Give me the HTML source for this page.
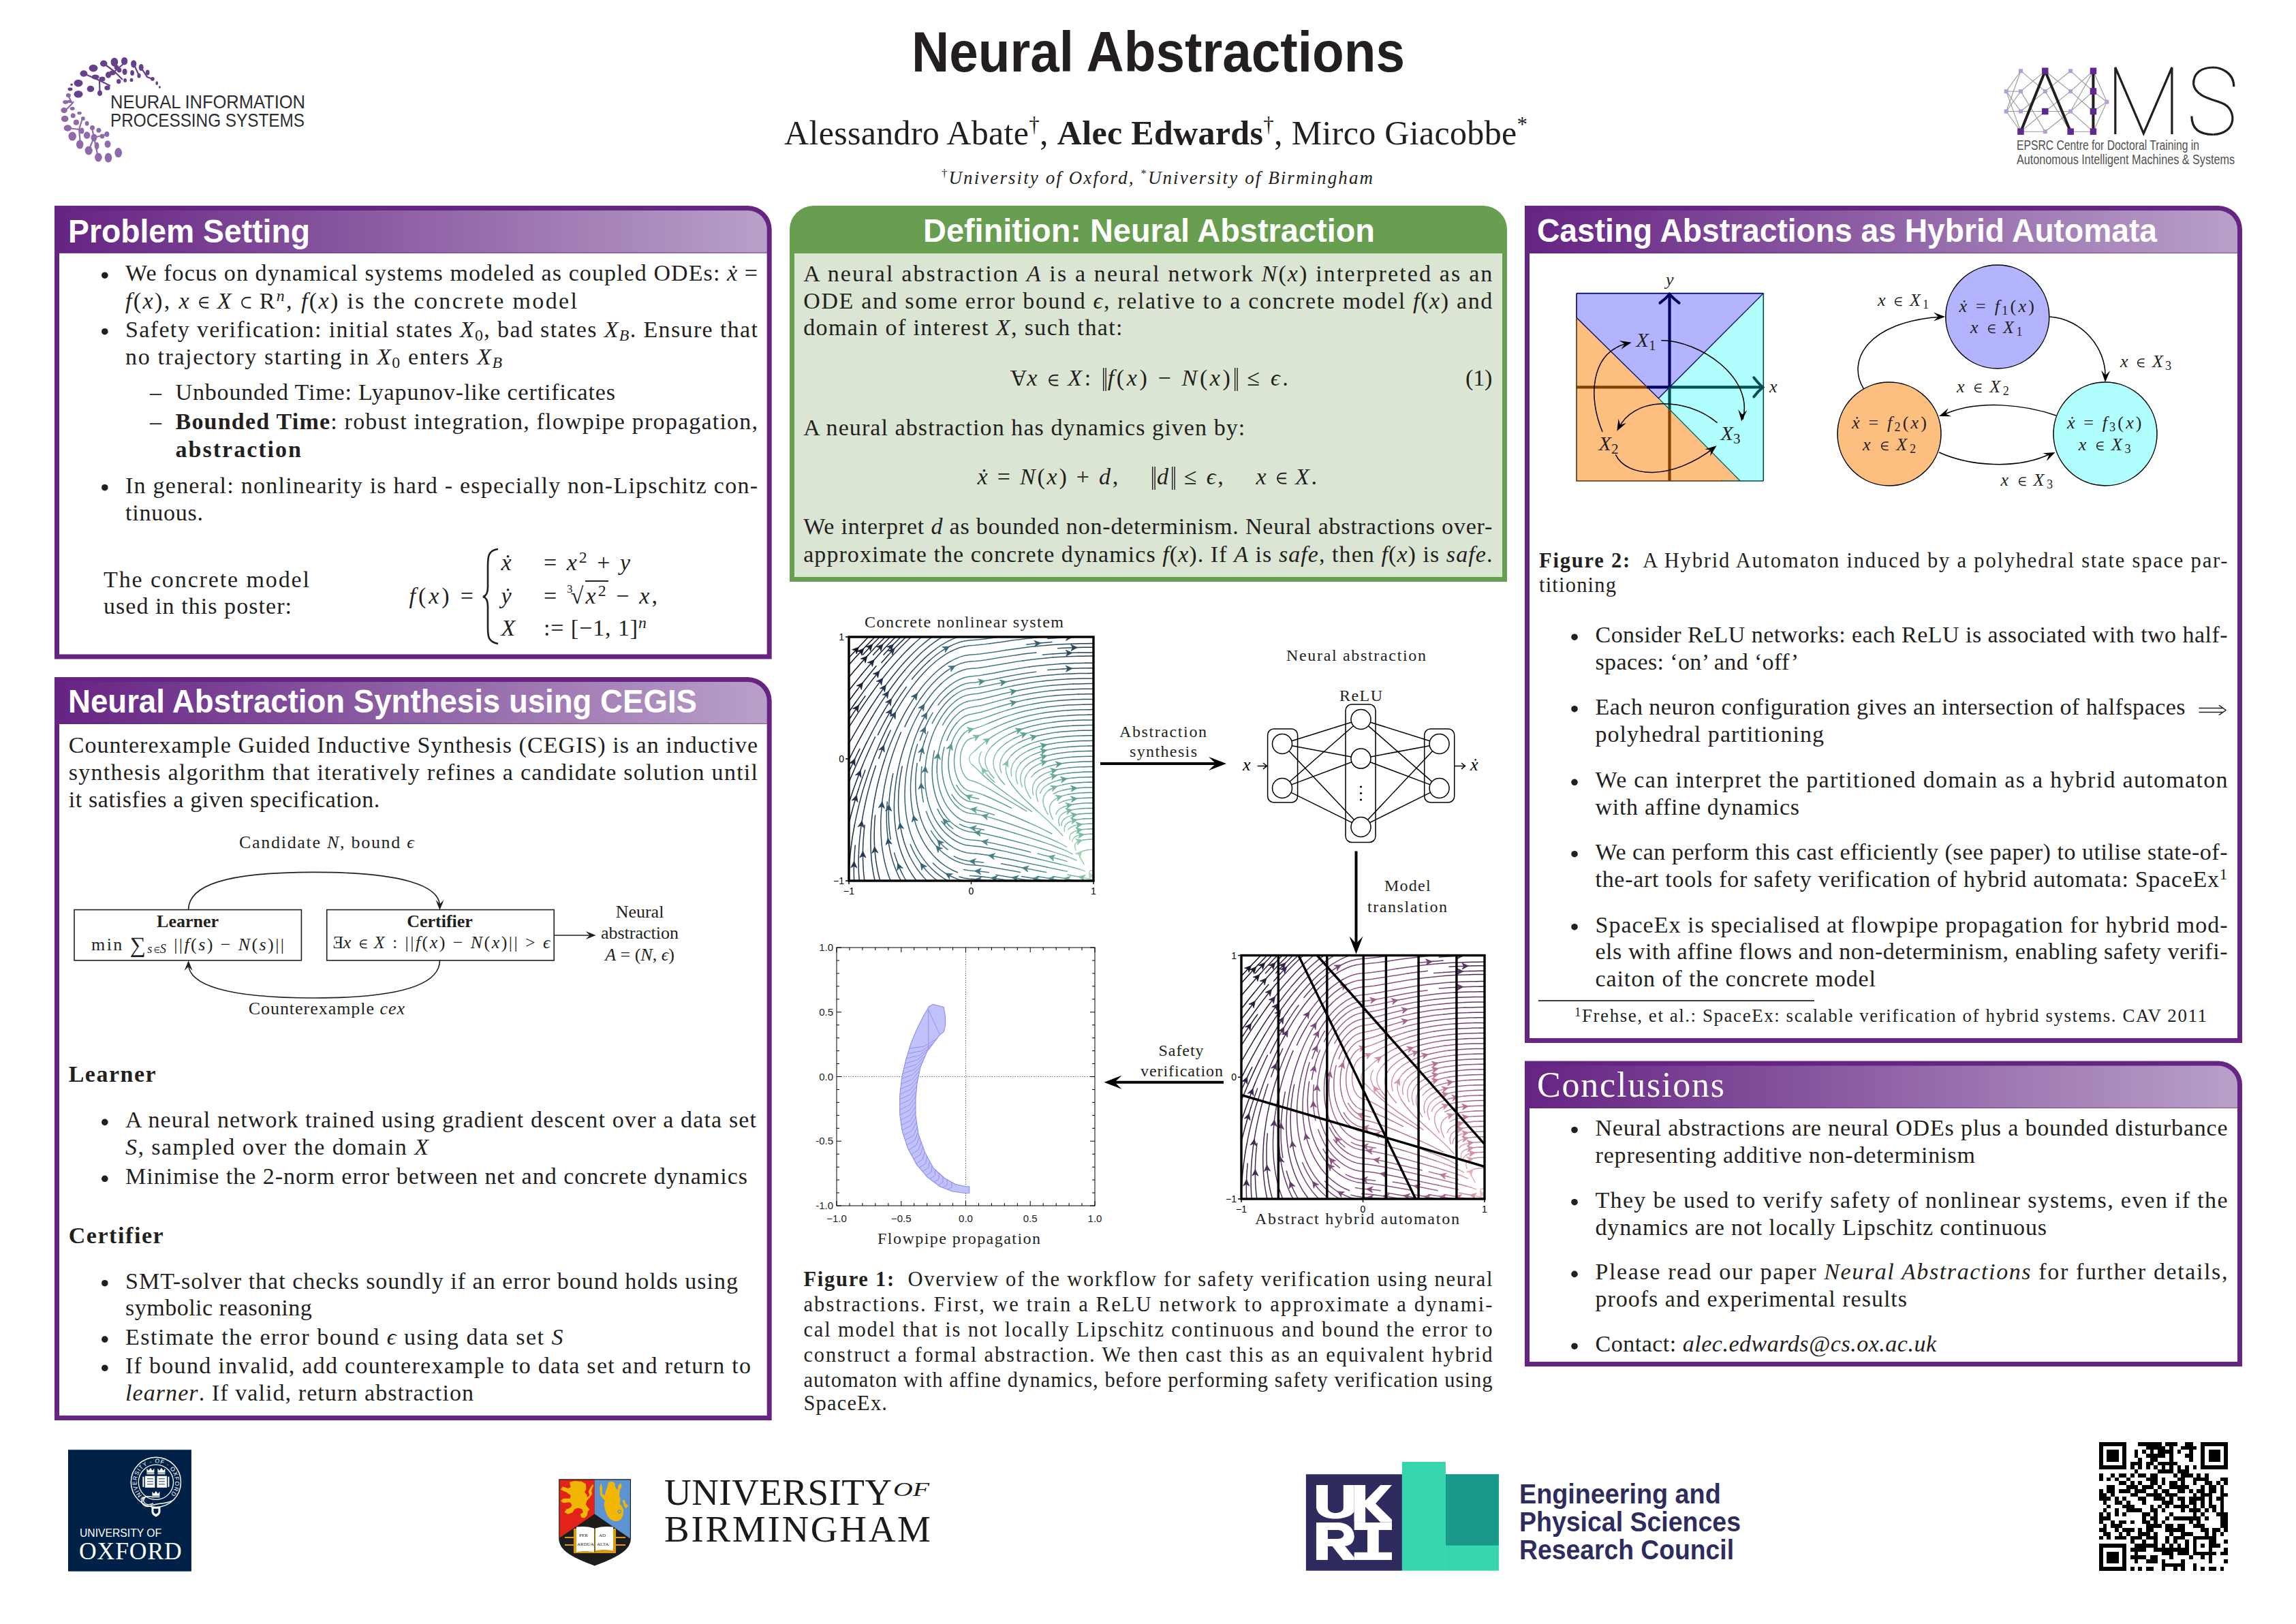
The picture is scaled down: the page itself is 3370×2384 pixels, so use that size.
<!DOCTYPE html><html><head><meta charset="utf-8"><title>Neural Abstractions</title><style>
*{margin:0;padding:0;box-sizing:border-box}
html,body{width:3370px;height:2384px;overflow:hidden;background:#fff}
body{position:relative;font-family:"Liberation Serif",serif;color:#231f20}
.a{position:absolute;white-space:nowrap;line-height:1}
#g{position:absolute;left:0;top:0}
.sb{font-size:0.7em;vertical-align:-0.22em;line-height:0}
.sp{font-size:0.7em;vertical-align:0.45em;line-height:0}
.sp2{font-size:0.62em;vertical-align:0.62em;line-height:0}
.rot{display:inline-block;transform:rotate(180deg)}
.mir{display:inline-block;transform:scaleX(-1)}
.subset{display:inline-block;width:0.5em;height:0.5em;border:0.065em solid currentColor;border-right:none;border-radius:0.25em 0 0 0.25em;vertical-align:0.02em}
.ovl{border-top:0.06em solid currentColor;padding-top:0.05em}
.idx{font-size:0.5em;vertical-align:0.9em;margin-right:-0.35em;line-height:0}
.impl{vertical-align:-0.05em}
.nrm{width:0.2em;height:1em;vertical-align:-0.24em;margin:0 0.03em}
.elm{width:0.5em;height:0.6em;vertical-align:-0.07em;overflow:visible}
</style></head><body><svg id="g" width="3370" height="2384" viewBox="0 0 3370 2384"><defs><linearGradient id="pg" x1="0" x2="1" y1="0" y2="0"><stop offset="0" stop-color="#662483"/><stop offset="1" stop-color="#b9a0c9"/></linearGradient></defs><path fill="#662483" d="M80.0 302.0H1097.7A35 35 0 0 1 1132.7 337.0V967.5H80.0Z"/><rect fill="#fff" x="87.0" y="371.5" width="1038.7" height="589.0"/><path fill="url(#pg)" d="M87.0 309.0H1097.7A28 28 0 0 1 1125.7 337.0V371.5H87.0Z"/><rect fill="#5c1f78" opacity="0.5" x="87.0" y="370.3" width="1038.7" height="1.2"/><path fill="#662483" d="M80.0 994.0H1097.7A35 35 0 0 1 1132.7 1029.0V2085.0H80.0Z"/><rect fill="#fff" x="87.0" y="1063.0" width="1038.7" height="1015.0"/><path fill="url(#pg)" d="M87.0 1001.0H1097.7A28 28 0 0 1 1125.7 1029.0V1063.0H87.0Z"/><rect fill="#5c1f78" opacity="0.5" x="87.0" y="1061.8" width="1038.7" height="1.2"/><path fill="#689e50" d="M1159.0 337.0A35 35 0 0 1 1194.0 302.0H2177.0A35 35 0 0 1 2212.0 337.0V854.0H1159.0Z"/><rect fill="#dbe5d4" x="1166.0" y="372.0" width="1039.0" height="475.0"/><path fill="#662483" d="M2238.0 302.0H3256.0A35 35 0 0 1 3291.0 337.0V1531.0H2238.0Z"/><rect fill="#fff" x="2245.0" y="372.0" width="1039.0" height="1152.0"/><path fill="url(#pg)" d="M2245.0 309.0H3256.0A28 28 0 0 1 3284.0 337.0V372.0H2245.0Z"/><rect fill="#5c1f78" opacity="0.5" x="2245.0" y="370.8" width="1039.0" height="1.2"/><path fill="#662483" d="M2238.0 1557.5H3256.0A35 35 0 0 1 3291.0 1592.5V2006.0H2238.0Z"/><rect fill="#fff" x="2245.0" y="1627.0" width="1039.0" height="372.0"/><path fill="url(#pg)" d="M2245.0 1564.5H3256.0A28 28 0 0 1 3284.0 1592.5V1627.0H2245.0Z"/><rect fill="#5c1f78" opacity="0.5" x="2245.0" y="1625.8" width="1039.0" height="1.2"/><path fill="none" stroke="#231f20" stroke-width="2.6" d="M731 806 C716 808 716 818 716 832 L716 862 C716 872 713 875 709 876 C713 877 716 880 716 890 L716 920 C716 934 716 942 731 945"/><g fill="none" stroke="#231f20" stroke-width="1.6"><rect x="109" y="1335.5" width="333.4" height="74.3"/><rect x="479.7" y="1335.5" width="333.5" height="74.3"/><path d="M276.6 1335.5 C276.6 1300 330 1280.4 461 1280.4 C590 1280.4 645.5 1300 645.5 1330"/><path d="M645.5 1409.8 C645.5 1445 590 1465 461 1465 C330 1465 276.6 1445 276.6 1415"/><path d="M813.2 1373H868"/></g><path fill="#231f20" stroke="none" d="M645.5 1336.0L639.5 1321.0L645.5 1327.0L651.5 1321.0Z"/><path fill="#231f20" stroke="none" d="M276.6 1410.0L282.6 1425.0L276.6 1419.0L270.6 1425.0Z"/><path fill="#231f20" stroke="none" d="M874.6 1373.0L859.6 1379.0L865.6 1373.0L859.6 1367.0Z"/><path stroke="#000" stroke-width="4" d="M1615 1121H1785"/><path fill="#000" stroke="none" d="M1800.0 1121.0L1774.0 1131.0L1784.4 1121.0L1774.0 1111.0Z"/><path stroke="#000" stroke-width="4" d="M1990.5 1249.5V1385"/><path fill="#000" stroke="none" d="M1990.5 1400.5L1980.5 1374.5L1990.5 1384.9L2000.5 1374.5Z"/><path stroke="#000" stroke-width="4" d="M1796 1588.7H1635"/><path fill="#000" stroke="none" d="M1620.5 1588.7L1646.5 1578.7L1636.1 1588.7L1646.5 1598.7Z"/><g fill="none" stroke="#000" stroke-width="1.5"><rect x="1860.6" y="1070" width="44" height="108" rx="9"/><rect x="1975" y="1034" width="44" height="202.5" rx="9"/><rect x="2090.7" y="1070" width="44" height="108" rx="9"/><path d="M1895.8 1087.7L1983.7 1060.3"/><path d="M1896.3 1094.7L1983.2 1110.9"/><path d="M1892.0 1102.5L1987.5 1203.5"/><path d="M1892.9 1147.5L1986.6 1065.5"/><path d="M1895.6 1151.9L1983.9 1118.7"/><path d="M1895.0 1163.4L1984.5 1207.6"/><path d="M2011.3 1060.3L2098.8 1087.7"/><path d="M2008.4 1065.6L2101.7 1147.4"/><path d="M2011.8 1110.9L2098.3 1094.7"/><path d="M2011.1 1118.7L2099.0 1151.9"/><path d="M2007.5 1203.5L2102.6 1102.5"/><path d="M2010.5 1207.6L2099.6 1163.4"/><circle cx="1882.0" cy="1092.0" r="14.5" fill="#fff"/><circle cx="1882.0" cy="1157.0" r="14.5" fill="#fff"/><circle cx="1997.5" cy="1056.0" r="14.5" fill="#fff"/><circle cx="1997.5" cy="1113.6" r="14.5" fill="#fff"/><circle cx="1997.5" cy="1214.0" r="14.5" fill="#fff"/><circle cx="2112.6" cy="1092.0" r="14.5" fill="#fff"/><circle cx="2112.6" cy="1157.0" r="14.5" fill="#fff"/><path d="M1845.7 1124.4H1859M2135 1124.4H2150"/><path d="M1854 1120L1859.5 1124.4L1854 1128.8M2145 1120L2150.5 1124.4L2145 1128.8"/></g><circle cx="1997.5" cy="1155.0" r="1.6" fill="#000"/><circle cx="1997.5" cy="1164.5" r="1.6" fill="#000"/><circle cx="1997.5" cy="1174.0" r="1.6" fill="#000"/><text x="1824" y="1131" font-family="Liberation Serif" font-style="italic" font-size="26" fill="#000">x</text><text x="2158" y="1131" font-family="Liberation Serif" font-style="italic" font-size="26" fill="#000">ẋ</text><clipPath id="c1"><rect x="1246" y="935" width="359" height="358"/></clipPath><clipPath id="c2"><rect x="1822" y="1402.5" width="357" height="357.5"/></clipPath><g clip-path="url(#c1)"><g fill="none" stroke-width="1.5" stroke-linecap="round" stroke-linejoin="round"><path stroke="#badfc3" d="M1604.9 1292.6 1604.0 1290.9 1603.4 1289.4 1602.4 1287.5 1601.4 1286.0 1600.2 1284.0 1599.3 1282.2 1598.8 1279.7 1599.6 1278.6M1605.0 1291.7 1600.8 1290.7"/><path stroke="#9fd1b3" d="M1599.6 1278.6 1601.8 1278.0 1605.0 1277.8M1591.2 1268.8 1588.2 1263.7 1586.3 1260.0 1585.3 1257.2 1584.9 1254.8 1585.5 1252.2 1587.3 1250.3 1590.2 1248.9M1579.2 1248.4 1578.0 1245.0 1577.6 1242.2 1578.1 1239.2 1579.9 1236.9 1582.9 1235.0M1570.4 1232.8 1570.0 1229.5 1570.6 1226.2 1572.4 1223.4M1562.4 1220.4 1562.1 1216.7 1562.9 1213.0M1427.7 1123.1 1424.5 1120.5 1422.8 1116.1 1422.8 1112.2 1423.7 1109.4 1425.5 1107.0 1431.1 1102.1M1592.3 1278.8 1585.3 1276.3M1600.8 1290.7 1596.4 1289.8 1589.1 1288.3M1573.7 1235.2 1574.4 1232.1 1577.3 1228.9"/><path stroke="#89c4a8" d="M1605.0 1277.8 1605.0 1277.8M1590.2 1248.9 1597.5 1247.6 1605.0 1247.3M1582.9 1235.0 1590.1 1233.0M1572.4 1223.4 1575.7 1221.1 1582.7 1218.7M1567.8 1217.7 1570.6 1215.0 1575.4 1212.6 1582.7 1210.8M1562.9 1213.0 1564.9 1209.9 1568.4 1207.2 1575.3 1204.5M1558.0 1211.7 1558.4 1207.9 1560.0 1204.4 1563.1 1201.4 1568.1 1198.6 1575.3 1196.4M1555.1 1212.2 1554.0 1207.8 1553.8 1203.8 1554.9 1199.8 1557.2 1196.3 1561.2 1193.3 1568.0 1190.3M1549.9 1195.5 1552.0 1191.1 1555.3 1187.7 1560.8 1184.6M1553.8 1179.3 1560.6 1176.2M1545.4 1202.8 1542.6 1197.0 1541.1 1191.9 1540.5 1187.3 1541.1 1182.7 1543.5 1178.0 1547.1 1174.3 1553.5 1170.5M1538.0 1195.4 1534.5 1188.9 1532.2 1183.2 1531.2 1178.1 1531.1 1173.2 1532.5 1168.3 1535.2 1164.0 1539.6 1160.0M1526.7 1164.6 1529.2 1159.3 1533.0 1155.1 1539.1 1150.9M1523.6 1176.5 1521.7 1170.7 1520.9 1165.4 1521.2 1160.2 1523.1 1154.9 1526.4 1150.3 1532.2 1145.6M1516.7 1166.8 1515.6 1161.2 1515.6 1155.9 1517.1 1150.4 1520.0 1145.6 1525.3 1140.5M1513.6 1140.9 1518.6 1135.4M1513.1 1172.3 1509.3 1165.9 1506.2 1159.4 1504.5 1153.5 1503.9 1147.8 1504.6 1142.1 1507.2 1136.1 1511.8 1130.3M1500.3 1155.0 1498.4 1149.0 1497.7 1143.2 1498.3 1137.3 1500.6 1131.1 1505.1 1125.2M1493.8 1150.4 1491.8 1144.3 1491.0 1138.3 1491.6 1132.3 1494.0 1126.0 1498.3 1120.0M1484.7 1139.3 1483.9 1133.3 1484.6 1127.1 1487.0 1120.6 1491.4 1114.6M1559.9 1226.7 1554.9 1221.2 1549.7 1215.9 1544.3 1210.7 1538.9 1205.5 1533.4 1200.5 1527.9 1195.5 1522.3 1190.5M1482.0 1146.8 1478.8 1140.3 1476.9 1134.1 1476.2 1128.1 1477.0 1121.7 1479.9 1114.9 1484.3 1108.9M1469.7 1134.3 1468.0 1128.3 1467.7 1122.1 1469.1 1115.4 1472.3 1108.8 1477.0 1103.0M1465.4 1140.2 1461.6 1133.9 1459.2 1127.9 1458.0 1121.9 1458.2 1115.5 1460.5 1108.5 1464.5 1102.2M1454.1 1136.4 1450.0 1130.3 1447.4 1124.7 1446.0 1119.1 1446.1 1113.0 1447.8 1107.2 1451.5 1100.8 1456.3 1095.1M1442.8 1137.6 1437.4 1132.4 1432.1 1127.2 1427.7 1123.1M1431.1 1102.1 1436.5 1096.9 1442.1 1092.0 1447.9 1087.3M1425.4 1084.0 1432.5 1082.0M1574.2 1253.8 1567.6 1250.3 1560.8 1247.3M1585.3 1276.3 1578.1 1274.2M1589.1 1288.3 1581.8 1286.8M1577.3 1228.9 1580.7 1227.1 1585.6 1225.7 1592.7 1224.7M1580.1 1263.0 1573.2 1260.0 1566.2 1257.3M1565.7 1243.3 1559.2 1239.7 1552.5 1236.4M1449.2 1137.8 1444.4 1132.1 1440.3 1125.9 1437.5 1119.1 1437.0 1113.8 1438.1 1108.5 1440.3 1103.8"/><path stroke="#73b49f" d="M1582.1 1293.0 1574.7 1291.7 1567.3 1290.4M1605.0 1247.3 1605.0 1247.3M1590.1 1233.0 1597.5 1232.3 1605.0 1232.1M1582.7 1218.7 1590.1 1217.5 1597.5 1217.0M1582.7 1210.8 1590.1 1209.8 1597.5 1209.3M1575.3 1204.5 1582.6 1203.0 1590.1 1202.1M1575.3 1196.4 1582.6 1195.2M1568.0 1190.3 1575.2 1188.5 1582.6 1187.4M1560.8 1184.6 1567.9 1182.2 1575.2 1180.7M1560.6 1176.2 1567.8 1174.2 1575.2 1172.9M1553.5 1170.5 1560.5 1168.0 1567.8 1166.3M1546.5 1165.1 1553.3 1162.0 1560.4 1159.9M1539.6 1160.0 1546.1 1156.4 1553.1 1153.8 1560.4 1151.9M1539.1 1150.9 1545.9 1147.8 1553.0 1145.6M1532.2 1145.6 1538.7 1142.1 1545.7 1139.5M1525.3 1140.5 1531.7 1136.6 1538.5 1133.6 1545.6 1131.3M1518.6 1135.4 1524.7 1131.1 1531.3 1127.8 1538.4 1125.2M1511.8 1130.3 1517.7 1125.7 1524.2 1122.1 1531.1 1119.3M1505.1 1125.2 1510.7 1120.4 1517.1 1116.5 1523.9 1113.4M1498.3 1120.0 1503.8 1115.0 1510.1 1110.9 1516.7 1107.6M1491.4 1114.6 1496.8 1109.5 1503.0 1105.3 1509.6 1101.8M1522.3 1190.5 1516.8 1185.4 1511.3 1180.4 1505.9 1175.2 1500.6 1170.0 1495.5 1164.6 1490.6 1158.9 1486.0 1153.0 1482.0 1146.8M1484.3 1108.9 1489.8 1103.9 1495.9 1099.6 1502.4 1096.0M1477.0 1103.0 1482.6 1098.1 1488.7 1093.8 1495.2 1090.2M1474.7 1151.8 1469.8 1146.2 1465.4 1140.2M1464.5 1102.2 1469.6 1096.8 1475.3 1092.0 1481.5 1087.9 1488.0 1084.2M1458.8 1142.1 1454.1 1136.4M1456.3 1095.1 1461.9 1090.1 1467.9 1085.7 1474.2 1081.7 1480.8 1078.1M1514.4 1191.3 1508.3 1187.1 1502.2 1182.8 1496.0 1178.6 1489.9 1174.3 1483.8 1170.0 1477.7 1165.6 1471.7 1161.2 1465.7 1156.7 1459.8 1152.1 1454.0 1147.4 1448.3 1142.6 1442.8 1137.6M1447.9 1087.3 1454.0 1083.0 1460.3 1079.0 1466.8 1075.3 1473.4 1071.9M1506.8 1190.9 1500.4 1187.0 1494.0 1183.2 1487.6 1179.3 1481.1 1175.5 1474.7 1171.7 1468.3 1167.8 1461.9 1164.0 1455.5 1160.2 1449.0 1156.4 1442.5 1152.8 1435.8 1149.4 1428.8 1146.8 1424.7 1145.8 1420.7 1144.1 1416.7 1140.2 1413.0 1133.9 1410.6 1126.8 1409.5 1119.4 1409.5 1112.0 1410.5 1104.6 1412.6 1097.7 1415.4 1092.2 1418.3 1088.2 1421.4 1085.6 1425.4 1084.0M1432.5 1082.0 1439.3 1078.8 1445.9 1075.3 1452.6 1071.9 1459.3 1068.6M1444.1 1167.3 1437.1 1164.7 1430.0 1162.6 1425.1 1161.8 1420.1 1160.3 1415.1 1156.9M1414.9 1076.4 1418.7 1073.3 1423.4 1071.2 1430.6 1069.4 1437.8 1067.1 1444.7 1064.4 1451.6 1061.5M1543.8 1224.0 1537.2 1220.5 1530.5 1217.2 1523.7 1213.9 1517.0 1210.8 1510.1 1207.7M1560.8 1247.3 1553.8 1244.5 1546.9 1241.8 1539.8 1239.3 1532.7 1236.9M1578.1 1274.2 1570.9 1272.3 1563.6 1270.4 1556.4 1268.7M1581.8 1286.8 1574.4 1285.4 1567.1 1283.9M1566.5 1279.3 1559.2 1277.8M1566.4 1264.6 1559.2 1262.5 1552.0 1260.6M1592.7 1224.7 1600.1 1224.3M1566.2 1257.3 1559.2 1254.9 1552.1 1252.6 1544.9 1250.4M1552.5 1236.4 1545.7 1233.3 1538.8 1230.3 1531.9 1227.5 1524.9 1224.8M1459.9 1148.3 1454.4 1143.2 1449.2 1137.8"/><path stroke="#5fa195" d="M1559.2 1293.0 1551.8 1291.7M1567.3 1290.4 1560.0 1289.1 1552.6 1287.8 1545.3 1286.4M1605.0 1232.1 1605.0 1232.1M1597.5 1217.0 1605.0 1216.8 1605.0 1216.8M1597.5 1209.3 1605.0 1209.2 1605.0 1209.2M1590.1 1202.1 1597.5 1201.7 1605.0 1201.6M1582.6 1195.2 1590.1 1194.5 1597.5 1194.1 1605.0 1194.0M1582.6 1187.4 1590.1 1186.8 1597.5 1186.5M1575.2 1180.7 1582.6 1179.7 1590.0 1179.1 1597.5 1178.8M1575.2 1172.9 1582.6 1172.0 1590.0 1171.5M1567.8 1166.3 1575.1 1165.1 1582.6 1164.3 1590.0 1163.8M1560.4 1159.9 1567.7 1158.4 1575.1 1157.4 1582.6 1156.7M1560.4 1151.9 1567.7 1150.6 1575.1 1149.6M1553.0 1145.6 1560.3 1144.0 1567.7 1142.8 1575.1 1141.9M1545.7 1139.5 1553.0 1137.6 1560.3 1136.1 1567.7 1135.0M1545.6 1131.3 1552.9 1129.6 1560.3 1128.3 1567.7 1127.3M1538.4 1125.2 1545.6 1123.2 1552.9 1121.7 1560.2 1120.5M1531.1 1119.3 1538.2 1117.0 1545.5 1115.2 1552.8 1113.8M1523.9 1113.4 1531.0 1110.9 1538.2 1108.9 1545.4 1107.3M1516.7 1107.6 1523.7 1104.9 1530.8 1102.7 1538.1 1100.8 1545.4 1099.3M1509.6 1101.8 1516.5 1098.9 1523.5 1096.5 1530.7 1094.5 1538.0 1092.8M1502.4 1096.0 1509.2 1093.0 1516.3 1090.4 1523.4 1088.2 1530.7 1086.4M1495.2 1090.2 1502.0 1087.0 1509.0 1084.4 1516.1 1082.0 1523.3 1080.1M1488.0 1084.2 1494.8 1081.1 1501.7 1078.3 1508.8 1075.9 1516.0 1073.8M1480.8 1078.1 1487.5 1075.0 1494.5 1072.2 1501.5 1069.7 1508.7 1067.5M1473.4 1071.9 1480.2 1068.8 1487.2 1066.0 1494.2 1063.5 1501.3 1061.2M1459.3 1068.6 1466.0 1065.4 1472.9 1062.5 1479.9 1059.7 1486.9 1057.2 1494.0 1055.0M1484.7 1186.3 1478.0 1183.0 1471.3 1179.7 1464.6 1176.5 1457.8 1173.3 1451.0 1170.2 1444.1 1167.3M1415.1 1156.9 1410.1 1151.4 1406.3 1145.0 1403.6 1138.1 1401.7 1130.9 1400.7 1123.5 1400.5 1116.1 1401.0 1108.6 1402.3 1101.3 1404.3 1094.1 1407.2 1087.3 1411.0 1081.0 1414.9 1076.4M1451.6 1061.5 1458.5 1058.7 1465.5 1056.0 1472.5 1053.3 1479.6 1050.9 1486.7 1048.6M1510.1 1207.7 1503.3 1204.7 1496.4 1201.8 1489.6 1198.8 1482.7 1196.0 1475.7 1193.1 1468.8 1190.3 1461.8 1187.6 1454.8 1185.0 1447.8 1182.5 1440.7 1180.3 1433.4 1178.4 1427.0 1177.3 1420.5 1176.0 1414.0 1172.6 1408.3 1167.7 1403.6 1162.0 1399.8 1155.5 1396.9 1148.7 1394.6 1141.6M1397.0 1090.2 1399.8 1083.3 1403.3 1076.7 1407.6 1070.6 1412.3 1065.6 1416.9 1062.2 1422.2 1059.8 1429.5 1058.1 1436.8 1056.4 1443.9 1054.1 1451.0 1051.7 1458.0 1049.2 1465.1 1046.8 1472.2 1044.4 1479.3 1042.2M1404.3 1061.2 1409.5 1056.0 1414.7 1052.2 1421.5 1049.2 1428.8 1047.7 1436.1 1046.3 1443.3 1044.4 1450.5 1042.2 1457.6 1040.0 1464.8 1037.8M1532.7 1236.9 1525.7 1234.5 1518.5 1232.2 1511.4 1229.9 1504.3 1227.7 1497.2 1225.5 1490.0 1223.3M1414.0 1041.9 1420.9 1039.2 1428.2 1037.8 1435.6 1036.6 1442.9 1034.9 1450.1 1033.0 1457.3 1031.1M1420.5 1029.5 1427.8 1028.3 1435.2 1027.3M1556.4 1268.7 1549.1 1266.9 1541.8 1265.2 1534.5 1263.5 1527.2 1261.7M1559.2 1277.8 1551.9 1276.2 1544.5 1274.7 1537.2 1273.1M1552.0 1260.6 1544.7 1258.6 1537.5 1256.7 1530.3 1254.9 1523.0 1253.0M1600.1 1224.3 1605.0 1224.2M1544.9 1250.4 1537.7 1248.3 1530.6 1246.2 1523.4 1244.1 1516.2 1242.1 1509.0 1240.1M1524.9 1224.8 1517.9 1222.1 1510.9 1219.5 1503.9 1217.0 1496.8 1214.5 1489.8 1212.0 1482.7 1209.5 1475.6 1207.2 1468.5 1204.8 1461.4 1202.6 1454.3 1200.4 1447.1 1198.4 1439.8 1196.5 1432.5 1195.1 1425.1 1194.2 1418.9 1193.0 1413.2 1190.5 1407.3 1186.5M1459.4 1196.3 1452.2 1194.0 1445.1 1191.9 1437.8 1190.0 1430.5 1188.6 1423.1 1187.4 1417.1 1185.6 1411.7 1182.6 1406.1 1178.0 1401.2 1172.5M1436.6 1172.8 1429.3 1171.1 1422.1 1169.4 1416.7 1167.0 1412.2 1163.6 1407.7 1158.6 1403.6 1152.3"/><path stroke="#4f8e8d" d="M1414.8 994.9 1422.1 993.3 1429.5 992.5 1436.9 991.7 1444.3 990.5M1536.3 1293.0 1528.9 1291.7 1521.5 1290.4M1551.8 1291.7 1544.4 1290.4 1537.1 1289.1 1529.7 1287.8 1522.4 1286.4M1605.0 1201.6 1605.0 1201.6M1605.0 1194.0 1605.0 1194.0M1597.5 1186.5 1605.0 1186.4 1605.0 1186.4M1597.5 1178.8 1605.0 1178.7 1605.0 1178.7M1590.0 1171.5 1597.5 1171.2 1605.0 1171.1 1605.0 1171.1M1590.0 1163.8 1597.5 1163.6 1605.0 1163.5M1582.6 1156.7 1590.0 1156.2 1597.5 1156.0 1605.0 1155.9M1575.1 1149.6 1582.6 1149.0 1590.0 1148.6 1597.5 1148.3M1575.1 1141.9 1582.6 1141.3 1590.0 1140.9 1597.5 1140.7M1567.7 1135.0 1575.1 1134.2 1582.6 1133.7 1590.0 1133.3M1567.7 1127.3 1575.1 1126.5 1582.6 1126.0 1590.0 1125.7M1560.2 1120.5 1567.7 1119.5 1575.1 1118.9 1582.6 1118.4M1552.8 1113.8 1560.2 1112.7 1567.7 1111.8 1575.1 1111.2M1545.4 1107.3 1552.8 1106.0 1560.2 1104.9 1567.7 1104.1 1575.1 1103.5M1545.4 1099.3 1552.8 1098.1 1560.2 1097.2 1567.6 1096.4M1538.0 1092.8 1545.4 1091.5 1552.8 1090.3 1560.2 1089.4 1567.6 1088.7M1530.7 1086.4 1538.0 1084.9 1545.4 1083.6 1552.8 1082.6 1560.2 1081.7M1523.3 1080.1 1530.6 1078.4 1538.0 1077.0 1545.3 1075.8 1552.7 1074.8M1516.0 1073.8 1523.2 1072.0 1530.6 1070.4 1537.9 1069.1 1545.3 1068.0M1508.7 1067.5 1515.9 1065.6 1523.2 1063.9 1530.5 1062.5 1537.9 1061.2 1545.3 1060.2M1501.3 1061.2 1508.6 1059.2 1515.8 1057.5 1523.1 1055.9 1530.5 1054.6 1537.9 1053.4M1494.0 1055.0 1501.2 1052.9 1508.5 1051.1 1515.8 1049.4 1523.1 1048.0 1530.5 1046.7M1486.7 1048.6 1493.9 1046.5 1501.1 1044.6 1508.4 1042.9 1515.7 1041.4 1523.1 1040.0M1394.6 1141.6 1393.1 1134.3 1392.2 1126.9 1392.0 1119.5 1392.4 1112.0 1393.3 1104.6 1394.9 1097.3 1397.0 1090.2M1479.3 1042.2 1486.5 1040.1 1493.7 1038.2 1501.0 1036.5 1508.3 1034.9 1515.7 1033.4M1389.8 1087.1 1392.6 1080.2 1395.9 1073.5 1399.7 1067.1 1404.3 1061.2M1464.8 1037.8 1472.0 1035.7 1479.1 1033.7 1486.4 1031.7 1493.6 1030.0 1500.9 1028.3 1508.3 1026.8M1490.0 1223.3 1482.8 1221.1 1475.7 1219.0 1468.5 1217.0 1461.3 1215.0 1454.0 1213.1 1446.8 1211.3 1439.5 1209.8 1432.1 1208.5 1425.2 1207.8 1417.9 1206.5 1411.1 1203.6 1404.8 1199.5 1399.2 1194.6 1394.2 1189.1 1389.9 1183.1 1386.1 1176.6 1383.0 1169.8 1380.4 1162.8 1378.4 1155.7 1376.9 1148.4 1375.9 1141.0 1375.3 1133.5M1375.5 1118.6 1376.3 1111.2 1377.5 1103.9 1379.1 1096.6 1381.1 1089.4 1383.5 1082.3 1386.4 1075.5 1389.7 1068.8 1393.5 1062.4 1397.8 1056.3 1402.7 1050.7 1408.3 1045.7 1414.0 1041.9M1457.3 1031.1 1464.5 1029.1 1471.8 1027.1 1479.0 1025.2 1486.3 1023.5 1493.5 1021.8 1500.9 1020.3M1383.6 1064.3 1387.4 1057.8 1391.6 1051.7 1396.3 1045.9 1401.5 1040.6 1407.3 1035.9 1413.5 1032.1 1420.5 1029.5M1435.2 1027.3 1442.6 1025.8 1449.8 1024.1 1457.1 1022.3 1464.3 1020.4 1471.6 1018.6 1478.9 1016.9 1486.2 1015.2 1493.5 1013.7M1527.2 1261.7 1520.0 1260.1 1512.7 1258.4 1505.4 1256.7 1498.1 1255.0 1490.8 1253.4 1483.5 1251.7 1476.2 1250.1 1468.9 1248.6M1390.1 1041.3 1395.1 1035.7 1400.6 1030.7 1406.6 1026.2 1413.1 1022.6 1420.2 1020.2 1427.5 1019.0 1434.9 1018.2 1442.3 1016.8 1449.6 1015.3 1456.9 1013.6 1464.2 1011.9 1471.5 1010.2 1478.8 1008.6 1486.1 1007.1M1400.0 1021.0 1406.2 1016.8 1412.8 1013.4 1419.9 1011.1 1427.3 1010.0 1434.7 1009.3 1442.1 1008.0 1449.4 1006.6 1456.7 1005.1 1464.0 1003.5 1471.4 1001.9 1478.7 1000.4M1535.7 1280.6 1528.3 1279.2 1521.0 1277.8 1513.6 1276.3 1506.3 1274.9M1537.2 1273.1 1529.9 1271.6 1522.6 1270.0 1515.3 1268.5 1508.0 1266.9 1500.6 1265.4 1493.3 1263.8M1509.0 1240.1 1501.8 1238.1 1494.5 1236.2 1487.3 1234.3 1480.1 1232.4 1472.8 1230.5 1465.6 1228.7 1458.3 1227.0 1451.0 1225.3 1443.7 1223.8 1436.3 1222.6 1428.9 1221.7 1421.5 1220.7 1414.3 1218.8 1407.6 1215.6 1401.3 1211.5 1395.6 1206.7 1390.5 1201.3 1386.0 1195.3M1512.6 1250.9 1505.3 1249.1 1498.1 1247.3 1490.8 1245.5 1483.5 1243.8 1476.2 1242.1 1469.0 1240.4 1461.7 1238.8 1454.3 1237.3 1447.0 1235.8 1439.6 1234.6 1432.2 1233.6 1424.8 1233.0 1417.4 1231.9 1410.4 1229.4 1403.7 1226.0M1407.3 1186.5 1401.9 1181.4 1397.2 1175.6 1393.2 1169.3 1390.0 1162.6 1387.3 1155.6 1385.3 1148.5 1383.8 1141.1 1382.9 1133.7 1382.5 1126.3 1382.6 1118.9 1383.2 1111.4 1384.3 1104.0 1385.9 1096.8M1403.9 1009.5 1410.5 1006.0 1417.4 1003.5 1424.7 1002.3 1432.1 1001.7 1439.5 1000.6 1446.9 999.3 1454.2 997.9 1461.6 996.4M1398.8 1216.8 1393.1 1211.9M1444.3 1218.2 1437.0 1216.8 1429.5 1215.8 1422.1 1214.9 1415.0 1213.0 1408.3 1209.8M1401.2 1172.5 1397.0 1166.3"/><path stroke="#427a83" d="M1415.6 948.9 1423.0 947.8 1430.5 947.3 1437.9 946.6 1445.4 945.8 1452.8 944.8M1395.5 970.6 1402.2 967.2 1409.1 964.4 1416.3 962.3 1423.7 961.3 1431.1 960.7 1438.6 960.0 1446.0 959.1 1453.4 958.0 1460.8 956.9 1468.2 955.7 1475.6 954.6M1381.2 1003.9 1386.8 999.0 1392.7 994.4 1398.9 990.3 1405.5 986.8 1412.4 984.0 1419.7 982.1 1427.1 981.3 1434.5 980.7 1441.9 979.7 1449.3 978.6 1456.7 977.3 1464.1 976.0 1471.4 974.8 1478.8 973.5 1486.2 972.3 1493.6 971.1 1501.0 970.0M1369.5 1032.3 1374.0 1026.4 1378.8 1020.6 1383.9 1015.2 1389.3 1010.1 1395.1 1005.4 1401.3 1001.2 1407.9 997.7 1414.8 994.9M1444.3 990.5 1451.7 989.2 1459.0 987.9 1466.4 986.5 1473.7 985.1 1481.1 983.8 1488.5 982.5 1495.8 981.3 1503.2 980.1 1510.6 979.1M1482.8 1293.0 1475.4 1291.8 1468.0 1290.6 1460.6 1289.5 1453.2 1288.4 1445.8 1287.4M1430.9 1285.9 1423.5 1285.4M1513.3 1293.0 1506.0 1291.7 1498.6 1290.5 1491.2 1289.2 1483.9 1287.9 1476.5 1286.7 1469.1 1285.5 1461.7 1284.3M1521.5 1290.4 1514.2 1289.1 1506.8 1287.8 1499.4 1286.5M1605.0 1163.5 1605.0 1163.5M1605.0 1155.9 1605.0 1155.9M1597.5 1148.3 1605.0 1148.3 1605.0 1148.3M1597.5 1140.7 1605.0 1140.7 1605.0 1140.7M1590.0 1133.3 1597.5 1133.1 1605.0 1133.0 1605.0 1133.0M1590.0 1125.7 1597.5 1125.5 1605.0 1125.4 1605.0 1125.4M1582.6 1118.4 1590.0 1118.0 1597.5 1117.9 1605.0 1117.8M1575.1 1111.2 1582.6 1110.7 1590.0 1110.4 1597.5 1110.2 1605.0 1110.2M1575.1 1103.5 1582.6 1103.1 1590.0 1102.8 1597.5 1102.6M1567.6 1096.4 1575.1 1095.9 1582.6 1095.4 1590.0 1095.2 1597.5 1095.0M1567.6 1088.7 1575.1 1088.2 1582.6 1087.8 1590.0 1087.5M1560.2 1081.7 1567.6 1081.1 1575.1 1080.5 1582.6 1080.2 1590.0 1079.9M1552.7 1074.8 1560.2 1074.0 1567.6 1073.4 1575.1 1072.9 1582.6 1072.5M1545.3 1068.0 1552.7 1067.1 1560.2 1066.3 1567.6 1065.7 1575.1 1065.2M1545.3 1060.2 1552.7 1059.3 1560.2 1058.6 1567.6 1058.0 1575.1 1057.6M1537.9 1053.4 1545.3 1052.4 1552.7 1051.6 1560.2 1050.9 1567.6 1050.4M1530.5 1046.7 1537.9 1045.6 1545.3 1044.7 1552.7 1043.9 1560.2 1043.2 1567.6 1042.7M1523.1 1040.0 1530.4 1038.9 1537.8 1037.8 1545.3 1036.9 1552.7 1036.2 1560.2 1035.6M1515.7 1033.4 1523.0 1032.2 1530.4 1031.0 1537.8 1030.0 1545.3 1029.2 1552.7 1028.5M1508.3 1026.8 1515.6 1025.5 1523.0 1024.3 1530.4 1023.2 1537.8 1022.3 1545.3 1021.5M1375.3 1133.5 1375.2 1126.1 1375.5 1118.6M1500.9 1020.3 1508.2 1018.9 1515.6 1017.6 1523.0 1016.4 1530.4 1015.4 1537.8 1014.5 1545.2 1013.8M1493.5 1013.7 1500.8 1012.2 1508.2 1010.9 1515.6 1009.7 1523.0 1008.6 1530.4 1007.6 1537.8 1006.8M1468.9 1248.6 1461.6 1247.1 1454.2 1245.6 1446.9 1244.3 1439.5 1243.1 1432.1 1242.2 1424.6 1241.6 1417.2 1240.6 1410.2 1238.3 1403.4 1235.0 1397.1 1231.0 1391.3 1226.4 1385.9 1221.2 1381.1 1215.5 1376.7 1209.5 1372.8 1203.1 1369.4 1196.5 1366.4 1189.6 1363.9 1182.6 1361.9 1175.4 1360.3 1168.2 1359.0 1160.8 1358.2 1153.4 1357.7 1146.0 1357.6 1138.5 1357.8 1131.1 1358.4 1123.6 1359.2 1116.2 1360.4 1108.9 1361.9 1101.6 1363.8 1094.3 1365.9 1087.2 1368.3 1080.1 1371.1 1073.2 1374.2 1066.4 1377.6 1059.8 1381.4 1053.4 1385.6 1047.2 1390.1 1041.3M1486.1 1007.1 1493.4 1005.6 1500.8 1004.2 1508.1 1003.0 1515.5 1001.8 1522.9 1000.8 1530.4 999.9M1368.2 1061.9 1371.7 1055.3 1375.5 1048.9 1379.7 1042.7 1384.2 1036.7 1389.0 1031.1 1394.3 1025.8 1400.0 1021.0M1478.7 1000.4 1486.0 998.9 1493.4 997.6 1500.7 996.3 1508.1 995.1 1515.5 994.0 1522.9 993.0M1451.4 1280.8 1444.0 1279.8 1436.6 1279.0 1429.1 1278.4 1421.7 1277.8 1414.3 1276.5M1497.5 1280.5 1490.1 1279.1 1482.8 1277.8 1475.4 1276.4 1468.1 1275.2 1460.7 1273.9 1453.3 1272.7 1445.9 1271.6 1438.5 1270.7 1431.0 1270.0 1423.6 1269.4 1416.2 1268.4 1409.0 1266.3 1402.1 1263.5 1395.5 1260.0 1389.3 1255.9 1383.4 1251.3 1378.0 1246.2 1372.9 1240.7 1368.3 1234.8M1506.3 1274.9 1499.0 1273.4 1491.6 1272.0 1484.3 1270.6 1476.9 1269.2 1469.6 1267.8M1493.3 1263.8 1486.0 1262.3 1478.7 1260.8 1471.3 1259.4 1464.0 1258.0 1456.6 1256.6 1449.3 1255.3 1441.9 1254.2 1434.5 1253.3 1427.0 1252.7 1419.6 1251.9 1412.4 1250.1 1405.4 1247.3 1398.8 1243.8 1392.7 1239.6 1386.9 1234.8 1381.6 1229.6 1376.8 1223.9 1372.4 1217.9 1368.5 1211.5 1365.1 1204.9 1362.0 1198.1 1359.5 1191.1M1390.4 984.4 1396.6 980.4 1403.2 976.9 1410.1 974.0 1417.3 972.0 1424.7 971.0 1432.1 970.5 1439.6 969.7 1447.0 968.7 1454.4 967.5 1461.8 966.3 1469.1 965.1 1476.5 963.9 1483.9 962.8 1491.3 961.7M1443.7 1266.2 1436.3 1265.3 1428.8 1264.7 1421.4 1264.0 1414.0 1262.5 1407.0 1260.2 1400.2 1257.0M1386.0 1195.3 1382.0 1189.0 1378.6 1182.4 1375.7 1175.6 1373.3 1168.5 1371.4 1161.3 1369.9 1154.0 1368.9 1146.6 1368.3 1139.2 1368.2 1131.7 1368.4 1124.3 1369.0 1116.8 1370.0 1109.4 1371.3 1102.1M1391.1 1247.3 1385.3 1242.6 1379.9 1237.4 1375.0 1231.8 1370.5 1225.9 1366.5 1219.6M1403.7 1226.0 1397.6 1221.8 1391.9 1217.0 1386.7 1211.6 1382.1 1205.7M1377.0 1035.0 1381.6 1029.1 1386.6 1023.6 1392.0 1018.4 1397.7 1013.7 1403.9 1009.5M1461.6 996.4 1468.9 995.0 1476.2 993.5 1483.6 992.1 1490.9 990.8 1498.3 989.5 1505.7 988.3 1513.1 987.2 1520.5 986.3M1393.1 1211.9 1388.0 1206.5 1383.5 1200.6 1379.5 1194.3 1376.0 1187.7M1361.9 1059.2 1365.4 1052.6 1369.2 1046.2M1357.0 1088.2 1359.4 1081.2 1362.0 1074.2M1355.4 1177.3 1354.0 1170.0 1353.0 1162.6 1352.3 1155.2 1352.0 1147.8 1352.0 1140.3 1352.3 1132.9 1352.9 1125.4"/><path stroke="#376576" d="M1359.4 984.0 1364.7 978.8 1370.3 973.8 1376.0 969.0 1382.0 964.6 1388.2 960.4 1394.7 956.7 1401.4 953.5 1408.4 950.8 1415.6 948.9M1452.8 944.8 1460.2 943.8 1467.6 942.7 1475.0 941.7 1482.4 940.6 1489.8 939.6 1497.2 938.7 1504.6 937.8 1512.1 936.9 1519.5 936.2M1347.3 1016.6 1351.7 1010.7 1356.4 1004.8 1361.3 999.2 1366.4 993.7 1371.7 988.5 1377.3 983.5 1383.1 978.8 1389.2 974.5 1395.5 970.6M1475.6 954.6 1483.0 953.5 1490.4 952.4 1497.8 951.4 1505.2 950.5 1512.6 949.6 1520.0 948.8 1527.5 948.0 1534.9 947.4M1333.5 1078.9 1336.4 1072.0 1339.4 1065.2 1342.6 1058.5 1346.0 1051.8 1349.6 1045.3 1353.4 1038.9 1357.5 1032.6 1361.7 1026.5 1366.2 1020.5 1370.9 1014.7 1375.9 1009.2 1381.2 1003.9M1501.0 970.0 1508.4 969.0 1515.8 968.1 1523.2 967.2 1530.7 966.4 1538.1 965.7 1545.6 965.1M1360.6 1293.0 1355.5 1287.6 1350.7 1281.8 1346.2 1275.8 1342.2 1269.6 1338.4 1263.1 1335.0 1256.5M1375.9 1293.0 1370.1 1288.3 1364.6 1283.2 1359.5 1277.8 1354.7 1272.0 1350.3 1266.0 1346.2 1259.8 1342.5 1253.3 1339.2 1246.6 1336.2 1239.8M1391.1 1293.0 1384.7 1289.2 1378.6 1284.9 1372.8 1280.2 1367.3 1275.1 1362.2 1269.7 1357.5 1263.9 1353.1 1257.9 1349.1 1251.6 1345.5 1245.0 1342.2 1238.3 1339.4 1231.4 1336.8 1224.4 1334.6 1217.3 1332.8 1210.1 1331.2 1202.8 1330.0 1195.4 1329.1 1188.0 1328.5 1180.6 1328.1 1173.1 1328.0 1165.7 1328.2 1158.2 1328.6 1150.8 1329.2 1143.4 1330.1 1136.0 1331.2 1128.6 1332.6 1121.2 1334.1 1113.9 1335.9 1106.7 1337.8 1099.5 1340.0 1092.4 1342.4 1085.3 1345.0 1078.3 1347.8 1071.4 1350.8 1064.6 1354.1 1057.9 1357.6 1051.3 1361.3 1044.8 1365.2 1038.5 1369.5 1032.3M1510.6 979.1 1518.0 978.1 1525.5 977.2 1532.9 976.4 1540.4 975.8 1547.8 975.2 1555.3 974.6M1414.0 1293.0 1406.8 1291.0 1399.9 1288.3 1393.2 1285.1 1386.7 1281.3 1380.6 1277.0 1374.9 1272.2 1369.4 1267.1M1452.2 1293.0 1444.8 1292.1 1437.4 1291.2 1429.9 1290.6 1422.5 1290.1 1415.1 1289.0 1407.9 1287.1M1445.8 1287.4 1438.4 1286.6 1430.9 1285.9M1605.0 1117.8 1605.0 1117.8M1605.0 1110.2 1605.0 1110.2M1597.5 1102.6 1605.0 1102.6 1605.0 1102.6M1597.5 1095.0 1605.0 1095.0 1605.0 1095.0M1590.0 1087.5 1597.5 1087.4 1605.0 1087.3 1605.0 1087.3M1590.0 1079.9 1597.5 1079.8 1605.0 1079.7 1605.0 1079.7M1582.6 1072.5 1590.0 1072.3 1597.5 1072.2 1605.0 1072.1 1605.0 1072.1M1575.1 1065.2 1582.6 1064.9 1590.0 1064.7 1597.5 1064.5 1605.0 1064.5M1575.1 1057.6 1582.6 1057.3 1590.0 1057.0 1597.5 1056.9 1605.0 1056.9M1567.6 1050.4 1575.1 1050.0 1582.6 1049.6 1590.0 1049.4 1597.5 1049.3M1567.6 1042.7 1575.1 1042.3 1582.6 1042.0 1590.0 1041.8 1597.5 1041.7M1560.2 1035.6 1567.6 1035.1 1575.1 1034.7 1582.6 1034.4 1590.0 1034.2M1552.7 1028.5 1560.2 1027.9 1567.6 1027.4 1575.1 1027.0 1582.6 1026.7 1590.0 1026.6M1545.3 1021.5 1552.7 1020.8 1560.2 1020.2 1567.6 1019.8 1575.1 1019.4 1582.6 1019.1M1545.2 1013.8 1552.7 1013.1 1560.2 1012.6 1567.6 1012.1 1575.1 1011.8M1537.8 1006.8 1545.2 1006.1 1552.7 1005.4 1560.2 1004.9 1567.6 1004.5 1575.1 1004.1M1530.4 999.9 1537.8 999.1 1545.2 998.4 1552.7 997.7 1560.2 997.2 1567.6 996.8M1522.9 993.0 1530.3 992.1 1537.8 991.3 1545.2 990.7 1552.7 990.1 1560.1 989.6M1537.8 983.6 1545.2 983.0 1552.7 982.4 1560.1 981.9M1530.3 961.2 1537.8 960.5 1545.2 959.9M1364.0 969.9 1369.7 965.0 1375.5 960.4 1381.6 956.0 1387.9 952.1 1394.5 948.5 1401.3 945.4 1408.3 942.8 1415.5 940.9 1422.9 939.9 1430.4 939.4 1437.8 938.8 1445.3 937.9 1452.7 937.0 1460.1 936.0 1467.5 935.0 1467.5 935.0M1373.6 952.5 1379.7 948.2 1386.1 944.3 1392.6 940.7 1399.4 937.6 1406.4 935.0 1406.4 935.0M1377.1 938.9 1383.5 935.0 1383.5 935.0M1506.7 946.2 1514.1 945.3 1521.5 944.5 1529.0 943.8M1405.6 1280.7 1398.8 1277.8 1392.2 1274.2 1385.9 1270.2 1380.0 1265.6 1374.5 1260.6 1369.3 1255.2 1364.5 1249.5 1360.1 1243.5 1356.1 1237.2 1352.6 1230.6 1349.4 1223.9 1346.5 1217.0 1344.1 1209.9 1342.0 1202.8 1340.3 1195.5 1338.9 1188.2 1337.9 1180.8 1337.1 1173.4 1336.7 1165.9 1336.5 1158.5 1336.6 1151.0 1337.0 1143.6 1337.7 1136.2 1338.6 1128.8 1339.7 1121.4 1341.1 1114.1 1342.7 1106.8 1344.6 1099.6 1346.7 1092.4M1368.3 1234.8 1364.1 1228.6 1360.4 1222.2 1357.0 1215.6 1354.1 1208.7 1351.5 1201.7 1349.4 1194.5 1347.6 1187.3 1346.1 1180.0 1345.1 1172.6 1344.3 1165.2 1343.9 1157.7 1343.8 1150.3 1344.0 1142.8 1344.4 1135.4 1345.2 1128.0 1346.2 1120.6M1341.8 1040.4 1345.7 1034.1 1349.8 1027.8 1354.1 1021.7 1358.5 1015.7 1363.2 1009.9 1368.1 1004.3 1373.3 998.9 1378.7 993.7 1384.4 988.9 1390.4 984.4M1491.3 961.7 1498.7 960.6 1506.1 959.6 1513.5 958.7 1521.0 957.9M1350.4 1086.8 1352.9 1079.7 1355.7 1072.8 1358.7 1065.9 1361.9 1059.2M1350.0 1117.2 1351.3 1109.9 1352.9 1102.6 1354.8 1095.4 1357.0 1088.2"/><path stroke="#2e5067" d="M1311.6 1050.5 1315.3 1044.0 1319.1 1037.6 1323.0 1031.2 1327.0 1024.9 1331.2 1018.7 1335.5 1012.6 1339.9 1006.6 1344.5 1000.8 1349.3 995.0 1354.3 989.4 1359.4 984.0M1519.5 936.2 1527.0 935.4 1532.0 935.0M1298.0 1116.6 1300.3 1109.6 1302.8 1102.5 1305.5 1095.5 1308.2 1088.6 1311.1 1081.7 1314.1 1074.9 1317.2 1068.1 1320.4 1061.4 1323.8 1054.7 1327.3 1048.2 1331.0 1041.7 1334.8 1035.3 1338.8 1028.9 1343.0 1022.7 1347.3 1016.6M1534.9 947.4 1542.4 946.8 1549.9 946.3 1557.3 945.8 1564.8 945.5 1572.3 945.2M1307.1 1293.0 1304.5 1286.0 1302.2 1278.9 1300.1 1271.8 1298.3 1264.5 1296.8 1257.2 1295.6 1249.9 1294.5 1242.5 1293.8 1235.1 1293.2 1227.6 1292.9 1220.2 1292.8 1212.7 1292.8 1205.3 1293.1 1197.8 1293.6 1190.4 1294.2 1182.9 1295.0 1175.5 1296.0 1168.1 1297.1 1160.8 1298.4 1153.4 1299.9 1146.1 1301.5 1138.8 1303.2 1131.6 1305.1 1124.3 1307.2 1117.2 1309.4 1110.0 1311.7 1102.9 1314.2 1095.9 1316.8 1088.9 1319.5 1082.0 1322.4 1075.1M1322.4 1293.0 1319.0 1286.3 1316.0 1279.5 1313.3 1272.6 1310.9 1265.5 1308.8 1258.4 1306.9 1251.1 1305.4 1243.8 1304.1 1236.5 1303.1 1229.1 1302.3 1221.7 1301.7 1214.2 1301.4 1206.8 1301.3 1199.3 1301.4 1191.9 1301.8 1184.4 1302.3 1177.0M1330.0 1293.0 1326.3 1286.5 1322.9 1279.9 1319.9 1273.1 1317.2 1266.1 1314.7 1259.1 1312.6 1251.9M1345.3 1293.0 1340.9 1287.0 1336.8 1280.7 1333.1 1274.3 1329.7 1267.6 1326.6 1260.8 1323.8 1253.9 1321.4 1246.9 1319.3 1239.7 1317.5 1232.5 1316.0 1225.2 1314.7 1217.8 1313.8 1210.4 1313.1 1203.0 1312.6 1195.6 1312.4 1188.1 1312.4 1180.6 1312.7 1173.2 1313.1 1165.7 1313.8 1158.3 1314.7 1150.9 1315.7 1143.5 1317.0 1136.2 1318.4 1128.9 1320.1 1121.6 1321.9 1114.3 1323.8 1107.1 1326.0 1100.0 1328.3 1092.9 1330.8 1085.9 1333.5 1078.9M1545.6 965.1 1553.0 964.6 1560.5 964.2 1568.0 963.8 1575.4 963.5 1582.9 963.3M1335.0 1256.5 1332.0 1249.7 1329.3 1242.7 1326.9 1235.7 1324.9 1228.5 1323.1 1221.2 1321.7 1213.9 1320.5 1206.6 1319.7 1199.1 1319.1 1191.7 1318.7 1184.3 1318.6 1176.8 1318.8 1169.3 1319.1 1161.9 1319.7 1154.5 1320.5 1147.1 1321.5 1139.7 1322.8 1132.3 1324.2 1125.0M1555.3 974.6 1562.7 974.2 1570.2 973.9 1577.7 973.6 1585.2 973.4 1592.6 973.2M1605.0 1064.5 1605.0 1064.5M1605.0 1056.9 1605.0 1056.9M1597.5 1049.3 1605.0 1049.3 1605.0 1049.3M1597.5 1041.7 1605.0 1041.6 1605.0 1041.6M1590.0 1034.2 1597.5 1034.1 1605.0 1034.0 1605.0 1034.0M1590.0 1026.6 1597.5 1026.4 1605.0 1026.4 1605.0 1026.4M1582.6 1019.1 1590.0 1018.9 1597.5 1018.8 1605.0 1018.8 1605.0 1018.8M1575.1 1011.8 1582.6 1011.5 1590.0 1011.3 1597.5 1011.2 1605.0 1011.2 1605.0 1011.2M1575.1 1004.1 1582.6 1003.9 1590.0 1003.7 1597.5 1003.6 1605.0 1003.6M1567.6 996.8 1575.1 996.5 1582.6 996.2 1590.0 996.1 1597.5 996.0 1605.0 995.9M1560.1 989.6 1567.6 989.2 1575.1 988.9 1582.6 988.6 1590.0 988.4 1597.5 988.4M1560.1 981.9 1567.6 981.5 1575.1 981.2 1582.6 981.0 1590.0 980.8 1597.5 980.7M1545.2 959.9 1552.7 959.4 1560.1 959.0 1567.6 958.6 1575.1 958.3 1582.6 958.1M1552.7 951.7 1560.1 951.3 1567.6 951.0 1575.1 950.7M1537.7 937.4 1545.2 936.9 1552.7 936.4 1560.1 936.0 1567.6 935.7M1338.5 997.1 1343.3 991.3 1348.2 985.7 1353.3 980.3 1358.6 975.0 1364.0 969.9M1322.1 1006.2 1326.6 1000.2 1331.2 994.4 1335.9 988.6 1340.8 983.0 1345.9 977.5 1351.1 972.1 1356.4 966.9 1361.9 961.9 1367.7 957.1 1373.6 952.5M1327.8 984.2 1332.7 978.6 1337.7 973.1 1342.9 967.7 1348.1 962.4 1353.6 957.3 1359.2 952.4 1365.0 947.6 1371.0 943.1 1377.1 938.9M1334.6 964.5 1339.8 959.2 1345.2 954.0 1350.7 949.0 1356.4 944.1 1362.2 939.4 1368.2 935.0 1368.2 935.0M1341.6 944.8 1347.2 939.8 1352.9 935.0 1352.9 935.0M1529.0 943.8 1536.4 943.2 1543.9 942.6M1328.0 1066.9 1331.2 1060.1 1334.6 1053.5 1338.1 1046.9 1341.8 1040.4M1317.7 1026.7 1321.8 1020.5 1326.1 1014.4 1330.4 1008.3M1307.1 1232.1 1306.1 1224.7 1305.3 1217.3 1304.7 1209.8 1304.4 1202.4 1304.3 1194.9 1304.5 1187.5 1304.8 1180.0 1305.3 1172.6 1306.1 1165.2 1307.0 1157.7 1308.1 1150.4 1309.3 1143.0 1310.8 1135.7M1304.0 1078.9 1307.1 1072.1"/><path stroke="#253b54" d="M1254.2 1211.5 1255.7 1204.2 1257.2 1196.9 1258.9 1189.6 1260.6 1182.4 1262.5 1175.1 1264.4 1167.9 1266.4 1160.7 1268.6 1153.6 1270.8 1146.5 1273.1 1139.4 1275.5 1132.3 1278.0 1125.3 1280.6 1118.3 1283.2 1111.3 1286.0 1104.4 1288.9 1097.5 1291.8 1090.6 1294.9 1083.8 1298.0 1077.1 1301.2 1070.3 1304.6 1063.7 1308.0 1057.1 1311.6 1050.5M1253.6 1293.0 1253.4 1285.5 1253.3 1278.1 1253.4 1270.6 1253.7 1263.2 1254.1 1255.7 1254.6 1248.3 1255.3 1240.9M1261.3 1293.0 1260.7 1285.6 1260.3 1278.1 1260.2 1270.7 1260.1 1263.2 1260.3 1255.7 1260.6 1248.3 1261.0 1240.8 1261.6 1233.4 1262.4 1226.0 1263.2 1218.6 1264.2 1211.2 1265.4 1203.8 1266.6 1196.5 1268.0 1189.1 1269.5 1181.8 1271.1 1174.5 1272.8 1167.3 1274.6 1160.1 1276.6 1152.9 1278.6 1145.7 1280.8 1138.5 1283.0 1131.4 1285.4 1124.3M1268.9 1293.0 1268.0 1285.6 1267.3 1278.2 1266.9 1270.7 1266.6 1263.3 1266.4 1255.8 1266.5 1248.4 1266.7 1240.9 1267.1 1233.5 1267.7 1226.0 1268.3 1218.6 1269.2 1211.2M1284.2 1293.0 1282.6 1285.7 1281.3 1278.4 1280.2 1271.0 1279.3 1263.6 1278.7 1256.2 1278.2 1248.7 1278.0 1241.3 1277.9 1233.8 1278.0 1226.3 1278.3 1218.9 1278.8 1211.4 1279.4 1204.0 1280.2 1196.6 1281.1 1189.2 1282.2 1181.8 1283.4 1174.5 1284.8 1167.1 1286.3 1159.8 1287.9 1152.5 1289.7 1145.3 1291.6 1138.1 1293.6 1130.9 1295.7 1123.7 1298.0 1116.6M1572.3 945.2 1579.7 944.9 1587.2 944.8 1594.7 944.7 1602.2 944.6 1605.0 944.6M1291.8 1293.0 1289.9 1285.8 1288.3 1278.5 1286.9 1271.2 1285.7 1263.8 1284.8 1256.4 1284.0 1249.0 1283.5 1241.6 1283.3 1234.1 1283.2 1226.7 1283.3 1219.2 1283.5 1211.7 1284.0 1204.3 1284.6 1196.9M1582.9 963.3 1590.4 963.2 1597.9 963.1 1605.0 963.0M1592.6 973.2 1600.1 973.2 1605.0 973.2M1605.0 1003.6 1605.0 1003.6M1605.0 995.9 1605.0 995.9M1597.5 988.4 1605.0 988.3 1605.0 988.3M1597.5 980.7 1605.0 980.7 1605.0 980.7M1582.6 958.1 1590.0 958.0 1597.5 957.9 1605.0 957.9 1605.0 957.9M1575.1 950.7 1582.6 950.5 1590.0 950.3 1597.5 950.3 1605.0 950.2 1605.0 950.2M1567.6 935.7 1575.1 935.4 1582.6 935.2 1590.0 935.1 1597.5 935.0 1605.0 935.0M1272.4 1089.4 1275.8 1082.8 1279.2 1076.1 1282.7 1069.5 1286.2 1063.0 1289.8 1056.4 1293.6 1050.0 1297.4 1043.5 1301.2 1037.2 1305.2 1030.8 1309.3 1024.6 1313.4 1018.4 1317.7 1012.3 1322.1 1006.2M1280.7 1051.4 1284.6 1045.0 1288.5 1038.7 1292.5 1032.4 1296.6 1026.2 1300.8 1020.0 1305.1 1013.8 1309.4 1007.8 1313.9 1001.8 1318.4 995.8 1323.0 990.0 1327.8 984.2M1288.1 1022.9 1292.4 1016.7 1296.7 1010.7 1301.1 1004.6 1305.6 998.7 1310.2 992.8 1314.9 987.0 1319.6 981.2 1324.5 975.5 1329.5 970.0 1334.6 964.5M1292.0 1000.4 1296.6 994.5 1301.2 988.7 1305.9 982.9 1310.7 977.2 1315.6 971.5 1320.6 966.0 1325.7 960.5 1330.9 955.1 1336.2 949.9 1341.6 944.8M1301.3 972.5 1306.2 966.9 1311.2 961.3 1316.3 955.9 1321.5 950.5 1326.8 945.2 1332.1 940.0 1337.7 935.0 1337.7 935.0M1303.8 961.6 1308.9 956.1 1314.0 950.7 1319.3 945.4 1324.6 940.1 1330.0 935.0 1330.0 935.0M1314.7 935.0 1314.7 935.0M1266.4 1122.7 1269.2 1115.8 1272.2 1108.9 1275.2 1102.1 1278.3 1095.3 1281.4 1088.5 1284.6 1081.8M1260.0 1158.9 1262.3 1151.8 1264.7 1144.8 1267.2 1137.7 1269.8 1130.7M1307.1 950.2 1312.3 944.9 1317.6 939.6 1322.3 935.0M1288.5 1078.8 1291.8 1072.1 1295.2 1065.5 1298.7 1058.9 1302.3 1052.3 1306.0 1045.8 1309.8 1039.4 1313.7 1033.0 1317.7 1026.7M1289.9 1113.4 1292.5 1106.4 1295.2 1099.5 1298.0 1092.6 1300.9 1085.7 1304.0 1078.9"/><path stroke="#1b263c" d="M1246.0 1293.0 1246.1 1285.5 1246.3 1278.1 1246.7 1270.6 1247.2 1263.2 1247.8 1255.8 1248.6 1248.3 1249.5 1240.9 1250.5 1233.6 1251.6 1226.2 1252.9 1218.8 1254.2 1211.5M1605.0 935.0 1605.0 935.0M1246.0 1148.5 1247.9 1143.8 1250.8 1136.9 1253.7 1130.1 1256.7 1123.2 1259.7 1116.4 1262.8 1109.6 1265.9 1102.9 1269.1 1096.1 1272.4 1089.4M1246.0 1115.3 1248.5 1110.3 1251.9 1103.7 1255.3 1097.0 1258.8 1090.4 1262.3 1083.9 1265.9 1077.3 1269.5 1070.8 1273.2 1064.3 1276.9 1057.8 1280.7 1051.4M1246.0 1091.2 1248.8 1086.3 1252.5 1079.8 1256.3 1073.4 1260.1 1066.9 1263.9 1060.5 1267.8 1054.2 1271.8 1047.8 1275.8 1041.5 1279.8 1035.3 1284.0 1029.1 1288.1 1022.9M1246.0 1067.5 1249.6 1061.9 1253.7 1055.6 1257.7 1049.3 1261.8 1043.1 1266.0 1036.9 1270.2 1030.7 1274.4 1024.6 1278.7 1018.5 1283.1 1012.4 1287.5 1006.4 1292.0 1000.4M1255.5 1031.5 1259.9 1025.4 1264.3 1019.4 1268.7 1013.4 1273.2 1007.4 1277.7 1001.4 1282.3 995.5 1286.9 989.7 1291.6 983.9 1296.4 978.2 1301.3 972.5M1293.9 972.8 1298.8 967.2 1303.8 961.6M1264.6 990.3 1269.4 984.6 1274.2 978.8 1279.0 973.2 1284.0 967.5 1288.9 962.0 1293.9 956.4 1299.0 951.0 1304.2 945.6 1309.4 940.2 1314.7 935.0M1273.8 962.1 1278.8 956.6 1283.9 951.1 1289.0 945.7 1294.2 940.3 1299.5 935.0 1299.5 935.0M1279.0 940.3 1284.2 935.0 1284.2 935.0M1246.0 1133.0 1249.1 1126.2 1252.2 1119.5 1255.4 1112.7 1258.6 1106.0 1261.9 1099.3M1246.0 1178.7 1248.3 1171.7 1250.7 1164.6 1253.1 1157.5 1255.6 1150.5 1258.2 1143.5 1260.9 1136.5 1263.6 1129.6 1266.4 1122.7M1246.0 1209.2 1247.7 1202.0 1249.6 1194.7 1251.5 1187.5 1253.5 1180.3 1255.6 1173.2 1257.7 1166.0 1260.0 1158.9M1258.1 1012.8 1262.7 1006.9 1267.3 1001.0 1271.9 995.2 1276.6 989.3 1281.3 983.6 1286.1 977.8M1296.9 961.2 1302.0 955.7 1307.1 950.2M1281.7 961.2 1286.7 955.7 1291.8 950.2 1297.0 944.8 1302.2 939.5 1306.6 935.0M1276.6 950.2 1281.7 944.8 1286.9 939.4 1291.2 935.0M1248.7 1052.5 1252.8 1046.3 1257.0 1040.2 1261.3 1034.0 1265.6 1027.9 1269.9 1021.8"/><path stroke="#101322" d="M1246.0 1045.0 1246.9 1043.7 1251.2 1037.6 1255.5 1031.5M1246.0 1013.6 1250.6 1007.8 1255.2 1001.9 1259.9 996.1 1264.6 990.3M1246.0 994.2 1249.3 990.3 1254.1 984.6 1259.0 978.9 1263.9 973.3 1268.8 967.7 1273.8 962.1M1246.0 976.0 1248.5 973.2 1253.5 967.6 1258.5 962.1 1263.6 956.6 1268.6 951.1 1273.8 945.7 1279.0 940.3M1246.0 965.5 1251.1 960.0 1256.2 954.5 1261.3 949.1 1266.4 943.7 1271.6 938.3 1274.9 935.0M1246.0 1029.0 1249.2 1024.8 1253.6 1018.8 1258.1 1012.8M1266.4 961.2 1271.5 955.7 1276.6 950.2M1246.0 1056.6 1248.7 1052.5"/></g><g stroke-width="0.8" stroke-linejoin="miter"><path fill="#2a4760" stroke="#2a4760" d="M1314.0 1055.6L1314.7 1045.1L1306.0 1051.1L1311.3 1051.0Z"/><path fill="#21324b" stroke="#21324b" d="M1257.9 1274.1L1253.6 1264.4L1248.7 1273.7L1253.4 1271.2Z"/><path fill="#233750" stroke="#233750" d="M1268.3 1215.1L1265.2 1205.0L1259.2 1213.7L1264.2 1211.8Z"/><path fill="#243852" stroke="#243852" d="M1271.0 1259.1L1266.5 1249.6L1261.8 1259.1L1266.4 1256.4Z"/><path fill="#31586e" stroke="#31586e" d="M1344.8 1028.0L1346.5 1017.6L1337.3 1022.7L1342.6 1023.2Z"/><path fill="#27415a" stroke="#27415a" d="M1288.9 1252.0L1283.6 1242.8L1279.7 1252.6L1284.1 1249.6Z"/><path fill="#2a4760" stroke="#2a4760" d="M1298.4 1186.7L1294.9 1176.7L1289.3 1185.7L1294.1 1183.5Z"/><path fill="#2c4c64" stroke="#2c4c64" d="M1309.1 1239.1L1303.2 1230.3L1300.0 1240.4L1304.2 1237.1Z"/><path fill="#2e5168" stroke="#2e5168" d="M1325.4 1274.4L1317.6 1267.3L1316.8 1277.8L1320.1 1273.6Z"/><path fill="#376576" stroke="#376576" d="M1355.5 1044.1L1356.8 1033.6L1347.8 1039.2L1353.1 1039.4Z"/><path fill="#31576d" stroke="#31576d" d="M1326.7 1216.4L1320.7 1207.8L1317.6 1217.9L1321.8 1214.5Z"/><path fill="#356073" stroke="#356073" d="M1360.3 1272.0L1351.0 1267.0L1352.9 1277.4L1355.0 1272.5Z"/><path fill="#396a79" stroke="#396a79" d="M1359.9 1056.4L1360.7 1045.9L1351.9 1051.8L1357.3 1051.8Z"/><path fill="#396a79" stroke="#396a79" d="M1398.3 1282.8L1387.8 1281.9L1393.6 1290.7L1393.7 1285.4Z"/><path fill="#3b6e7c" stroke="#3b6e7c" d="M1441.0 1286.9L1431.2 1290.7L1440.3 1296.1L1438.0 1291.3Z"/><path fill="#3d707d" stroke="#3d707d" d="M1464.5 1285.4L1454.5 1288.6L1463.2 1294.5L1461.2 1289.6Z"/><path fill="#417982" stroke="#417982" d="M1495.2 1285.2L1485.1 1288.1L1493.7 1294.3L1491.8 1289.3Z"/><path fill="#488388" stroke="#488388" d="M1525.5 1286.5L1515.4 1289.3L1523.9 1295.5L1522.1 1290.5Z"/><path fill="#52918e" stroke="#52918e" d="M1548.5 1286.5L1538.3 1289.3L1546.8 1295.5L1545.0 1290.5Z"/><path fill="#62a497" stroke="#62a497" d="M1571.4 1286.5L1561.2 1289.3L1569.7 1295.5L1567.9 1290.5Z"/><path fill="#b1dbbd" stroke="#b1dbbd" d="M1607.1 1287.1L1598.6 1280.9L1599.0 1291.5L1601.8 1287.0Z"/><path fill="#a1d2b4" stroke="#a1d2b4" d="M1584.8 1259.5L1588.1 1249.4L1578.2 1253.1L1583.4 1254.4Z"/><path fill="#8ec7ab" stroke="#8ec7ab" d="M1581.0 1240.3L1588.9 1233.3L1578.5 1231.5L1582.3 1235.2Z"/><path fill="#7cbaa2" stroke="#7cbaa2" d="M1580.2 1223.7L1588.8 1217.7L1578.7 1214.6L1582.1 1218.8Z"/><path fill="#74b59f" stroke="#74b59f" d="M1580.0 1215.8L1588.8 1210.0L1578.8 1206.6L1582.1 1210.9Z"/><path fill="#79b9a1" stroke="#79b9a1" d="M1573.1 1209.6L1581.4 1203.2L1571.2 1200.6L1574.7 1204.6Z"/><path fill="#73b49f" stroke="#73b49f" d="M1572.8 1201.5L1581.4 1195.4L1571.3 1192.5L1574.7 1196.6Z"/><path fill="#77b7a0" stroke="#77b7a0" d="M1565.9 1195.6L1574.0 1188.8L1563.7 1186.6L1567.4 1190.5Z"/><path fill="#70b19d" stroke="#70b19d" d="M1565.6 1187.4L1574.0 1180.9L1563.7 1178.4L1567.3 1182.3Z"/><path fill="#62a497" stroke="#62a497" d="M1572.5 1177.8L1581.4 1172.2L1571.4 1168.7L1574.6 1172.9Z"/><path fill="#78b8a1" stroke="#78b8a1" d="M1551.9 1175.9L1559.3 1168.4L1548.8 1167.3L1552.9 1170.7Z"/><path fill="#5a9c93" stroke="#5a9c93" d="M1572.3 1162.2L1581.3 1156.8L1571.5 1153.1L1574.5 1157.4Z"/><path fill="#73b49f" stroke="#73b49f" d="M1544.6 1161.8L1552.0 1154.2L1541.5 1153.2L1545.5 1156.6Z"/><path fill="#5fa195" stroke="#5fa195" d="M1557.8 1149.1L1566.5 1143.0L1556.4 1140.0L1559.7 1144.1Z"/><path fill="#68aa99" stroke="#68aa99" d="M1543.8 1144.8L1551.8 1137.9L1541.4 1135.9L1545.2 1139.7Z"/><path fill="#63a597" stroke="#63a597" d="M1543.5 1136.6L1551.7 1129.9L1541.4 1127.6L1545.0 1131.5Z"/><path fill="#599a92" stroke="#599a92" d="M1550.4 1126.7L1559.0 1120.7L1548.9 1117.7L1552.3 1121.8Z"/><path fill="#65a798" stroke="#65a798" d="M1529.4 1124.7L1537.1 1117.4L1526.6 1115.9L1530.5 1119.5Z"/><path fill="#61a396" stroke="#61a396" d="M1529.1 1116.2L1537.0 1109.2L1526.6 1107.4L1530.4 1111.1Z"/><path fill="#5d9f94" stroke="#5d9f94" d="M1528.8 1107.9L1536.9 1101.1L1526.5 1099.0L1530.3 1102.8Z"/><path fill="#599a92" stroke="#599a92" d="M1528.6 1099.7L1536.8 1093.1L1526.5 1090.7L1530.2 1094.6Z"/><path fill="#82bfa5" stroke="#82bfa5" d="M1480.0 1126.5L1479.4 1116.0L1471.5 1123.0L1476.8 1122.3Z"/><path fill="#5a9c93" stroke="#5a9c93" d="M1514.2 1087.3L1522.1 1080.4L1511.8 1078.5L1515.5 1082.2Z"/><path fill="#5fa195" stroke="#5fa195" d="M1500.1 1083.7L1507.6 1076.3L1497.2 1075.0L1501.2 1078.5Z"/><path fill="#5ea095" stroke="#5ea095" d="M1492.9 1077.6L1500.4 1070.1L1489.9 1068.9L1493.9 1072.4Z"/><path fill="#78b8a1" stroke="#78b8a1" d="M1447.9 1093.0L1453.0 1083.7L1442.6 1085.5L1447.4 1087.7Z"/><path fill="#79b9a1" stroke="#79b9a1" d="M1431.5 1087.5L1438.2 1079.3L1427.6 1079.2L1432.0 1082.2Z"/><path fill="#72b39e" stroke="#72b39e" d="M1421.4 1076.5L1429.4 1069.7L1419.1 1067.6L1422.8 1071.4Z"/><path fill="#579891" stroke="#579891" d="M1398.3 1101.8L1396.7 1091.4L1389.5 1099.1L1394.7 1097.9Z"/><path fill="#4f8e8d" stroke="#4f8e8d" d="M1484.3 1037.0L1492.4 1030.3L1482.1 1028.1L1485.8 1031.9Z"/><path fill="#498588" stroke="#498588" d="M1380.3 1115.2L1377.3 1105.1L1371.2 1113.7L1376.2 1111.8Z"/><path fill="#4a8789" stroke="#4a8789" d="M1483.9 1020.4L1492.3 1013.9L1482.0 1011.4L1485.6 1015.3Z"/><path fill="#3f747f" stroke="#3f747f" d="M1362.1 1134.7L1358.3 1124.9L1353.0 1134.0L1357.8 1131.7Z"/><path fill="#498588" stroke="#498588" d="M1469.1 1007.1L1477.5 1000.7L1467.2 998.1L1470.8 1002.1Z"/><path fill="#2f5269" stroke="#2f5269" d="M1564.6 986.3L1573.9 981.3L1564.2 977.1L1567.0 981.6Z"/><path fill="#2c4b63" stroke="#2c4b63" d="M1564.5 963.3L1573.9 958.4L1564.2 954.1L1567.0 958.6Z"/><path fill="#29435c" stroke="#29435c" d="M1572.0 955.4L1581.3 950.5L1571.7 946.2L1574.5 950.7Z"/><path fill="#29435c" stroke="#29435c" d="M1564.5 940.4L1573.8 935.5L1564.2 931.2L1567.0 935.7Z"/><path fill="#376576" stroke="#376576" d="M1387.3 957.7L1393.4 949.1L1382.9 949.6L1387.4 952.3Z"/><path fill="#263e58" stroke="#263e58" d="M1307.3 1036.1L1308.6 1025.6L1299.6 1031.1L1304.9 1031.3Z"/><path fill="#243a53" stroke="#243a53" d="M1302.7 1025.3L1304.4 1014.8L1295.2 1020.0L1300.5 1020.5Z"/><path fill="#22354e" stroke="#22354e" d="M1298.5 1016.0L1300.4 1005.6L1291.1 1010.6L1296.4 1011.2Z"/><path fill="#203049" stroke="#203049" d="M1293.7 1005.8L1295.8 995.5L1286.4 1000.2L1291.6 1000.9Z"/><path fill="#1e2b43" stroke="#1e2b43" d="M1288.5 995.1L1290.9 984.9L1281.3 989.3L1286.6 990.2Z"/><path fill="#21324b" stroke="#21324b" d="M1310.0 961.6L1313.2 951.6L1303.3 955.3L1308.5 956.5Z"/><path fill="#1a2339" stroke="#1a2339" d="M1280.4 978.6L1283.1 968.5L1273.4 972.6L1278.6 973.6Z"/><path fill="#161c2f" stroke="#161c2f" d="M1270.1 973.2L1273.0 963.0L1263.2 967.0L1268.4 968.1Z"/><path fill="#131729" stroke="#131729" d="M1264.7 962.1L1267.8 952.0L1258.0 955.9L1263.1 957.0Z"/><path fill="#101322" stroke="#101322" d="M1257.3 960.0L1260.4 950.0L1250.6 953.7L1255.7 955.0Z"/><path fill="#1c283f" stroke="#1c283f" d="M1255.0 1124.4L1254.9 1113.8L1246.6 1120.5L1251.9 1120.0Z"/><path fill="#202f47" stroke="#202f47" d="M1264.0 1141.3L1263.1 1130.7L1255.4 1137.9L1260.6 1137.1Z"/><path fill="#202f47" stroke="#202f47" d="M1259.0 1177.6L1257.4 1167.2L1250.2 1175.0L1255.4 1173.8Z"/><path fill="#83c0a6" stroke="#83c0a6" d="M1593.2 1284.4L1583.0 1287.1L1591.4 1293.4L1589.7 1288.4Z"/><path fill="#325b6f" stroke="#325b6f" d="M1518.7 949.4L1527.8 943.9L1517.9 940.3L1520.9 944.6Z"/><path fill="#181f33" stroke="#181f33" d="M1264.3 1012.3L1266.5 1002.0L1257.1 1006.7L1262.3 1007.4Z"/><path fill="#376576" stroke="#376576" d="M1347.3 1204.9L1340.6 1196.7L1338.3 1207.0L1342.2 1203.4Z"/><path fill="#3e727e" stroke="#3e727e" d="M1440.2 1274.7L1430.4 1278.5L1439.5 1283.8L1437.2 1279.0Z"/><path fill="#3d707d" stroke="#3d707d" d="M1383.6 1245.5L1373.8 1241.6L1376.8 1251.7L1378.4 1246.6Z"/><path fill="#488388" stroke="#488388" d="M1510.4 1271.0L1500.2 1273.7L1508.6 1280.0L1506.9 1275.0Z"/><path fill="#447d84" stroke="#447d84" d="M1460.6 1252.6L1450.5 1255.6L1459.1 1261.7L1457.2 1256.7Z"/><path fill="#21314a" stroke="#21314a" d="M1308.1 955.8L1311.4 945.8L1301.5 949.4L1306.7 950.7Z"/><path fill="#1c273e" stroke="#1c273e" d="M1292.9 955.8L1296.1 945.7L1286.2 949.4L1291.4 950.7Z"/><path fill="#171e32" stroke="#171e32" d="M1277.6 955.8L1280.8 945.7L1271.0 949.4L1276.1 950.7Z"/><path fill="#182035" stroke="#182035" d="M1259.0 1045.5L1260.6 1035.0L1251.4 1040.3L1256.7 1040.7Z"/><path fill="#3f747f" stroke="#3f747f" d="M1395.9 986.0L1402.1 977.5L1391.6 977.9L1396.1 980.7Z"/><path fill="#417982" stroke="#417982" d="M1432.5 1260.4L1422.6 1264.1L1431.6 1269.5L1429.4 1264.7Z"/><path fill="#61a396" stroke="#61a396" d="M1549.1 1255.0L1538.7 1257.0L1546.7 1263.9L1545.3 1258.8Z"/><path fill="#7ebca4" stroke="#7ebca4" d="M1582.9 1230.8L1591.6 1224.9L1581.6 1221.7L1584.9 1225.9Z"/><path fill="#4e8d8c" stroke="#4e8d8c" d="M1440.1 1218.4L1430.1 1221.8L1439.0 1227.5L1436.9 1222.6Z"/><path fill="#3f747f" stroke="#3f747f" d="M1385.6 1236.8L1375.8 1232.8L1378.7 1242.9L1380.4 1237.9Z"/><path fill="#4a8789" stroke="#4a8789" d="M1451.0 1231.9L1440.8 1234.8L1449.4 1240.9L1447.6 1235.9Z"/><path fill="#599a92" stroke="#599a92" d="M1451.3 1194.7L1441.0 1196.8L1449.1 1203.6L1447.6 1198.5Z"/><path fill="#27415a" stroke="#27415a" d="M1308.3 1051.0L1309.2 1040.5L1300.4 1046.3L1305.7 1046.4Z"/><path fill="#4c898a" stroke="#4c898a" d="M1437.1 1005.7L1445.7 999.6L1435.5 996.7L1438.9 1000.7Z"/><path fill="#2d4e66" stroke="#2d4e66" d="M1308.9 1190.9L1304.7 1181.2L1299.7 1190.5L1304.4 1188.1Z"/><path fill="#27415a" stroke="#27415a" d="M1298.2 1104.2L1297.6 1093.7L1289.7 1100.8L1295.0 1100.0Z"/><path fill="#478287" stroke="#478287" d="M1393.7 1206.3L1384.2 1201.5L1386.4 1211.9L1388.4 1207.0Z"/><path fill="#51908e" stroke="#51908e" d="M1433.4 1211.7L1423.4 1215.0L1432.2 1220.8L1430.1 1215.9Z"/><path fill="#5d9f94" stroke="#5d9f94" d="M1434.4 1184.5L1424.3 1187.6L1433.0 1193.6L1431.1 1188.7Z"/><path fill="#3b6c7b" stroke="#3b6c7b" d="M1358.6 1077.6L1358.2 1067.1L1350.2 1073.9L1355.4 1073.3Z"/><path fill="#3c6f7c" stroke="#3c6f7c" d="M1356.6 1106.9L1354.5 1096.5L1347.7 1104.6L1352.8 1103.2Z"/><path fill="#3c6f7c" stroke="#3c6f7c" d="M1357.0 1158.3L1352.0 1149.0L1347.9 1158.7L1352.3 1155.8Z"/><path fill="#68aa99" stroke="#68aa99" d="M1427.7 1166.9L1417.1 1167.2L1423.9 1175.3L1423.4 1170.0Z"/><path fill="#83c0a6" stroke="#83c0a6" d="M1450.1 1132.2L1441.0 1126.9L1442.4 1137.4L1444.8 1132.6Z"/></g></g><g clip-path="url(#c2)"><g fill="none" stroke-width="1.5" stroke-linecap="round" stroke-linejoin="round"><path stroke="#eac7c3" d="M2178.9 1759.6 2178.0 1757.9 2177.5 1756.4 2176.4 1754.5 2175.4 1753.0 2174.3 1751.1 2173.3 1749.2 2172.8 1746.7 2173.7 1745.6M2179.0 1758.7 2174.8 1757.7"/><path stroke="#e0b0b3" d="M2173.7 1745.6 2175.9 1745.0 2179.0 1744.8M2165.2 1735.8 2162.3 1730.7 2160.4 1727.1 2159.4 1724.2 2159.0 1721.8 2159.6 1719.2 2161.4 1717.3 2164.3 1716.0M2153.3 1715.5 2152.1 1712.1 2151.8 1709.3 2152.3 1706.3 2154.0 1704.0 2157.1 1702.1M2144.6 1699.9 2144.2 1696.6 2144.8 1693.3 2146.6 1690.5M2136.6 1687.5 2136.3 1683.8 2137.1 1680.2M2002.7 1590.4 1999.5 1587.7 1997.9 1583.4 1997.9 1579.5 1998.7 1576.6 2000.5 1574.3 2006.1 1569.4M2166.4 1745.8 2159.4 1743.3M2174.8 1757.7 2170.5 1756.8 2163.2 1755.3M2147.9 1702.3 2148.6 1699.1 2151.4 1696.0"/><path stroke="#d69ca8" d="M2179.0 1744.8 2179.0 1744.8M2164.3 1716.0 2171.6 1714.7 2179.0 1714.4M2157.1 1702.1 2164.2 1700.1M2146.6 1690.5 2149.9 1688.2 2156.8 1685.8M2142.0 1684.8 2144.8 1682.1 2149.6 1679.8 2156.8 1677.9M2137.1 1680.2 2139.1 1677.1 2142.6 1674.4 2149.5 1671.6M2132.2 1678.8 2132.6 1675.0 2134.3 1671.6 2137.3 1668.5 2142.3 1665.8 2149.4 1663.6M2129.4 1679.3 2128.3 1675.0 2128.1 1671.0 2129.2 1666.9 2131.5 1663.5 2135.4 1660.4 2142.2 1657.5M2124.2 1662.7 2126.3 1658.2 2129.6 1654.9 2135.1 1651.7M2128.1 1646.4 2134.9 1643.4M2119.7 1670.0 2117.0 1664.1 2115.4 1659.0 2114.9 1654.4 2115.5 1649.9 2117.8 1645.1 2121.4 1641.4 2127.8 1637.7M2112.4 1662.6 2108.9 1656.0 2106.7 1650.4 2105.6 1645.2 2105.6 1640.4 2106.9 1635.4 2109.6 1631.2 2114.0 1627.2M2101.2 1631.8 2103.6 1626.5 2107.4 1622.3 2113.5 1618.1M2098.1 1643.6 2096.1 1637.9 2095.3 1632.6 2095.7 1627.4 2097.6 1622.1 2100.9 1617.5 2106.6 1612.8M2091.2 1633.9 2090.1 1628.4 2090.1 1623.1 2091.6 1617.6 2094.5 1612.8 2099.8 1607.7M2088.1 1608.1 2093.0 1602.6M2087.6 1639.4 2083.8 1633.1 2080.8 1626.6 2079.0 1620.7 2078.5 1615.0 2079.2 1609.3 2081.7 1603.3 2086.3 1597.5M2074.9 1622.2 2073.0 1616.2 2072.3 1610.4 2072.9 1604.5 2075.2 1598.3 2079.6 1592.4M2068.4 1617.6 2066.4 1611.5 2065.7 1605.6 2066.2 1599.5 2068.6 1593.2 2072.9 1587.2M2059.4 1606.6 2058.6 1600.5 2059.2 1594.4 2061.7 1587.8 2066.0 1581.8M2134.2 1693.8 2129.2 1688.3 2124.0 1683.0 2118.7 1677.8 2113.3 1672.7 2107.8 1667.6 2102.3 1662.6 2096.8 1657.6M2056.6 1614.0 2053.5 1607.5 2051.6 1601.4 2050.9 1595.3 2051.7 1588.9 2054.6 1582.1 2059.0 1576.2M2044.4 1601.5 2042.8 1595.5 2042.5 1589.3 2043.8 1582.7 2047.1 1576.0 2051.7 1570.3M2040.1 1607.5 2036.4 1601.1 2034.0 1595.1 2032.8 1589.2 2033.1 1582.8 2035.3 1575.8 2039.3 1569.5M2028.9 1603.6 2024.9 1597.5 2022.3 1591.9 2020.9 1586.4 2021.0 1580.3 2022.7 1574.4 2026.3 1568.0 2031.2 1562.4M2017.7 1604.8 2012.3 1599.7 2007.1 1594.4 2002.7 1590.4M2006.1 1569.4 2011.4 1564.2 2017.0 1559.3 2022.8 1554.6M2000.4 1551.3 2007.5 1549.3M2148.4 1720.9 2141.8 1717.4 2135.0 1714.3M2159.4 1743.3 2152.2 1741.2M2163.2 1755.3 2155.9 1753.8M2151.4 1696.0 2154.8 1694.2 2159.7 1692.8 2166.7 1691.8M2154.2 1730.1 2147.4 1727.0 2140.5 1724.4M2139.9 1710.4 2133.4 1706.8 2126.8 1703.4M2024.1 1605.0 2019.3 1599.3 2015.2 1593.1 2012.4 1586.3 2011.9 1581.0 2013.0 1575.8 2015.3 1571.0"/><path stroke="#c9889f" d="M2156.2 1760.0 2148.9 1758.7 2141.6 1757.4M2179.0 1714.4 2179.0 1714.4M2164.2 1700.1 2171.6 1699.3 2179.0 1699.1M2156.8 1685.8 2164.2 1684.6 2171.6 1684.1M2156.8 1677.9 2164.1 1676.9 2171.6 1676.5M2149.5 1671.6 2156.8 1670.1 2164.1 1669.2M2149.4 1663.6 2156.7 1662.3M2142.2 1657.5 2149.4 1655.7 2156.7 1654.6M2135.1 1651.7 2142.1 1649.4 2149.3 1647.8M2134.9 1643.4 2142.0 1641.4 2149.3 1640.0M2127.8 1637.7 2134.7 1635.2 2142.0 1633.4M2120.8 1632.3 2127.5 1629.2 2134.7 1627.1M2114.0 1627.2 2120.4 1623.5 2127.4 1621.0 2134.6 1619.1M2113.5 1618.1 2120.2 1615.1 2127.3 1612.8M2106.6 1612.8 2113.1 1609.3 2120.1 1606.7M2099.8 1607.7 2106.1 1603.8 2112.9 1600.8 2120.0 1598.6M2093.0 1602.6 2099.1 1598.3 2105.8 1595.0 2112.7 1592.5M2086.3 1597.5 2092.2 1593.0 2098.7 1589.4 2105.5 1586.5M2079.6 1592.4 2085.3 1587.6 2091.6 1583.8 2098.4 1580.7M2072.9 1587.2 2078.4 1582.2 2084.6 1578.2 2091.2 1574.9M2066.0 1581.8 2071.4 1576.8 2077.5 1572.6 2084.1 1569.1M2096.8 1657.6 2091.3 1652.6 2085.8 1647.5 2080.4 1642.4 2075.2 1637.2 2070.1 1631.7 2065.2 1626.1 2060.7 1620.2 2056.6 1614.0M2059.0 1576.2 2064.4 1571.1 2070.5 1566.9 2077.0 1563.3M2051.7 1570.3 2057.3 1565.3 2063.4 1561.1 2069.9 1557.5M2049.5 1619.0 2044.6 1613.4 2040.1 1607.5M2039.3 1569.5 2044.3 1564.0 2050.0 1559.3 2056.2 1555.1 2062.7 1551.5M2033.6 1609.3 2028.9 1603.6M2031.2 1562.4 2036.7 1557.4 2042.6 1552.9 2048.9 1549.0 2055.5 1545.4M2088.9 1658.5 2082.8 1654.2 2076.7 1650.0 2070.6 1645.7 2064.5 1641.5 2058.5 1637.2 2052.4 1632.8 2046.4 1628.4 2040.5 1623.9 2034.6 1619.3 2028.9 1614.6 2023.2 1609.8 2017.7 1604.8M2022.8 1554.6 2028.8 1550.3 2035.1 1546.3 2041.5 1542.6 2048.2 1539.2M2081.3 1658.0 2075.0 1654.2 2068.6 1650.3 2062.2 1646.5 2055.8 1642.7 2049.4 1638.8 2043.1 1635.0 2036.7 1631.2 2030.3 1627.4 2023.9 1623.6 2017.4 1620.0 2010.8 1616.6 2003.8 1614.0 1999.7 1613.0 1995.7 1611.3 1991.8 1607.5 1988.0 1601.1 1985.7 1594.0 1984.6 1586.7 1984.6 1579.3 1985.6 1571.9 1987.7 1564.9 1990.4 1559.5 1993.4 1555.5 1996.4 1552.9 2000.4 1551.3M2007.5 1549.3 2014.2 1546.1 2020.8 1542.6 2027.4 1539.2 2034.1 1535.9M2019.0 1634.5 2012.1 1631.9 2004.9 1629.8 2000.1 1629.0 1995.1 1627.5 1990.1 1624.1M1990.0 1543.7 1993.8 1540.6 1998.4 1538.5 2005.6 1536.7 2012.7 1534.4 2019.6 1531.7 2026.5 1528.9M2118.1 1691.1 2111.6 1687.6 2104.9 1684.3 2098.2 1681.0 2091.5 1677.9 2084.7 1674.8M2135.0 1714.3 2128.1 1711.5 2121.2 1708.9 2114.2 1706.4 2107.1 1704.0M2152.2 1741.2 2145.1 1739.3 2137.8 1737.5 2130.6 1735.7M2155.9 1753.8 2148.6 1752.4 2141.3 1750.9M2140.7 1746.3 2133.4 1744.8M2140.6 1731.6 2133.4 1729.6 2126.3 1727.6M2166.7 1691.8 2174.2 1691.4M2140.5 1724.4 2133.4 1722.0 2126.3 1719.7 2119.2 1717.5M2126.8 1703.4 2120.0 1700.3 2113.2 1697.4 2106.3 1694.6 2099.4 1691.9M2034.7 1615.5 2029.3 1610.4 2024.1 1605.0"/><path stroke="#b77495" d="M2133.4 1760.0 2126.1 1758.7M2141.6 1757.4 2134.2 1756.1 2126.9 1754.8 2119.6 1753.4M2179.0 1699.1 2179.0 1699.1M2171.6 1684.1 2179.0 1683.9 2179.0 1683.9M2171.6 1676.5 2179.0 1676.3 2179.0 1676.3M2164.1 1669.2 2171.6 1668.8 2179.0 1668.7M2156.7 1662.3 2164.1 1661.6 2171.6 1661.2 2179.0 1661.1M2156.7 1654.6 2164.1 1653.9 2171.6 1653.6M2149.3 1647.8 2156.7 1646.9 2164.1 1646.3 2171.6 1646.0M2149.3 1640.0 2156.7 1639.2 2164.1 1638.7M2142.0 1633.4 2149.3 1632.3 2156.7 1631.5 2164.1 1631.0M2134.7 1627.1 2141.9 1625.6 2149.3 1624.6 2156.7 1623.8M2134.6 1619.1 2141.9 1617.8 2149.3 1616.8M2127.3 1612.8 2134.6 1611.2 2141.9 1610.0 2149.3 1609.1M2120.1 1606.7 2127.2 1604.8 2134.5 1603.3 2141.9 1602.2M2120.0 1598.6 2127.2 1596.8 2134.5 1595.5 2141.9 1594.5M2112.7 1592.5 2119.9 1590.5 2127.2 1588.9 2134.5 1587.7M2105.5 1586.5 2112.6 1584.3 2119.8 1582.5 2127.1 1581.1M2098.4 1580.7 2105.4 1578.2 2112.5 1576.1 2119.8 1574.5M2091.2 1574.9 2098.2 1572.2 2105.2 1569.9 2112.5 1568.1 2119.7 1566.6M2084.1 1569.1 2091.0 1566.2 2098.0 1563.8 2105.2 1561.8 2112.4 1560.1M2077.0 1563.3 2083.8 1560.3 2090.8 1557.7 2097.9 1555.5 2105.1 1553.7M2069.9 1557.5 2076.6 1554.3 2083.5 1551.6 2090.6 1549.3 2097.8 1547.4M2062.7 1551.5 2069.4 1548.4 2076.3 1545.6 2083.4 1543.2 2090.5 1541.1M2055.5 1545.4 2062.2 1542.3 2069.1 1539.5 2076.1 1537.0 2083.2 1534.8M2048.2 1539.2 2054.9 1536.1 2061.8 1533.3 2068.8 1530.8 2075.9 1528.6M2034.1 1535.9 2040.8 1532.7 2047.6 1529.8 2054.6 1527.1 2061.6 1524.6 2068.6 1522.3M2059.4 1653.5 2052.7 1650.2 2046.1 1646.9 2039.4 1643.7 2032.6 1640.5 2025.9 1637.4 2019.0 1634.5M1990.1 1624.1 1985.2 1618.6 1981.4 1612.2 1978.7 1605.3 1976.8 1598.1 1975.8 1590.7 1975.6 1583.3 1976.1 1575.9 1977.4 1568.6 1979.4 1561.4 1982.3 1554.6 1986.0 1548.3 1990.0 1543.7M2026.5 1528.9 2033.4 1526.0 2040.3 1523.3 2047.2 1520.7 2054.3 1518.2 2061.3 1516.0M2084.7 1674.8 2077.9 1671.8 2071.0 1668.9 2064.2 1666.0 2057.3 1663.1 2050.5 1660.3 2043.6 1657.5 2036.6 1654.8 2029.7 1652.2 2022.7 1649.7 2015.6 1647.4 2008.4 1645.5 2002.0 1644.5 1995.6 1643.2 1989.0 1639.8 1983.4 1634.9 1978.8 1629.1 1975.0 1622.7 1972.0 1615.9 1969.8 1608.8M1972.2 1557.5 1975.0 1550.6 1978.5 1544.0 1982.7 1537.9 1987.4 1532.9 1992.0 1529.5 1997.3 1527.1 2004.5 1525.4 2011.7 1523.7 2018.8 1521.5 2025.8 1519.0 2032.8 1516.6 2039.9 1514.1 2046.9 1511.8 2054.0 1509.6M1979.4 1528.6 1984.6 1523.3 1989.7 1519.5 1996.5 1516.5 2003.7 1515.0 2011.0 1513.6 2018.2 1511.7 2025.4 1509.6 2032.5 1507.4 2039.6 1505.2M2107.1 1704.0 2100.1 1701.6 2093.0 1699.3 2085.9 1697.0 2078.9 1694.8 2071.8 1692.5 2064.6 1690.4M1989.1 1509.3 1995.9 1506.5 2003.2 1505.1 2010.5 1504.0 2017.8 1502.3 2025.0 1500.4 2032.2 1498.4M1995.5 1496.9 2002.8 1495.6 2010.2 1494.6M2130.6 1735.7 2123.4 1733.9 2116.2 1732.2 2108.9 1730.5 2101.7 1728.8M2133.4 1744.8 2126.2 1743.2 2118.9 1741.7 2111.6 1740.1M2126.3 1727.6 2119.1 1725.7 2111.9 1723.8 2104.7 1721.9 2097.5 1720.1M2174.2 1691.4 2179.0 1691.2M2119.2 1717.5 2112.1 1715.4 2105.0 1713.3 2097.8 1711.2 2090.7 1709.2 2083.5 1707.2M2099.4 1691.9 2092.4 1689.2 2085.4 1686.6 2078.5 1684.1 2071.5 1681.6 2064.4 1679.1 2057.4 1676.7 2050.4 1674.3 2043.3 1671.9 2036.2 1669.7 2029.1 1667.5 2021.9 1665.5 2014.7 1663.7 2007.4 1662.2 2000.1 1661.3 1994.0 1660.1 1988.3 1657.6 1982.4 1653.6M2034.2 1663.4 2027.1 1661.1 2020.0 1659.0 2012.8 1657.1 2005.5 1655.7 1998.1 1654.5 1992.2 1652.7 1986.8 1649.7 1981.2 1645.2 1976.3 1639.6M2011.5 1640.0 2004.3 1638.3 1997.1 1636.6 1991.8 1634.2 1987.3 1630.8 1982.8 1625.8 1978.8 1619.5"/><path stroke="#a4638d" d="M1989.9 1462.3 1997.1 1460.7 2004.5 1459.9 2011.9 1459.1 2019.2 1458.0M2110.6 1760.0 2103.3 1758.7 2096.0 1757.4M2126.1 1758.7 2118.8 1757.4 2111.5 1756.1 2104.1 1754.8 2096.8 1753.4M2179.0 1668.7 2179.0 1668.7M2179.0 1661.1 2179.0 1661.1M2171.6 1653.6 2179.0 1653.5 2179.0 1653.5M2171.6 1646.0 2179.0 1645.9 2179.0 1645.9M2164.1 1638.7 2171.6 1638.4 2179.0 1638.3 2179.0 1638.3M2164.1 1631.0 2171.6 1630.8 2179.0 1630.7M2156.7 1623.8 2164.1 1623.4 2171.6 1623.2 2179.0 1623.1M2149.3 1616.8 2156.7 1616.2 2164.1 1615.8 2171.6 1615.5M2149.3 1609.1 2156.7 1608.5 2164.1 1608.2 2171.6 1607.9M2141.9 1602.2 2149.3 1601.4 2156.7 1600.9 2164.1 1600.5M2141.9 1594.5 2149.3 1593.8 2156.7 1593.2 2164.1 1592.9M2134.5 1587.7 2141.9 1586.8 2149.3 1586.1 2156.7 1585.6M2127.1 1581.1 2134.5 1579.9 2141.9 1579.1 2149.3 1578.4M2119.8 1574.5 2127.1 1573.2 2134.5 1572.2 2141.9 1571.4 2149.3 1570.8M2119.7 1566.6 2127.1 1565.4 2134.5 1564.5 2141.9 1563.7M2112.4 1560.1 2119.7 1558.7 2127.1 1557.6 2134.4 1556.7 2141.9 1556.0M2105.1 1553.7 2112.4 1552.2 2119.7 1550.9 2127.1 1549.9 2134.4 1549.0M2097.8 1547.4 2105.0 1545.7 2112.3 1544.3 2119.7 1543.1 2127.0 1542.1M2090.5 1541.1 2097.7 1539.3 2105.0 1537.7 2112.3 1536.4 2119.6 1535.3M2083.2 1534.8 2090.4 1532.9 2097.6 1531.2 2104.9 1529.8 2112.3 1528.6 2119.6 1527.5M2075.9 1528.6 2083.1 1526.6 2090.3 1524.8 2097.6 1523.3 2104.9 1521.9 2112.3 1520.8M2068.6 1522.3 2075.8 1520.2 2083.0 1518.4 2090.3 1516.8 2097.5 1515.3 2104.9 1514.1M2061.3 1516.0 2068.5 1513.9 2075.7 1512.0 2082.9 1510.3 2090.2 1508.8 2097.5 1507.4M1969.8 1608.8 1968.3 1601.5 1967.4 1594.1 1967.2 1586.7 1967.6 1579.3 1968.5 1571.9 1970.1 1564.6 1972.2 1557.5M2054.0 1509.6 2061.2 1507.5 2068.4 1505.6 2075.6 1503.8 2082.9 1502.2 2090.2 1500.8M1965.0 1554.4 1967.8 1547.5 1971.0 1540.8 1974.9 1534.5 1979.4 1528.6M2039.6 1505.2 2046.7 1503.1 2053.8 1501.0 2061.0 1499.1 2068.3 1497.3 2075.5 1495.7 2082.8 1494.2M2064.6 1690.4 2057.5 1688.2 2050.4 1686.1 2043.2 1684.1 2036.1 1682.1 2028.9 1680.2 2021.6 1678.4 2014.4 1676.9 2007.0 1675.6 2000.2 1675.0 1993.0 1673.6 1986.2 1670.7 1979.9 1666.7 1974.3 1661.8 1969.4 1656.3 1965.1 1650.2 1961.4 1643.8 1958.2 1637.0 1955.7 1630.0 1953.7 1622.9 1952.2 1615.6 1951.1 1608.2 1950.6 1600.8M1950.8 1585.9 1951.6 1578.5 1952.7 1571.1 1954.3 1563.9 1956.3 1556.7 1958.7 1549.6 1961.6 1542.8 1964.9 1536.1 1968.7 1529.7 1973.0 1523.6 1977.9 1518.0 1983.4 1513.1 1989.1 1509.3M2032.2 1498.4 2039.3 1496.4 2046.5 1494.5 2053.7 1492.6 2060.9 1490.8 2068.2 1489.2 2075.4 1487.6M1958.8 1531.6 1962.6 1525.2 1966.8 1519.0 1971.4 1513.2 1976.6 1507.9 1982.4 1503.2 1988.6 1499.5 1995.5 1496.9M2010.2 1494.6 2017.5 1493.2 2024.7 1491.4 2031.9 1489.6 2039.1 1487.8 2046.3 1486.0 2053.6 1484.3 2060.8 1482.6 2068.1 1481.1M2101.7 1728.8 2094.4 1727.1 2087.2 1725.4 2079.9 1723.7 2072.7 1722.1 2065.4 1720.4 2058.2 1718.8 2050.9 1717.2 2043.7 1715.6M1965.3 1508.6 1970.3 1503.1 1975.8 1498.0 1981.7 1493.6 1988.2 1490.0 1995.2 1487.6 2002.5 1486.4 2009.9 1485.6 2017.2 1484.2 2024.5 1482.7 2031.7 1481.0 2039.0 1479.3 2046.2 1477.6 2053.5 1476.0 2060.7 1474.5M1975.1 1488.4 1981.3 1484.2 1987.9 1480.8 1994.9 1478.5 2002.3 1477.4 2009.6 1476.7 2017.0 1475.4 2024.3 1474.0 2031.6 1472.5 2038.8 1470.9 2046.1 1469.3 2053.4 1467.8M2110.0 1747.7 2102.7 1746.2 2095.4 1744.8 2088.1 1743.3 2080.9 1741.9M2111.6 1740.1 2104.3 1738.6 2097.1 1737.0 2089.8 1735.5 2082.5 1734.0 2075.2 1732.4 2067.9 1730.9M2083.5 1707.2 2076.3 1705.2 2069.2 1703.3 2062.0 1701.3 2054.8 1699.4 2047.6 1697.6 2040.4 1695.8 2033.1 1694.1 2025.9 1692.4 2018.6 1690.9 2011.3 1689.7 2003.9 1688.8 1996.5 1687.8 1989.4 1685.9 1982.7 1682.7 1976.5 1678.6 1970.8 1673.8 1965.7 1668.4 1961.2 1662.5M2087.1 1717.9 2079.9 1716.1 2072.7 1714.4 2065.4 1712.6 2058.2 1710.9 2051.0 1709.2 2043.7 1707.5 2036.5 1705.9 2029.2 1704.3 2021.9 1702.9 2014.5 1701.7 2007.2 1700.7 1999.8 1700.1 1992.5 1698.9 1985.4 1696.5 1978.8 1693.1M1982.4 1653.6 1977.0 1648.5 1972.4 1642.8 1968.4 1636.5 1965.2 1629.8 1962.5 1622.8 1960.5 1615.7 1959.0 1608.4 1958.1 1601.0 1957.8 1593.5 1957.9 1586.1 1958.5 1578.7 1959.5 1571.3 1961.1 1564.0M1979.0 1476.9 1985.6 1473.4 1992.4 1470.9 1999.7 1469.7 2007.1 1469.1 2014.5 1468.0 2021.8 1466.7 2029.1 1465.3 2036.4 1463.9M1973.9 1683.9 1968.3 1679.0M2019.2 1685.3 2011.9 1683.9 2004.5 1682.9 1997.2 1682.0 1990.0 1680.1 1983.4 1676.9M1976.3 1639.6 1972.2 1633.5"/><path stroke="#8e5383" d="M1990.7 1416.4 1998.0 1415.3 2005.5 1414.8 2012.9 1414.1 2020.2 1413.3 2027.6 1412.3M1970.7 1438.0 1977.3 1434.6 1984.2 1431.8 1991.3 1429.8 1998.7 1428.7 2006.1 1428.2 2013.5 1427.5 2020.9 1426.5 2028.2 1425.5 2035.6 1424.4 2042.9 1423.2 2050.3 1422.1M1956.5 1471.3 1962.0 1466.4 1967.9 1461.8 1974.1 1457.7 1980.6 1454.2 1987.5 1451.4 1994.7 1449.5 2002.1 1448.7 2009.5 1448.1 2016.8 1447.2 2024.2 1446.0 2031.5 1444.8 2038.9 1443.5 2046.2 1442.2 2053.5 1440.9 2060.8 1439.7 2068.2 1438.6 2075.5 1437.5M1944.8 1499.7 1949.2 1493.7 1954.0 1488.0 1959.1 1482.6 1964.5 1477.5 1970.3 1472.8 1976.4 1468.6 1983.0 1465.1 1989.9 1462.3M2019.2 1458.0 2026.5 1456.7 2033.9 1455.3 2041.2 1453.9 2048.5 1452.5 2055.8 1451.2 2063.1 1449.9 2070.4 1448.7 2077.8 1447.6 2085.2 1446.5M2057.5 1760.0 2050.1 1758.8 2042.8 1757.6 2035.4 1756.5 2028.1 1755.4 2020.7 1754.4M2005.9 1752.9 1998.5 1752.4M2087.9 1760.0 2080.5 1758.7 2073.2 1757.5 2065.9 1756.2 2058.5 1754.9 2051.2 1753.7 2043.9 1752.5 2036.5 1751.3M2096.0 1757.4 2088.7 1756.1 2081.3 1754.8 2074.0 1753.5M2179.0 1630.7 2179.0 1630.7M2179.0 1623.1 2179.0 1623.1M2171.6 1615.5 2179.0 1615.5 2179.0 1615.5M2171.6 1607.9 2179.0 1607.9 2179.0 1607.9M2164.1 1600.5 2171.6 1600.3 2179.0 1600.3 2179.0 1600.3M2164.1 1592.9 2171.6 1592.7 2179.0 1592.7 2179.0 1592.7M2156.7 1585.6 2164.1 1585.3 2171.6 1585.1 2179.0 1585.1M2149.3 1578.4 2156.7 1578.0 2164.1 1577.7 2171.6 1577.5 2179.0 1577.4M2149.3 1570.8 2156.7 1570.3 2164.1 1570.1 2171.6 1569.9M2141.9 1563.7 2149.3 1563.1 2156.7 1562.7 2164.1 1562.4 2171.6 1562.3M2141.9 1556.0 2149.3 1555.5 2156.7 1555.1 2164.1 1554.8M2134.4 1549.0 2141.8 1548.4 2149.3 1547.8 2156.7 1547.5 2164.1 1547.2M2127.0 1542.1 2134.4 1541.3 2141.8 1540.7 2149.3 1540.2 2156.7 1539.8M2119.6 1535.3 2127.0 1534.4 2134.4 1533.6 2141.8 1533.0 2149.3 1532.6M2119.6 1527.5 2127.0 1526.7 2134.4 1525.9 2141.8 1525.4 2149.3 1524.9M2112.3 1520.8 2119.6 1519.8 2127.0 1518.9 2134.4 1518.3 2141.8 1517.7M2104.9 1514.1 2112.2 1513.0 2119.6 1512.0 2127.0 1511.2 2134.4 1510.6 2141.8 1510.1M2097.5 1507.4 2104.9 1506.2 2112.2 1505.2 2119.6 1504.3 2127.0 1503.5 2134.4 1502.9M2090.2 1500.8 2097.5 1499.5 2104.8 1498.4 2112.2 1497.4 2119.6 1496.6 2127.0 1495.9M2082.8 1494.2 2090.1 1492.9 2097.5 1491.7 2104.8 1490.6 2112.2 1489.7 2119.6 1488.9M1950.6 1600.8 1950.5 1593.3 1950.8 1585.9M2075.4 1487.6 2082.8 1486.2 2090.1 1485.0 2097.4 1483.8 2104.8 1482.8 2112.2 1481.9 2119.6 1481.2M2068.1 1481.1 2075.4 1479.6 2082.7 1478.3 2090.1 1477.1 2097.4 1476.0 2104.8 1475.0 2112.2 1474.2M2043.7 1715.6 2036.4 1714.1 2029.1 1712.7 2021.8 1711.4 2014.4 1710.2 2007.0 1709.3 1999.6 1708.7 1992.3 1707.6 1985.2 1705.3 1978.6 1702.1 1972.3 1698.1 1966.5 1693.5 1961.2 1688.3 1956.3 1682.6 1952.0 1676.6 1948.1 1670.3 1944.7 1663.6 1941.8 1656.8 1939.3 1649.8 1937.2 1642.6 1935.6 1635.3 1934.4 1628.0 1933.6 1620.6 1933.1 1613.2 1933.0 1605.7 1933.2 1598.3 1933.7 1590.9 1934.6 1583.5 1935.8 1576.1 1937.3 1568.8 1939.1 1561.6 1941.2 1554.5 1943.7 1547.4 1946.4 1540.5 1949.5 1533.7 1952.9 1527.1 1956.6 1520.7 1960.8 1514.5 1965.3 1508.6M2060.7 1474.5 2068.0 1473.0 2075.3 1471.6 2082.7 1470.4 2090.0 1469.2 2097.4 1468.2 2104.8 1467.3M1943.5 1529.2 1947.0 1522.6 1950.8 1516.2 1954.9 1510.0 1959.4 1504.1 1964.2 1498.4 1969.5 1493.2 1975.1 1488.4M2053.4 1467.8 2060.7 1466.4 2068.0 1465.0 2075.3 1463.7 2082.6 1462.5 2090.0 1461.4 2097.4 1460.4M2026.3 1747.8 2018.9 1746.8 2011.5 1746.0 2004.1 1745.4 1996.7 1744.8 1989.4 1743.5M2072.1 1747.5 2064.8 1746.1 2057.5 1744.8 2050.1 1743.5 2042.8 1742.2 2035.5 1740.9 2028.1 1739.8 2020.8 1738.7 2013.4 1737.7 2006.0 1737.0 1998.6 1736.5 1991.3 1735.4 1984.1 1733.4 1977.2 1730.6 1970.7 1727.1 1964.5 1723.0 1958.7 1718.3 1953.2 1713.2 1948.2 1707.7 1943.6 1701.9M2080.9 1741.9 2073.6 1740.5 2066.3 1739.0 2059.0 1737.6 2051.6 1736.2 2044.3 1734.9M2067.9 1730.9 2060.7 1729.4 2053.4 1727.9 2046.1 1726.4 2038.8 1725.0 2031.5 1723.7 2024.1 1722.4 2016.8 1721.3 2009.4 1720.3 2002.0 1719.8 1994.6 1719.0 1987.4 1717.2 1980.5 1714.4 1974.0 1710.9 1967.9 1706.7 1962.1 1701.9 1956.9 1696.7 1952.1 1691.0 1947.7 1685.0 1943.8 1678.6 1940.4 1672.0 1937.4 1665.2 1934.8 1658.2M1965.5 1451.8 1971.8 1447.8 1978.3 1444.3 1985.2 1441.5 1992.3 1439.4 1999.7 1438.5 2007.1 1438.0 2014.5 1437.2 2021.9 1436.1 2029.2 1435.0 2036.6 1433.8 2043.9 1432.6 2051.2 1431.4 2058.6 1430.2 2065.9 1429.1M2018.6 1733.2 2011.2 1732.3 2003.8 1731.7 1996.4 1731.0 1989.1 1729.6 1982.1 1727.2 1975.3 1724.1M1961.2 1662.5 1957.2 1656.2 1953.8 1649.6 1950.9 1642.7 1948.6 1635.7 1946.7 1628.5 1945.2 1621.2 1944.2 1613.8 1943.6 1606.4 1943.5 1598.9 1943.7 1591.5 1944.3 1584.1 1945.3 1576.7 1946.6 1569.4M1966.3 1714.4 1960.6 1709.7 1955.2 1704.5 1950.3 1698.9 1945.8 1693.0 1941.8 1686.7M1978.8 1693.1 1972.7 1688.9 1967.1 1684.1 1962.0 1678.7 1957.4 1672.9M1952.3 1502.4 1956.9 1496.5 1961.8 1491.0 1967.2 1485.8 1972.9 1481.0 1979.0 1476.9M2036.4 1463.9 2043.7 1462.4 2051.0 1460.9 2058.3 1459.5 2065.6 1458.2 2072.9 1456.9 2080.3 1455.7 2087.6 1454.7 2095.0 1453.7M1968.3 1679.0 1963.3 1673.6 1958.7 1667.7 1954.7 1661.4 1951.3 1654.8M1937.3 1526.6 1940.7 1520.0 1944.5 1513.6M1932.3 1555.5 1934.7 1548.4 1937.4 1541.5M1930.8 1644.5 1929.4 1637.2 1928.4 1629.8 1927.7 1622.4 1927.4 1615.0 1927.4 1607.5 1927.7 1600.1 1928.3 1592.7"/><path stroke="#774576" d="M1934.8 1451.4 1940.1 1446.2 1945.6 1441.2 1951.3 1436.5 1957.2 1432.0 1963.4 1427.9 1969.9 1424.2 1976.6 1421.0 1983.5 1418.3 1990.7 1416.4M2027.6 1412.3 2035.0 1411.3 2042.4 1410.2 2049.7 1409.1 2057.1 1408.1 2064.4 1407.1 2071.8 1406.2 2079.2 1405.3 2086.6 1404.4 2094.0 1403.7M1922.7 1484.0 1927.2 1478.1 1931.8 1472.2 1936.7 1466.6 1941.7 1461.1 1947.0 1455.9 1952.5 1450.9 1958.3 1446.3 1964.4 1441.9 1970.7 1438.0M2050.3 1422.1 2057.6 1421.0 2065.0 1419.9 2072.4 1418.9 2079.7 1417.9 2087.1 1417.1 2094.5 1416.2 2101.9 1415.5 2109.3 1414.8M1909.0 1546.2 1911.9 1539.3 1914.9 1532.5 1918.1 1525.8 1921.5 1519.2 1925.0 1512.7 1928.8 1506.3 1932.8 1500.0 1937.1 1493.8 1941.5 1487.9 1946.2 1482.1 1951.2 1476.6 1956.5 1471.3M2075.5 1437.5 2082.9 1436.4 2090.3 1435.5 2097.7 1434.7 2105.1 1433.9 2112.5 1433.2 2119.9 1432.6M1935.9 1760.0 1930.8 1754.6 1926.1 1748.9 1921.7 1742.9 1917.6 1736.6 1913.9 1730.2 1910.5 1723.5M1951.1 1760.0 1945.4 1755.3 1939.9 1750.2 1934.8 1744.8 1930.1 1739.1 1925.7 1733.1 1921.7 1726.8 1918.0 1720.3 1914.7 1713.7 1911.7 1706.8M1966.3 1760.0 1959.9 1756.2 1953.8 1751.9 1948.1 1747.2 1942.7 1742.1 1937.6 1736.7 1932.9 1730.9 1928.5 1724.9 1924.5 1718.6 1920.9 1712.1 1917.7 1705.4 1914.8 1698.5 1912.3 1691.5 1910.1 1684.4 1908.3 1677.2 1906.8 1669.9 1905.5 1662.6 1904.6 1655.2 1904.0 1647.8 1903.6 1640.3 1903.6 1632.9 1903.7 1625.4 1904.1 1618.0 1904.8 1610.6 1905.7 1603.2 1906.8 1595.8 1908.1 1588.5 1909.6 1581.2 1911.4 1574.0 1913.3 1566.8 1915.5 1559.7 1917.9 1552.6 1920.5 1545.6 1923.2 1538.7 1926.3 1531.9 1929.5 1525.2 1932.9 1518.6 1936.6 1512.1 1940.6 1505.8 1944.8 1499.7M2085.2 1446.5 2092.5 1445.5 2099.9 1444.7 2107.3 1443.9 2114.7 1443.2 2122.1 1442.6 2129.6 1442.1M1989.1 1760.0 1981.9 1758.0 1975.0 1755.3 1968.3 1752.1 1961.9 1748.3 1955.9 1744.0 1950.1 1739.3 1944.7 1734.1M2027.1 1760.0 2019.7 1759.1 2012.3 1758.2 2004.9 1757.7 1997.5 1757.1 1990.1 1756.0 1983.0 1754.1M2020.7 1754.4 2013.3 1753.6 2005.9 1752.9M2179.0 1585.1 2179.0 1585.1M2179.0 1577.4 2179.0 1577.4M2171.6 1569.9 2179.0 1569.8 2179.0 1569.8M2171.6 1562.3 2179.0 1562.2 2179.0 1562.2M2164.1 1554.8 2171.6 1554.7 2179.0 1554.6 2179.0 1554.6M2164.1 1547.2 2171.6 1547.1 2179.0 1547.0 2179.0 1547.0M2156.7 1539.8 2164.1 1539.6 2171.6 1539.5 2179.0 1539.4 2179.0 1539.4M2149.3 1532.6 2156.7 1532.2 2164.1 1532.0 2171.6 1531.9 2179.0 1531.8M2149.3 1524.9 2156.7 1524.6 2164.1 1524.4 2171.6 1524.2 2179.0 1524.2M2141.8 1517.7 2149.3 1517.3 2156.7 1517.0 2164.1 1516.8 2171.6 1516.6M2141.8 1510.1 2149.3 1509.7 2156.7 1509.4 2164.1 1509.1 2171.6 1509.0M2134.4 1502.9 2141.8 1502.4 2149.3 1502.0 2156.7 1501.7 2164.1 1501.5M2127.0 1495.9 2134.4 1495.3 2141.8 1494.8 2149.3 1494.4 2156.7 1494.1 2164.1 1493.9M2119.6 1488.9 2127.0 1488.2 2134.4 1487.6 2141.8 1487.1 2149.3 1486.8 2156.7 1486.5M2119.6 1481.2 2127.0 1480.5 2134.4 1479.9 2141.8 1479.5 2149.3 1479.1M2112.2 1474.2 2119.6 1473.5 2127.0 1472.8 2134.4 1472.3 2141.8 1471.9 2149.3 1471.5M2104.8 1467.3 2112.2 1466.5 2119.6 1465.8 2127.0 1465.2 2134.4 1464.6 2141.8 1464.2M2097.4 1460.4 2104.8 1459.5 2112.2 1458.8 2119.6 1458.1 2127.0 1457.5 2134.4 1457.0M2112.2 1451.0 2119.6 1450.4 2127.0 1449.8 2134.4 1449.4M2104.7 1428.6 2112.1 1428.0 2119.5 1427.4M1939.4 1437.3 1945.0 1432.5 1950.8 1427.8 1956.9 1423.5 1963.1 1419.5 1969.7 1416.0 1976.4 1412.8 1983.4 1410.3 1990.6 1408.4 1997.9 1407.4 2005.4 1406.9 2012.8 1406.2 2020.2 1405.4 2027.5 1404.5 2034.9 1403.5 2042.3 1402.5 2042.3 1402.5M1948.9 1420.0 1955.0 1415.7 1961.3 1411.8 1967.8 1408.2 1974.5 1405.1 1981.5 1402.5 1981.5 1402.5M1952.4 1406.4 1958.7 1402.5 1958.7 1402.5M2081.2 1413.6 2088.6 1412.8 2096.0 1412.0 2103.4 1411.3M1980.7 1747.7 1973.9 1744.8 1967.4 1741.3 1961.1 1737.2 1955.3 1732.7 1949.7 1727.7 1944.6 1722.3 1939.8 1716.6 1935.5 1710.5 1931.5 1704.2 1928.0 1697.7 1924.8 1691.0 1922.0 1684.1 1919.6 1677.1 1917.5 1669.9 1915.8 1662.7 1914.4 1655.3 1913.4 1648.0 1912.6 1640.6 1912.2 1633.1 1912.0 1625.7 1912.1 1618.2 1912.5 1610.8 1913.2 1603.4 1914.1 1596.0 1915.2 1588.6 1916.6 1581.3 1918.2 1574.0 1920.0 1566.8 1922.1 1559.7M1943.6 1701.9 1939.5 1695.7 1935.7 1689.3 1932.4 1682.7 1929.5 1675.8 1926.9 1668.8 1924.8 1661.7 1923.0 1654.5 1921.6 1647.1 1920.5 1639.8 1919.8 1632.4 1919.4 1624.9 1919.2 1617.5 1919.4 1610.0 1919.9 1602.6 1920.6 1595.2 1921.6 1587.8M1917.3 1507.8 1921.2 1501.4 1925.2 1495.2 1929.5 1489.1 1933.9 1483.1 1938.6 1477.3 1943.4 1471.7 1948.6 1466.3 1953.9 1461.1 1959.6 1456.3 1965.5 1451.8M2065.9 1429.1 2073.3 1428.1 2080.7 1427.1 2088.1 1426.2 2095.4 1425.3M1925.9 1554.0 1928.3 1547.0 1931.1 1540.1 1934.0 1533.3 1937.3 1526.6M1925.4 1584.4 1926.7 1577.1 1928.3 1569.8 1930.2 1562.6 1932.3 1555.5"/><path stroke="#5e3767" d="M1887.2 1517.8 1890.9 1511.3 1894.7 1504.9 1898.5 1498.6 1902.6 1492.3 1906.7 1486.1 1911.0 1480.0 1915.4 1474.0 1920.0 1468.2 1924.7 1462.5 1929.7 1456.9 1934.8 1451.4M2094.0 1403.7 2101.4 1402.9 2106.4 1402.5M1873.7 1583.9 1876.0 1576.8 1878.5 1569.8 1881.1 1562.8 1883.8 1555.9 1886.7 1549.0 1889.7 1542.2 1892.8 1535.4 1896.0 1528.7 1899.4 1522.1 1902.9 1515.5 1906.5 1509.0 1910.3 1502.6 1914.3 1496.3 1918.4 1490.1 1922.7 1484.0M2109.3 1414.8 2116.7 1414.3 2124.2 1413.8 2131.6 1413.3 2139.0 1413.0 2146.4 1412.7M1882.8 1760.0 1880.2 1753.0 1877.8 1746.0 1875.8 1738.8 1874.0 1731.6 1872.5 1724.3 1871.3 1716.9 1870.3 1709.5 1869.5 1702.1 1869.0 1694.7 1868.6 1687.3 1868.5 1679.8 1868.6 1672.4 1868.9 1664.9 1869.3 1657.5 1869.9 1650.1 1870.7 1642.7 1871.7 1635.3 1872.9 1627.9 1874.1 1620.6 1875.6 1613.3 1877.2 1606.0 1878.9 1598.8 1880.8 1591.6 1882.8 1584.4 1885.0 1577.3 1887.3 1570.2 1889.8 1563.2 1892.4 1556.2 1895.1 1549.3 1898.0 1542.4M1898.0 1760.0 1894.6 1753.3 1891.6 1746.5 1888.9 1739.6 1886.5 1732.5 1884.4 1725.4 1882.6 1718.2 1881.1 1710.9 1879.8 1703.6 1878.8 1696.2 1878.0 1688.8 1877.4 1681.4 1877.1 1673.9 1877.0 1666.5 1877.1 1659.0 1877.5 1651.6 1878.0 1644.2M1905.6 1760.0 1901.9 1753.5 1898.5 1746.9 1895.5 1740.1 1892.8 1733.2 1890.3 1726.1 1888.2 1719.0M1920.7 1760.0 1916.4 1754.0 1912.3 1747.8 1908.6 1741.3 1905.2 1734.7 1902.1 1727.9 1899.4 1721.0 1897.0 1713.9 1894.9 1706.8 1893.1 1699.6 1891.6 1692.3 1890.4 1684.9 1889.4 1677.5 1888.7 1670.1 1888.3 1662.7 1888.0 1655.2 1888.1 1647.8 1888.3 1640.4 1888.8 1632.9 1889.4 1625.5 1890.3 1618.1 1891.4 1610.7 1892.6 1603.4 1894.0 1596.1 1895.7 1588.8 1897.4 1581.6 1899.4 1574.4 1901.5 1567.3 1903.9 1560.2 1906.3 1553.2 1909.0 1546.2M2119.9 1432.6 2127.3 1432.1 2134.7 1431.6 2142.2 1431.3 2149.6 1431.0 2157.0 1430.8M1910.5 1723.5 1907.5 1716.7 1904.8 1709.8 1902.5 1702.7 1900.4 1695.6 1898.7 1688.3 1897.3 1681.0 1896.1 1673.7 1895.2 1666.3 1894.6 1658.9 1894.3 1651.4 1894.2 1644.0 1894.3 1636.5 1894.7 1629.1 1895.3 1621.7 1896.1 1614.3 1897.1 1606.9 1898.3 1599.5 1899.7 1592.2M2129.6 1442.1 2137.0 1441.7 2144.4 1441.3 2151.8 1441.0 2159.3 1440.8 2166.7 1440.7M2179.0 1531.8 2179.0 1531.8M2179.0 1524.2 2179.0 1524.2M2171.6 1516.6 2179.0 1516.6 2179.0 1516.6M2171.6 1509.0 2179.0 1509.0 2179.0 1509.0M2164.1 1501.5 2171.6 1501.4 2179.0 1501.4 2179.0 1501.4M2164.1 1493.9 2171.6 1493.8 2179.0 1493.8 2179.0 1493.8M2156.7 1486.5 2164.1 1486.3 2171.6 1486.2 2179.0 1486.2 2179.0 1486.2M2149.3 1479.1 2156.7 1478.9 2164.1 1478.7 2171.6 1478.6 2179.0 1478.6 2179.0 1478.6M2149.3 1471.5 2156.7 1471.3 2164.1 1471.1 2171.6 1471.0 2179.0 1471.0M2141.8 1464.2 2149.3 1463.9 2156.7 1463.7 2164.1 1463.5 2171.6 1463.4 2179.0 1463.4M2134.4 1457.0 2141.8 1456.6 2149.3 1456.3 2156.7 1456.0 2164.1 1455.9 2171.6 1455.8M2134.4 1449.4 2141.8 1449.0 2149.3 1448.7 2156.7 1448.4 2164.1 1448.3 2171.6 1448.2M2119.5 1427.4 2127.0 1426.9 2134.4 1426.4 2141.8 1426.1 2149.3 1425.8 2156.7 1425.6M2127.0 1419.2 2134.4 1418.8 2141.8 1418.5 2149.3 1418.2M2112.1 1404.9 2119.5 1404.4 2127.0 1403.9 2134.4 1403.5 2141.8 1403.2M1914.0 1464.5 1918.7 1458.8 1923.6 1453.2 1928.7 1447.7 1933.9 1442.4 1939.4 1437.3M1897.7 1473.6 1902.1 1467.7 1906.7 1461.8 1911.4 1456.0 1916.3 1450.4 1921.3 1444.9 1926.5 1439.5 1931.8 1434.3 1937.3 1429.3 1943.0 1424.5 1948.9 1420.0M1903.4 1451.7 1908.2 1446.0 1913.2 1440.5 1918.3 1435.1 1923.6 1429.9 1929.0 1424.7 1934.6 1419.8 1940.3 1415.1 1946.3 1410.6 1952.4 1406.4M1910.1 1432.0 1915.3 1426.7 1920.6 1421.5 1926.1 1416.5 1931.8 1411.6 1937.6 1406.9 1943.5 1402.5 1943.5 1402.5M1917.1 1412.3 1922.7 1407.3 1928.3 1402.5 1928.3 1402.5M2103.4 1411.3 2110.8 1410.7 2118.2 1410.1M1903.5 1534.2 1906.7 1527.5 1910.1 1520.8 1913.6 1514.3 1917.3 1507.8M1893.3 1494.1 1897.4 1487.9 1901.6 1481.8 1906.0 1475.7M1882.8 1699.1 1881.7 1691.8 1881.0 1684.4 1880.4 1676.9 1880.1 1669.5 1880.0 1662.1 1880.1 1654.6 1880.5 1647.2 1881.0 1639.7 1881.7 1632.3 1882.6 1624.9 1883.7 1617.6 1885.0 1610.2 1886.4 1602.9M1879.6 1546.2 1882.8 1539.4"/><path stroke="#452b54" d="M1830.2 1678.6 1831.6 1671.3 1833.1 1664.0 1834.8 1656.7 1836.5 1649.5 1838.4 1642.3 1840.3 1635.1 1842.3 1627.9 1844.4 1620.8 1846.7 1613.7 1848.9 1606.6 1851.3 1599.5 1853.8 1592.5 1856.4 1585.5 1859.0 1578.6 1861.8 1571.7 1864.6 1564.8 1867.6 1557.9 1870.6 1551.1 1873.7 1544.4 1876.9 1537.7 1880.3 1531.0 1883.7 1524.4 1887.2 1517.8M1829.6 1760.0 1829.4 1752.6 1829.3 1745.1 1829.4 1737.7 1829.6 1730.2 1830.0 1722.8 1830.6 1715.4 1831.2 1707.9M1837.2 1760.0 1836.6 1752.6 1836.3 1745.1 1836.1 1737.7 1836.1 1730.2 1836.2 1722.8 1836.5 1715.4 1836.9 1707.9 1837.5 1700.5 1838.3 1693.1 1839.1 1685.7 1840.1 1678.3 1841.3 1670.9 1842.5 1663.6 1843.9 1656.3 1845.4 1649.0 1847.0 1641.7 1848.7 1634.5 1850.5 1627.2 1852.4 1620.0 1854.4 1612.9 1856.6 1605.7 1858.8 1598.6 1861.1 1591.6M1844.8 1760.0 1843.9 1752.6 1843.2 1745.2 1842.7 1737.8 1842.5 1730.3 1842.3 1722.9 1842.4 1715.4 1842.6 1708.0 1843.0 1700.5 1843.5 1693.1 1844.2 1685.7 1845.0 1678.3M1860.0 1760.0 1858.4 1752.7 1857.1 1745.4 1856.0 1738.0 1855.2 1730.6 1854.5 1723.2 1854.1 1715.8 1853.8 1708.3 1853.7 1700.9 1853.9 1693.4 1854.2 1686.0 1854.6 1678.6 1855.2 1671.1 1856.0 1663.7 1857.0 1656.3 1858.0 1649.0 1859.2 1641.6 1860.6 1634.3 1862.1 1627.0 1863.7 1619.7 1865.4 1612.5 1867.3 1605.3 1869.3 1598.1 1871.4 1591.0 1873.7 1583.9M2146.4 1412.7 2153.9 1412.4 2161.3 1412.3 2168.8 1412.2 2176.2 1412.1 2179.0 1412.1M1867.6 1760.0 1865.7 1752.8 1864.0 1745.5 1862.6 1738.2 1861.5 1730.9 1860.5 1723.5 1859.8 1716.1 1859.3 1708.6 1859.0 1701.2 1859.0 1693.7 1859.0 1686.3 1859.3 1678.9 1859.8 1671.4 1860.4 1664.0M2157.0 1430.8 2164.5 1430.6 2171.9 1430.6 2179.0 1430.5M2166.7 1440.7 2174.1 1440.6 2179.0 1440.6M2179.0 1471.0 2179.0 1471.0M2179.0 1463.4 2179.0 1463.4M2171.6 1455.8 2179.0 1455.7 2179.0 1455.7M2171.6 1448.2 2179.0 1448.1 2179.0 1448.1M2156.7 1425.6 2164.1 1425.4 2171.6 1425.3 2179.0 1425.3 2179.0 1425.3M2149.3 1418.2 2156.7 1418.0 2164.1 1417.8 2171.6 1417.7 2179.0 1417.7 2179.0 1417.7M2141.8 1403.2 2149.3 1402.9 2156.7 1402.7 2164.1 1402.6 2171.6 1402.5 2179.0 1402.5M1848.3 1556.7 1851.6 1550.0 1855.0 1543.4 1858.5 1536.8 1862.0 1530.3 1865.6 1523.8 1869.3 1517.3 1873.1 1510.9 1876.9 1504.5 1880.9 1498.2 1884.9 1491.9 1889.1 1485.8 1893.3 1479.6 1897.7 1473.6M1856.5 1518.8 1860.4 1512.4 1864.3 1506.0 1868.3 1499.8 1872.4 1493.5 1876.5 1487.3 1880.7 1481.2 1885.1 1475.2 1889.5 1469.2 1894.0 1463.3 1898.6 1457.4 1903.4 1451.7M1863.9 1490.3 1868.1 1484.1 1872.4 1478.1 1876.8 1472.0 1881.3 1466.1 1885.8 1460.2 1890.5 1454.4 1895.2 1448.6 1900.1 1443.0 1905.0 1437.4 1910.1 1432.0M1867.8 1467.9 1872.3 1461.9 1876.9 1456.1 1881.6 1450.3 1886.4 1444.6 1891.2 1439.0 1896.2 1433.4 1901.2 1428.0 1906.4 1422.6 1911.7 1417.4 1917.1 1412.3M1877.0 1439.9 1881.8 1434.3 1886.8 1428.8 1891.9 1423.3 1897.0 1418.0 1902.3 1412.7 1907.7 1407.5 1913.1 1402.5 1913.1 1402.5M1879.5 1429.1 1884.5 1423.6 1889.6 1418.2 1894.8 1412.8 1900.1 1407.6 1905.6 1402.5 1905.6 1402.5M1890.4 1402.5 1890.4 1402.5M1842.3 1589.9 1845.1 1583.0 1848.0 1576.2 1851.0 1569.3 1854.1 1562.6 1857.2 1555.8 1860.4 1549.1M1835.9 1626.1 1838.2 1619.0 1840.6 1612.0 1843.1 1604.9 1845.6 1598.0M1882.8 1417.7 1887.9 1412.4 1893.2 1407.1 1897.9 1402.5M1864.3 1546.1 1867.6 1539.4 1871.0 1532.8 1874.4 1526.2 1878.0 1519.7 1881.7 1513.2 1885.5 1506.8 1889.3 1500.4 1893.3 1494.1M1865.7 1580.7 1868.3 1573.7 1870.9 1566.7 1873.7 1559.8 1876.6 1553.0 1879.6 1546.2"/><path stroke="#2b1d3c" d="M1822.0 1760.0 1822.1 1752.6 1822.3 1745.1 1822.7 1737.7 1823.2 1730.2 1823.8 1722.8 1824.6 1715.4 1825.5 1708.0 1826.5 1700.6 1827.6 1693.3 1828.8 1685.9 1830.2 1678.6M2179.0 1402.5 2179.0 1402.5M1822.0 1615.7 1823.9 1611.0 1826.7 1604.2 1829.6 1597.3 1832.6 1590.5 1835.6 1583.7 1838.7 1576.9 1841.8 1570.1 1845.0 1563.4 1848.3 1556.7M1822.0 1582.5 1824.5 1577.6 1827.8 1570.9 1831.2 1564.3 1834.7 1557.7 1838.2 1551.1 1841.8 1544.6 1845.4 1538.1 1849.0 1531.6 1852.7 1525.2 1856.5 1518.8M1822.0 1558.4 1824.8 1553.6 1828.5 1547.1 1832.2 1540.7 1836.0 1534.3 1839.8 1527.9 1843.7 1521.5 1847.6 1515.2 1851.6 1508.9 1855.6 1502.6 1859.7 1496.4 1863.9 1490.3M1822.0 1534.9 1825.6 1529.2 1829.6 1522.9 1833.7 1516.7 1837.7 1510.4 1841.9 1504.2 1846.1 1498.1 1850.3 1492.0 1854.6 1485.9 1858.9 1479.8 1863.3 1473.8 1867.8 1467.9M1831.5 1498.8 1835.8 1492.8 1840.2 1486.7 1844.6 1480.7 1849.0 1474.8 1853.5 1468.9 1858.1 1463.0 1862.7 1457.1 1867.4 1451.3 1872.1 1445.6 1877.0 1439.9M1869.7 1440.2 1874.6 1434.6 1879.5 1429.1M1840.5 1457.7 1845.3 1452.0 1850.0 1446.3 1854.9 1440.6 1859.7 1435.0 1864.7 1429.4 1869.7 1423.9 1874.7 1418.4 1879.9 1413.0 1885.1 1407.7 1890.4 1402.5M1849.6 1429.6 1854.6 1424.0 1859.7 1418.6 1864.8 1413.2 1869.9 1407.8 1875.2 1402.5 1875.2 1402.5M1854.8 1407.8 1860.0 1402.5 1860.0 1402.5M1822.0 1600.3 1825.1 1593.5 1828.2 1586.7 1831.3 1580.0 1834.5 1573.2 1837.8 1566.6M1822.0 1645.9 1824.3 1638.8 1826.7 1631.8 1829.1 1624.7 1831.6 1617.7 1834.2 1610.7 1836.8 1603.7 1839.5 1596.8 1842.3 1589.9M1822.0 1676.3 1823.7 1669.1 1825.6 1661.9 1827.5 1654.7 1829.5 1647.5 1831.5 1640.3 1833.7 1633.2 1835.9 1626.1M1834.1 1480.2 1838.6 1474.3 1843.2 1468.4 1847.8 1462.6 1852.4 1456.8 1857.1 1451.0 1861.9 1445.3M1872.7 1428.6 1877.7 1423.1 1882.8 1417.7M1857.5 1428.7 1862.5 1423.2 1867.6 1417.7 1872.7 1412.3 1877.9 1407.0 1882.3 1402.5M1852.4 1417.7 1857.5 1412.3 1862.7 1406.9 1867.0 1402.5M1824.7 1519.9 1828.8 1513.7 1833.0 1507.5 1837.2 1501.4 1841.4 1495.3 1845.7 1489.2"/><path stroke="#151122" d="M1822.0 1512.4 1822.9 1511.0 1827.2 1504.9 1831.5 1498.8M1822.0 1481.0 1826.6 1475.2 1831.2 1469.3 1835.8 1463.5 1840.5 1457.7M1822.0 1461.6 1825.3 1457.7 1830.1 1452.0 1834.9 1446.4 1839.8 1440.7 1844.7 1435.1 1849.6 1429.6M1822.0 1443.4 1824.5 1440.6 1829.4 1435.1 1834.4 1429.6 1839.5 1424.1 1844.5 1418.6 1849.6 1413.2 1854.8 1407.8M1822.0 1432.9 1827.0 1427.4 1832.1 1422.0 1837.2 1416.6 1842.3 1411.2 1847.5 1405.8 1850.7 1402.5M1822.0 1496.4 1825.1 1492.1 1829.6 1486.2 1834.1 1480.2M1842.3 1428.7 1847.3 1423.2 1852.4 1417.7M1822.0 1523.9 1824.7 1519.9"/></g><g stroke-width="0.8" stroke-linejoin="miter"><path fill="#533260" stroke="#533260" d="M1889.6 1522.9L1890.3 1512.4L1881.6 1518.4L1886.9 1518.4Z"/><path fill="#3b264b" stroke="#3b264b" d="M1833.9 1741.1L1829.6 1731.4L1824.7 1740.8L1829.4 1738.3Z"/><path fill="#402850" stroke="#402850" d="M1844.2 1682.2L1841.1 1672.2L1835.1 1680.9L1840.1 1678.9Z"/><path fill="#422952" stroke="#422952" d="M1846.9 1726.2L1842.4 1716.6L1837.7 1726.1L1842.3 1723.5Z"/><path fill="#683d6e" stroke="#683d6e" d="M1920.3 1495.4L1922.0 1485.0L1912.8 1490.1L1918.1 1490.6Z"/><path fill="#4c2e5a" stroke="#4c2e5a" d="M1864.6 1719.0L1859.4 1709.9L1855.5 1719.6L1859.9 1716.7Z"/><path fill="#533260" stroke="#533260" d="M1874.2 1653.8L1870.6 1643.9L1865.0 1652.8L1869.9 1650.7Z"/><path fill="#593564" stroke="#593564" d="M1884.8 1706.2L1878.9 1697.4L1875.7 1707.4L1879.9 1704.2Z"/><path fill="#5f3868" stroke="#5f3868" d="M1901.0 1741.5L1893.2 1734.3L1892.4 1744.8L1895.7 1740.7Z"/><path fill="#774576" stroke="#774576" d="M1931.0 1511.5L1932.2 1501.0L1923.2 1506.5L1928.5 1506.8Z"/><path fill="#673c6d" stroke="#673c6d" d="M1902.3 1683.6L1896.3 1674.9L1893.2 1685.0L1897.3 1681.6Z"/><path fill="#714173" stroke="#714173" d="M1935.7 1739.0L1926.4 1734.1L1928.3 1744.4L1930.4 1739.6Z"/><path fill="#7c4879" stroke="#7c4879" d="M1935.3 1523.7L1936.0 1513.2L1927.3 1519.2L1932.6 1519.1Z"/><path fill="#7c4879" stroke="#7c4879" d="M1973.5 1749.8L1963.0 1748.9L1968.8 1757.7L1968.9 1752.4Z"/><path fill="#814a7c" stroke="#814a7c" d="M2016.0 1753.9L2006.1 1757.7L2015.2 1763.1L2012.9 1758.3Z"/><path fill="#834c7d" stroke="#834c7d" d="M2039.3 1752.4L2029.3 1755.6L2038.0 1761.5L2036.0 1756.6Z"/><path fill="#8d5282" stroke="#8d5282" d="M2069.9 1752.2L2059.7 1755.1L2068.3 1761.3L2066.5 1756.3Z"/><path fill="#995a88" stroke="#995a88" d="M2100.0 1753.5L2089.9 1756.3L2098.4 1762.5L2096.6 1757.5Z"/><path fill="#a8668e" stroke="#a8668e" d="M2122.8 1753.5L2112.7 1756.3L2121.2 1762.5L2119.4 1757.5Z"/><path fill="#bb7797" stroke="#bb7797" d="M2145.6 1753.5L2135.4 1756.3L2144.0 1762.5L2142.2 1757.5Z"/><path fill="#e7bfbd" stroke="#e7bfbd" d="M2181.1 1754.2L2172.6 1747.9L2173.0 1758.5L2175.8 1754.0Z"/><path fill="#e1b1b4" stroke="#e1b1b4" d="M2159.0 1726.5L2162.2 1716.5L2152.3 1720.2L2157.5 1721.4Z"/><path fill="#d9a1ab" stroke="#d9a1ab" d="M2155.1 1707.4L2163.0 1700.4L2152.6 1698.5L2156.4 1702.3Z"/><path fill="#cf90a2" stroke="#cf90a2" d="M2154.3 1690.8L2163.0 1684.8L2152.8 1681.8L2156.2 1685.9Z"/><path fill="#ca899f" stroke="#ca899f" d="M2154.1 1682.9L2162.9 1677.1L2152.9 1673.8L2156.2 1678.0Z"/><path fill="#cd8ea1" stroke="#cd8ea1" d="M2147.2 1676.8L2155.6 1670.3L2145.3 1667.8L2148.9 1671.7Z"/><path fill="#c9889f" stroke="#c9889f" d="M2147.0 1668.7L2155.5 1662.5L2145.4 1659.6L2148.8 1663.7Z"/><path fill="#cb8ca0" stroke="#cb8ca0" d="M2140.1 1662.7L2148.2 1656.0L2137.9 1653.8L2141.6 1657.6Z"/><path fill="#c6859d" stroke="#c6859d" d="M2139.8 1654.5L2148.2 1648.1L2137.9 1645.5L2141.5 1649.5Z"/><path fill="#bb7797" stroke="#bb7797" d="M2146.6 1645.0L2155.5 1639.3L2145.5 1635.9L2148.7 1640.1Z"/><path fill="#cc8da1" stroke="#cc8da1" d="M2126.2 1643.1L2133.6 1635.6L2123.1 1634.5L2127.2 1637.9Z"/><path fill="#b26f93" stroke="#b26f93" d="M2146.5 1629.4L2155.5 1624.0L2145.6 1620.3L2148.7 1624.6Z"/><path fill="#c9889f" stroke="#c9889f" d="M2119.0 1629.0L2126.3 1621.4L2115.8 1620.4L2119.9 1623.8Z"/><path fill="#b77495" stroke="#b77495" d="M2132.1 1616.3L2140.7 1610.2L2130.6 1607.2L2134.0 1611.3Z"/><path fill="#c07d99" stroke="#c07d99" d="M2118.1 1612.0L2126.1 1605.1L2115.7 1603.2L2119.5 1606.9Z"/><path fill="#bc7897" stroke="#bc7897" d="M2117.8 1603.8L2126.0 1597.1L2115.7 1594.9L2119.4 1598.7Z"/><path fill="#b16e92" stroke="#b16e92" d="M2124.7 1594.0L2133.3 1587.9L2123.2 1584.9L2126.5 1589.0Z"/><path fill="#be7b98" stroke="#be7b98" d="M2103.8 1591.9L2111.5 1584.6L2101.0 1583.1L2104.9 1586.7Z"/><path fill="#ba7696" stroke="#ba7696" d="M2103.5 1583.5L2111.4 1576.5L2101.0 1574.6L2104.8 1578.3Z"/><path fill="#b57294" stroke="#b57294" d="M2103.2 1575.2L2111.3 1568.4L2100.9 1566.3L2104.6 1570.1Z"/><path fill="#b16e92" stroke="#b16e92" d="M2103.0 1567.0L2111.2 1560.4L2100.9 1558.0L2104.5 1561.9Z"/><path fill="#d396a5" stroke="#d396a5" d="M2054.7 1593.8L2054.1 1583.2L2046.2 1590.2L2051.5 1589.5Z"/><path fill="#b26f93" stroke="#b26f93" d="M2088.7 1554.6L2096.6 1547.7L2086.2 1545.8L2090.0 1549.5Z"/><path fill="#b77495" stroke="#b77495" d="M2074.7 1551.0L2082.2 1543.6L2071.7 1542.3L2075.7 1545.8Z"/><path fill="#b67395" stroke="#b67395" d="M2067.5 1544.9L2074.9 1537.4L2064.5 1536.2L2068.5 1539.7Z"/><path fill="#cc8da1" stroke="#cc8da1" d="M2022.8 1560.3L2027.8 1551.0L2017.4 1552.8L2022.3 1555.0Z"/><path fill="#cd8ea1" stroke="#cd8ea1" d="M2006.5 1554.8L2013.1 1546.6L2002.6 1546.5L2006.9 1549.5Z"/><path fill="#c8879e" stroke="#c8879e" d="M1996.4 1543.8L2004.4 1537.0L1994.1 1534.9L1997.8 1538.7Z"/><path fill="#af6c91" stroke="#af6c91" d="M1973.5 1569.1L1971.9 1558.7L1964.7 1566.4L1969.9 1565.2Z"/><path fill="#a4638d" stroke="#a4638d" d="M2058.9 1504.4L2067.1 1497.6L2056.7 1495.4L2060.4 1499.3Z"/><path fill="#9a5b88" stroke="#9a5b88" d="M1955.6 1582.4L1952.5 1572.3L1946.5 1581.0L1951.5 1579.1Z"/><path fill="#9d5d89" stroke="#9d5d89" d="M2058.6 1487.8L2066.9 1481.3L2056.7 1478.8L2060.2 1482.7Z"/><path fill="#884f7f" stroke="#884f7f" d="M1937.5 1601.9L1933.6 1592.1L1928.4 1601.2L1933.1 1598.9Z"/><path fill="#9a5b88" stroke="#9a5b88" d="M2043.8 1474.5L2052.2 1468.1L2041.9 1465.5L2045.5 1469.5Z"/><path fill="#613969" stroke="#613969" d="M2138.7 1453.7L2148.0 1448.7L2138.4 1444.5L2141.2 1449.0Z"/><path fill="#583463" stroke="#583463" d="M2138.7 1430.8L2148.0 1425.8L2138.4 1421.6L2141.2 1426.1Z"/><path fill="#4f305c" stroke="#4f305c" d="M2146.1 1422.9L2155.5 1418.0L2145.8 1413.7L2148.6 1418.2Z"/><path fill="#4f305c" stroke="#4f305c" d="M2138.7 1407.9L2148.0 1403.0L2138.4 1398.7L2141.2 1403.2Z"/><path fill="#774576" stroke="#774576" d="M1962.5 1425.1L1968.6 1416.5L1958.1 1417.1L1962.6 1419.8Z"/><path fill="#492d58" stroke="#492d58" d="M1883.0 1503.4L1884.2 1493.0L1875.2 1498.5L1880.5 1498.7Z"/><path fill="#432a53" stroke="#432a53" d="M1878.4 1492.7L1880.0 1482.2L1870.9 1487.4L1876.2 1487.9Z"/><path fill="#3d274e" stroke="#3d274e" d="M1874.2 1483.4L1876.1 1473.0L1866.8 1478.0L1872.1 1478.6Z"/><path fill="#382449" stroke="#382449" d="M1869.4 1473.3L1871.6 1462.9L1862.1 1467.7L1867.4 1468.3Z"/><path fill="#322143" stroke="#322143" d="M1864.2 1462.6L1866.6 1452.3L1857.1 1456.8L1862.3 1457.6Z"/><path fill="#3b264b" stroke="#3b264b" d="M1885.6 1429.1L1888.8 1419.1L1878.9 1422.8L1884.1 1424.0Z"/><path fill="#291c39" stroke="#291c39" d="M1856.2 1446.1L1858.9 1435.9L1849.2 1440.1L1854.5 1441.1Z"/><path fill="#1f172f" stroke="#1f172f" d="M1845.9 1440.6L1848.8 1430.5L1839.1 1434.5L1844.3 1435.6Z"/><path fill="#1a1429" stroke="#1a1429" d="M1840.6 1429.6L1843.7 1419.5L1833.9 1423.3L1839.0 1424.5Z"/><path fill="#151122" stroke="#151122" d="M1833.2 1427.5L1836.4 1417.5L1826.5 1421.2L1831.7 1422.4Z"/><path fill="#2e1f3f" stroke="#2e1f3f" d="M1830.9 1591.6L1830.8 1581.1L1822.6 1587.7L1827.9 1587.3Z"/><path fill="#362347" stroke="#362347" d="M1839.9 1608.5L1839.0 1598.0L1831.3 1605.1L1836.6 1604.3Z"/><path fill="#362347" stroke="#362347" d="M1835.0 1644.8L1833.3 1634.4L1826.2 1642.1L1831.4 1640.9Z"/><path fill="#d397a6" stroke="#d397a6" d="M2167.3 1751.4L2157.1 1754.1L2165.5 1760.4L2163.8 1755.4Z"/><path fill="#6b3e6f" stroke="#6b3e6f" d="M2093.2 1416.9L2102.2 1411.4L2092.3 1407.7L2095.4 1412.1Z"/><path fill="#231933" stroke="#231933" d="M1840.2 1479.7L1842.4 1469.4L1833.0 1474.1L1838.2 1474.8Z"/><path fill="#774576" stroke="#774576" d="M1922.7 1672.0L1916.1 1663.8L1913.8 1674.1L1917.6 1670.5Z"/><path fill="#864e7e" stroke="#864e7e" d="M2015.2 1741.7L2005.3 1745.5L2014.4 1750.8L2012.1 1746.0Z"/><path fill="#834c7d" stroke="#834c7d" d="M1958.9 1712.6L1949.1 1708.6L1952.1 1718.8L1953.7 1713.7Z"/><path fill="#995a88" stroke="#995a88" d="M2085.0 1738.0L2074.8 1740.7L2083.2 1747.1L2081.5 1742.0Z"/><path fill="#925684" stroke="#925684" d="M2035.5 1719.7L2025.3 1722.6L2033.9 1728.8L2032.1 1723.8Z"/><path fill="#39254a" stroke="#39254a" d="M1883.8 1423.3L1887.1 1413.2L1877.2 1416.9L1882.3 1418.2Z"/><path fill="#2d1e3e" stroke="#2d1e3e" d="M1868.7 1423.3L1871.9 1413.2L1862.0 1416.9L1867.1 1418.2Z"/><path fill="#221832" stroke="#221832" d="M1853.5 1423.3L1856.7 1413.2L1846.8 1416.9L1852.0 1418.2Z"/><path fill="#251a35" stroke="#251a35" d="M1834.9 1512.8L1836.5 1502.4L1827.3 1507.6L1832.6 1508.0Z"/><path fill="#884f7f" stroke="#884f7f" d="M1971.1 1453.4L1977.3 1444.9L1966.7 1445.3L1971.2 1448.1Z"/><path fill="#8d5282" stroke="#8d5282" d="M2007.5 1727.4L1997.6 1731.1L2006.6 1736.6L2004.4 1731.8Z"/><path fill="#ba7696" stroke="#ba7696" d="M2123.4 1722.1L2113.1 1724.1L2121.1 1731.0L2119.7 1725.8Z"/><path fill="#d093a4" stroke="#d093a4" d="M2157.0 1697.9L2165.7 1692.0L2155.6 1688.8L2158.9 1692.9Z"/><path fill="#a3628c" stroke="#a3628c" d="M2015.1 1685.5L2005.1 1688.9L2014.0 1694.6L2011.9 1689.7Z"/><path fill="#884f7f" stroke="#884f7f" d="M1960.8 1703.9L1951.1 1699.8L1953.9 1710.0L1955.6 1705.0Z"/><path fill="#9d5d89" stroke="#9d5d89" d="M2025.9 1698.9L2015.7 1701.9L2024.3 1708.0L2022.5 1703.0Z"/><path fill="#b16e92" stroke="#b16e92" d="M2026.2 1661.8L2015.9 1664.0L2024.0 1670.7L2022.5 1665.6Z"/><path fill="#4c2e5a" stroke="#4c2e5a" d="M1884.0 1518.3L1884.8 1507.8L1876.1 1513.7L1881.4 1513.7Z"/><path fill="#9f5f8a" stroke="#9f5f8a" d="M2012.0 1473.1L2020.6 1467.0L2010.4 1464.1L2013.8 1468.1Z"/><path fill="#5c3666" stroke="#5c3666" d="M1884.6 1658.1L1880.4 1648.4L1875.4 1657.7L1880.1 1655.2Z"/><path fill="#4c2e5a" stroke="#4c2e5a" d="M1874.0 1571.5L1873.3 1561.0L1865.4 1568.1L1870.7 1567.3Z"/><path fill="#985987" stroke="#985987" d="M1968.9 1673.4L1959.5 1668.7L1961.6 1679.0L1963.6 1674.1Z"/><path fill="#a7658e" stroke="#a7658e" d="M2008.4 1678.8L1998.4 1682.1L2007.2 1687.9L2005.1 1683.0Z"/><path fill="#b57294" stroke="#b57294" d="M2009.4 1651.7L1999.3 1654.7L2008.0 1660.8L2006.1 1655.8Z"/><path fill="#7f497b" stroke="#7f497b" d="M1934.0 1544.9L1933.5 1534.4L1925.5 1541.3L1930.8 1540.7Z"/><path fill="#824b7c" stroke="#824b7c" d="M1932.0 1574.2L1929.9 1563.8L1923.1 1571.9L1928.2 1570.4Z"/><path fill="#824b7c" stroke="#824b7c" d="M1932.5 1625.5L1927.4 1616.2L1923.3 1625.9L1927.7 1623.0Z"/><path fill="#c07d99" stroke="#c07d99" d="M2002.7 1634.1L1992.2 1634.4L1998.9 1642.5L1998.4 1637.2Z"/><path fill="#d397a6" stroke="#d397a6" d="M2025.0 1599.5L2015.9 1594.1L2017.3 1604.6L2019.7 1599.8Z"/></g></g><g stroke="#000" stroke-width="3.4" clip-path="url(#c2)"><path d="M1876.3 1402.5V1760.0"/><path d="M1947.8 1402.5V1760.0"/><path d="M2001.2 1402.5V1760.0"/><path d="M2034.4 1402.5V1760.0"/><path d="M2082.1 1402.5V1760.0"/><path d="M2137.9 1402.5V1760.0"/><path d="M1905.9 1402.5L2077.8 1760.0"/><path d="M1933.2 1402.5L2179.0 1679.7"/><path d="M1822.0 1607.5L2179.0 1712.5"/></g><rect x="1246.0" y="935.0" width="359.0" height="358.0" fill="none" stroke="#000" stroke-width="3.4"/><path stroke="#000" stroke-width="1.4" d="M1246.0 935.0h-5M1246.0 1114.0h-5M1246.0 1293.0h-5M1246.0 1293.0v5M1425.5 1293.0v5M1605.0 1293.0v5"/><text font-family="Liberation Sans" font-size="14" fill="#000" x="1239.0" y="940.0" text-anchor="end">1</text><text font-family="Liberation Sans" font-size="14" fill="#000" x="1239.0" y="1119.0" text-anchor="end">0</text><text font-family="Liberation Sans" font-size="14" fill="#000" x="1239.0" y="1298.0" text-anchor="end">−1</text><text font-family="Liberation Sans" font-size="14" fill="#000" x="1246.0" y="1313.0" text-anchor="middle">−1</text><text font-family="Liberation Sans" font-size="14" fill="#000" x="1425.5" y="1313.0" text-anchor="middle">0</text><text font-family="Liberation Sans" font-size="14" fill="#000" x="1605.0" y="1313.0" text-anchor="middle">1</text><rect x="1822.0" y="1402.5" width="357.0" height="357.5" fill="none" stroke="#000" stroke-width="3.4"/><path stroke="#000" stroke-width="1.4" d="M1822.0 1402.5h-5M1822.0 1581.2h-5M1822.0 1760.0h-5M1822.0 1760.0v5M2000.5 1760.0v5M2179.0 1760.0v5"/><text font-family="Liberation Sans" font-size="14" fill="#000" x="1815.0" y="1407.5" text-anchor="end">1</text><text font-family="Liberation Sans" font-size="14" fill="#000" x="1815.0" y="1586.2" text-anchor="end">0</text><text font-family="Liberation Sans" font-size="14" fill="#000" x="1815.0" y="1765.0" text-anchor="end">−1</text><text font-family="Liberation Sans" font-size="14" fill="#000" x="1822.0" y="1780.0" text-anchor="middle">−1</text><text font-family="Liberation Sans" font-size="14" fill="#000" x="2000.5" y="1780.0" text-anchor="middle">0</text><text font-family="Liberation Sans" font-size="14" fill="#000" x="2179.0" y="1780.0" text-anchor="middle">1</text><rect x="1228" y="1391" width="379" height="379" fill="none" stroke="#000" stroke-width="1"/><path stroke="#555" stroke-width="1" stroke-dasharray="1.2 2.2" d="M1417.5 1391V1770M1228 1580.5H1607"/><path stroke="#000" stroke-width="1" d="M1228.0 1770v-7M1228.0 1391v7M1228 1391.0h7M1607 1391.0h-7M1247.0 1770v-4M1247.0 1391v4M1228 1410.0h4M1607 1410.0h-4M1265.9 1770v-4M1265.9 1391v4M1228 1428.9h4M1607 1428.9h-4M1284.8 1770v-4M1284.8 1391v4M1228 1447.8h4M1607 1447.8h-4M1303.8 1770v-4M1303.8 1391v4M1228 1466.8h4M1607 1466.8h-4M1322.8 1770v-7M1322.8 1391v7M1228 1485.8h7M1607 1485.8h-7M1341.7 1770v-4M1341.7 1391v4M1228 1504.7h4M1607 1504.7h-4M1360.7 1770v-4M1360.7 1391v4M1228 1523.7h4M1607 1523.7h-4M1379.6 1770v-4M1379.6 1391v4M1228 1542.6h4M1607 1542.6h-4M1398.5 1770v-4M1398.5 1391v4M1228 1561.5h4M1607 1561.5h-4M1417.5 1770v-7M1417.5 1391v7M1228 1580.5h7M1607 1580.5h-7M1436.5 1770v-4M1436.5 1391v4M1228 1599.5h4M1607 1599.5h-4M1455.4 1770v-4M1455.4 1391v4M1228 1618.4h4M1607 1618.4h-4M1474.3 1770v-4M1474.3 1391v4M1228 1637.3h4M1607 1637.3h-4M1493.3 1770v-4M1493.3 1391v4M1228 1656.3h4M1607 1656.3h-4M1512.2 1770v-7M1512.2 1391v7M1228 1675.2h7M1607 1675.2h-7M1531.2 1770v-4M1531.2 1391v4M1228 1694.2h4M1607 1694.2h-4M1550.2 1770v-4M1550.2 1391v4M1228 1713.2h4M1607 1713.2h-4M1569.1 1770v-4M1569.1 1391v4M1228 1732.1h4M1607 1732.1h-4M1588.0 1770v-4M1588.0 1391v4M1228 1751.0h4M1607 1751.0h-4M1607.0 1770v-7M1607.0 1391v7M1228 1770.0h7M1607 1770.0h-7"/><text font-family="Liberation Sans" font-size="15" fill="#222" x="1223" y="1396.0" text-anchor="end">1.0</text><text font-family="Liberation Sans" font-size="15" fill="#222" x="1223" y="1490.8" text-anchor="end">0.5</text><text font-family="Liberation Sans" font-size="15" fill="#222" x="1223" y="1585.5" text-anchor="end">0.0</text><text font-family="Liberation Sans" font-size="15" fill="#222" x="1223" y="1680.2" text-anchor="end">-0.5</text><text font-family="Liberation Sans" font-size="15" fill="#222" x="1223" y="1775.0" text-anchor="end">-1.0</text><text font-family="Liberation Sans" font-size="15" fill="#222" x="1228.0" y="1794" text-anchor="middle">−1.0</text><text font-family="Liberation Sans" font-size="15" fill="#222" x="1322.8" y="1794" text-anchor="middle">−0.5</text><text font-family="Liberation Sans" font-size="15" fill="#222" x="1417.5" y="1794" text-anchor="middle">0.0</text><text font-family="Liberation Sans" font-size="15" fill="#222" x="1512.2" y="1794" text-anchor="middle">0.5</text><text font-family="Liberation Sans" font-size="15" fill="#222" x="1607.0" y="1794" text-anchor="middle">1.0</text><path fill="#c2c2fb" stroke="#8c8cf2" stroke-width="1.1" d="M1369.3 1474.4 L1363.7 1477.5 L1355.4 1491.4 L1345.3 1511.7 L1336.9 1532.0 L1329.6 1556.0 L1324.0 1580.0 L1320.7 1607.8 L1320.7 1635.5 L1324.0 1659.5 L1332.3 1685.3 L1345.3 1709.4 L1361.0 1727.8 L1379.4 1741.7 L1397.9 1749.0 L1418.2 1751.8 L1422.8 1751.5 L1422.8 1741.7 L1418.2 1741.7 L1403.4 1738.9 L1386.8 1729.7 L1370.2 1714.9 L1357.3 1690.9 L1348.0 1665.0 L1344.0 1637.3 L1344.0 1611.5 L1346.2 1589.3 L1350.8 1567.1 L1361.0 1543.1 L1379.4 1519.1 L1385.3 1514.5 L1387.7 1504.3 L1387.4 1492.3 L1385.3 1478.5 Z"/><path fill="none" stroke="#8c8cf2" stroke-width="0.9" d="M1334.7 1539.3L1356.1 1536.0L1374.8 1525.1M1332.5 1546.6L1352.8 1542.6L1370.1 1531.2M1330.3 1553.9L1349.6 1549.2L1365.5 1537.2M1328.4 1561.2L1346.6 1555.8L1360.9 1543.3M1326.6 1568.6L1344.3 1562.9L1357.9 1550.3M1324.9 1576.1L1342.1 1570.1L1355.0 1557.3M1323.6 1583.5L1340.0 1577.2L1352.0 1564.3M1322.7 1591.1L1338.6 1584.6L1349.9 1571.6M1321.8 1598.7L1337.4 1592.0L1348.3 1579.0M1320.9 1606.2L1336.3 1599.5L1346.8 1586.5M1320.7 1613.8L1335.7 1607.0L1345.7 1594.0M1320.7 1621.4L1335.4 1614.6L1345.0 1601.5M1320.7 1629.1L1335.1 1622.1L1344.2 1609.1M1320.9 1636.7L1335.0 1629.7L1344.0 1616.7M1321.9 1644.2L1335.6 1637.2L1344.0 1624.3M1322.9 1651.8L1336.2 1644.8L1344.0 1631.9M1324.0 1659.3L1336.9 1652.3L1344.3 1639.5M1326.3 1666.6L1338.7 1659.6L1345.4 1647.0M1328.6 1673.8L1340.5 1666.9L1346.5 1654.6M1330.9 1681.0L1342.3 1674.2L1347.6 1662.1M1333.8 1688.1L1344.7 1681.3L1349.6 1669.4M1337.4 1694.8L1347.9 1688.2L1352.2 1676.6M1341.0 1701.5L1351.0 1695.0L1354.7 1683.7M1344.6 1708.2L1354.2 1701.9L1357.3 1690.9M1349.3 1714.1L1358.4 1708.2L1360.9 1697.6M1354.3 1719.9L1362.7 1714.3L1364.5 1704.3M1359.2 1725.7L1367.1 1720.4L1368.1 1711.0M1364.9 1730.7L1372.2 1725.8L1372.6 1717.0M1371.0 1735.3L1378.1 1730.6L1378.3 1722.1M1377.0 1739.9L1384.0 1735.4L1383.9 1727.1M1383.7 1743.4L1390.4 1739.4L1390.1 1731.5M1390.8 1746.2L1397.3 1742.6L1396.7 1735.2M1362.6 1482L1362.6 1540M1362.6 1482L1379.4 1519"/><path fill="#b3b3fe" d="M2314.0 430.6 L2588.3 430.6 L2434.3 584.7 L2314.0 466.2 Z"/><path fill="#fdbf80" d="M2314.0 466.2 L2554.2 706.0 L2314.0 706.0 Z"/><path fill="#b0fefe" d="M2588.3 430.6 L2588.3 706.0 L2554.2 706.0 L2434.3 584.7 Z"/><path stroke="#00006a" stroke-width="1.3" fill="none" d="M2314.0 466.2L2434.3 584.7"/><path stroke="#005a5a" stroke-width="1.3" fill="none" d="M2434.3 584.7L2554.2 706.0"/><path stroke="#00006a" stroke-width="1.3" fill="none" d="M2588.3 430.6L2434.3 584.7"/><path stroke="#7f4000" stroke-width="4.2" fill="none" d="M2314.0 568.4L2417.0 568.4"/><path stroke="#000060" stroke-width="4.2" fill="none" d="M2417.0 568.4L2450.5 568.4"/><path stroke="#005050" stroke-width="4.2" fill="none" d="M2450.5 568.4L2586.7 568.4"/><path stroke="#7f4000" stroke-width="4.2" fill="none" d="M2450.5 706.0L2450.5 601.3"/><path stroke="#005050" stroke-width="4.2" fill="none" d="M2450.5 601.3L2450.5 568.4"/><path stroke="#000060" stroke-width="4.2" fill="none" d="M2450.5 568.4L2450.5 432.7"/><path fill="none" stroke="#000060" stroke-width="4" stroke-linecap="round" d="M2436.5 444.7Q2444.5 438.7 2450.5 431.7Q2456.5 438.7 2464.5 444.7"/><path fill="none" stroke="#005050" stroke-width="4" stroke-linecap="round" d="M2574.3 554.4Q2580.3 562.4 2587.3 568.4Q2580.3 574.4 2574.3 582.4"/><path fill="none" stroke="#00006a" stroke-width="1.6" d="M2314.0 430.6H2588.3"/><path fill="none" stroke="#004848" stroke-width="1.6" d="M2588.3 430.6V706.0"/><path fill="none" stroke="#5a3000" stroke-width="1.6" d="M2314.0 465.6V706.0H2528.3"/><path fill="none" stroke="#00006a" stroke-width="1.6" d="M2314.0 430.6V466.6"/><path fill="none" stroke="#004848" stroke-width="1.6" d="M2527.3 706.0H2588.3"/><g fill="none" stroke="#000" stroke-width="1.5"><path d="M2352.0 633.9 C2330.6 583.1 2334.7 520.1 2385.5 504.8"/><path d="M2438.3 499.7 C2493.2 499.7 2574.5 552.6 2558.2 615.6"/><path d="M2520.6 620.6 C2472.9 581.0 2395.7 583.1 2375.3 629.8"/><path d="M2371.3 667.4 C2387.5 700.9 2452.6 707.0 2517.6 656.2"/></g><path fill="#000" stroke="none" d="M2394.7 502.8L2379.4 512.7L2384.7 504.9L2376.7 500.0Z"/><path fill="#000" stroke="none" d="M2556.2 618.6L2551.2 601.1L2557.1 608.5L2564.2 602.2Z"/><path fill="#000" stroke="none" d="M2373.3 632.8L2375.6 614.8L2378.1 623.8L2387.0 620.9Z"/><path fill="#000" stroke="none" d="M2519.6 654.2L2510.2 669.8L2511.6 660.5L2502.2 659.5Z"/><circle cx="2931.8" cy="465.0" r="76" fill="#b3b3fe" stroke="#000" stroke-width="1.5"/><circle cx="2773.0" cy="637.0" r="76" fill="#fdbf80" stroke="#000" stroke-width="1.5"/><circle cx="3090.0" cy="637.0" r="76" fill="#b0fefe" stroke="#000" stroke-width="1.5"/><g fill="none" stroke="#000" stroke-width="1.5"><path d="M2735.6 571 C2710 530 2740 472 2850 465"/><path d="M3008.5 465 C3055 468 3092 510 3090 555"/><path d="M3017.9 610 C2975 595 2905 585 2852 609"/><path d="M2846 664 C2890 684 2960 690 3010 666"/></g><path fill="#000" stroke="none" d="M2855.0 465.0L2838.0 471.5L2844.8 465.0L2838.0 458.5Z"/><path fill="#000" stroke="none" d="M3090.0 561.0L3084.1 543.8L3090.4 550.8L3097.1 544.2Z"/><path fill="#000" stroke="none" d="M2846.0 611.0L2859.8 599.1L2855.6 607.5L2864.2 611.3Z"/><path fill="#000" stroke="none" d="M3016.5 664.0L3003.8 677.1L3007.3 668.3L2998.3 665.3Z"/><path stroke="#000" stroke-width="1.3" d="M2258 1469H2663"/><g fill="#65418c"><ellipse cx="167.9" cy="91.2" rx="5.3" ry="6.5"/><ellipse cx="182.6" cy="89.7" rx="4.7" ry="5.8"/><ellipse cx="152.2" cy="93.3" rx="5.3" ry="4.7"/><ellipse cx="196.2" cy="93.8" rx="4.1" ry="5.6"/><ellipse cx="207.2" cy="99.1" rx="3.5" ry="5.0"/><ellipse cx="137.0" cy="100.1" rx="6.5" ry="5.3"/><ellipse cx="122.9" cy="108.0" rx="5.5" ry="4.7"/><ellipse cx="159.0" cy="110.0" rx="4.1" ry="4.7"/><ellipse cx="183.1" cy="105.4" rx="3.5" ry="4.7"/><ellipse cx="194.1" cy="107.0" rx="2.9" ry="4.0"/><ellipse cx="204.0" cy="111.0" rx="2.6" ry="3.5"/><ellipse cx="216.6" cy="106.4" rx="2.9" ry="4.0"/><ellipse cx="223.9" cy="115.8" rx="2.9" ry="2.9"/><ellipse cx="230.2" cy="122.1" rx="1.8" ry="2.9"/><ellipse cx="234.4" cy="127.9" rx="1.5" ry="1.8"/><ellipse cx="115.0" cy="122.1" rx="6.5" ry="5.3"/><ellipse cx="132.9" cy="130.5" rx="5.3" ry="4.7"/><ellipse cx="157.5" cy="128.9" rx="4.1" ry="3.5"/><ellipse cx="174.2" cy="119.5" rx="3.2" ry="3.5"/><ellipse cx="193.0" cy="117.4" rx="2.4" ry="2.6"/><ellipse cx="183.6" cy="117.9" rx="2.4" ry="2.9"/><ellipse cx="146.5" cy="136.8" rx="3.5" ry="4.1"/><ellipse cx="115.0" cy="138.3" rx="6.5" ry="5.3"/><ellipse cx="105.1" cy="124.2" rx="1.8" ry="1.8"/><ellipse cx="103.0" cy="131.0" rx="3.5" ry="2.4"/><ellipse cx="140.0" cy="113.0" rx="5.6" ry="3.4"/><ellipse cx="150.0" cy="116.0" rx="4.5" ry="3.4"/><ellipse cx="165.0" cy="107.0" rx="4.5" ry="3.4"/><ellipse cx="175.0" cy="103.0" rx="3.4" ry="3.4"/><ellipse cx="171.0" cy="99.0" rx="3.4" ry="3.4"/></g><g fill="#8e6aaa"><ellipse cx="100.4" cy="140.0" rx="3.5" ry="2.9"/><ellipse cx="96.2" cy="149.8" rx="4.1" ry="2.9"/><ellipse cx="102.0" cy="149.0" rx="3.4" ry="2.2"/><ellipse cx="94.1" cy="161.9" rx="4.7" ry="4.1"/><ellipse cx="106.2" cy="159.3" rx="3.5" ry="2.6"/><ellipse cx="116.6" cy="166.1" rx="3.2" ry="2.4"/><ellipse cx="95.2" cy="174.4" rx="5.3" ry="4.7"/><ellipse cx="107.2" cy="169.7" rx="3.5" ry="3.5"/><ellipse cx="121.9" cy="173.9" rx="2.9" ry="2.9"/><ellipse cx="111.9" cy="179.7" rx="4.1" ry="4.1"/><ellipse cx="127.6" cy="181.3" rx="2.9" ry="3.5"/><ellipse cx="99.4" cy="188.0" rx="5.8" ry="4.7"/><ellipse cx="135.5" cy="187.5" rx="3.5" ry="3.5"/><ellipse cx="144.9" cy="191.2" rx="3.5" ry="3.5"/><ellipse cx="156.9" cy="197.0" rx="3.5" ry="4.1"/><ellipse cx="106.2" cy="200.1" rx="5.8" ry="6.5"/><ellipse cx="127.6" cy="198.5" rx="4.7" ry="5.3"/><ellipse cx="117.2" cy="212.1" rx="5.3" ry="6.5"/><ellipse cx="158.0" cy="211.6" rx="4.5" ry="5.3"/><ellipse cx="130.2" cy="221.0" rx="5.6" ry="6.5"/><ellipse cx="144.4" cy="231.0" rx="5.3" ry="6.5"/><ellipse cx="159.0" cy="231.5" rx="5.3" ry="7.1"/><ellipse cx="173.7" cy="224.2" rx="5.3" ry="7.1"/><ellipse cx="138.0" cy="202.0" rx="4.5" ry="5.6"/><ellipse cx="120.0" cy="192.0" rx="3.4" ry="4.5"/><ellipse cx="142.0" cy="214.0" rx="3.4" ry="5.6"/><ellipse cx="150.0" cy="200.0" rx="3.4" ry="3.4"/></g><g stroke="#65418c" stroke-width="2.2" fill="none"><path d="M122.9 108L146 118L162 126M146 118L146.5 136M152 93L168 105L182 93M168 105L180 117M196 93L204 111M207 99L216 113L224 116"/></g><g stroke="#8e6aaa" stroke-width="2.2" fill="none"><path d="M100 140L106 152L96 162M106 152L108 149M99 188L116 190L118 212M116 190L121 174M135 188L138 202L130 221M138 202L157 197M138 202L144 231"/></g><g stroke="#9a9a9a" stroke-width="1.1"><path d="M2944.7 134.1L2966.0 104.2"/><path d="M2944.7 134.1L2966.0 134.1"/><path d="M2944.7 134.1L2966.0 163.5"/><path d="M2944.7 134.1L2966.0 193.2"/><path d="M2944.7 163.5L2966.0 104.2"/><path d="M2944.7 163.5L2966.0 134.1"/><path d="M2944.7 163.5L2966.0 163.5"/><path d="M2944.7 163.5L2966.0 193.2"/><path d="M2966.0 104.2L3001.8 134.1"/><path d="M2966.0 134.1L3001.8 104.2"/><path d="M2966.0 134.1L3001.8 193.2"/><path d="M2966.0 163.5L3001.8 134.1"/><path d="M2966.0 163.5L3001.8 163.5"/><path d="M2966.0 193.2L3001.8 163.5"/><path d="M2966.0 193.2L3001.8 193.2"/><path d="M3001.8 104.2L3039.1 134.1"/><path d="M3001.8 104.2L3039.1 193.2"/><path d="M3001.8 134.1L3039.1 104.2"/><path d="M3001.8 134.1L3039.1 193.2"/><path d="M3001.8 163.5L3039.1 134.1"/><path d="M3001.8 163.5L3039.1 163.5"/><path d="M3001.8 193.2L3039.1 163.5"/><path d="M3039.1 104.2L3072.4 134.1"/><path d="M3039.1 134.1L3072.4 104.2"/><path d="M3039.1 134.1L3072.4 163.5"/><path d="M3039.1 163.5L3072.4 104.2"/><path d="M3039.1 163.5L3072.4 134.1"/><path d="M3039.1 163.5L3072.4 193.2"/><path d="M3039.1 193.2L3072.4 193.2"/><path d="M3072.4 104.2L3092.4 149.5"/><path d="M3072.4 134.1L3092.4 149.5"/><path d="M3072.4 163.5L3092.4 149.5"/><path d="M3072.4 193.2L3092.4 149.5"/></g><path stroke="#231f20" stroke-width="4" fill="none" d="M2966.0 193.2L3001.8 104.2L3039.1 193.2M3072.4 104.2V193.2"/><rect x="2941.7" y="131.1" width="6" height="6" fill="#b59dd6"/><rect x="2941.7" y="160.5" width="6" height="6" fill="#b59dd6"/><rect x="2963.0" y="101.2" width="6" height="6" fill="#b59dd6"/><rect x="2963.0" y="131.1" width="6" height="6" fill="#b59dd6"/><rect x="2963.0" y="160.5" width="6" height="6" fill="#b59dd6"/><rect x="2961.2" y="188.4" width="9.5" height="9.5" fill="#5f2a8f"/><rect x="2997.0" y="99.4" width="9.5" height="9.5" fill="#5f2a8f"/><rect x="2998.8" y="131.1" width="6" height="6" fill="#b59dd6"/><rect x="2997.0" y="158.8" width="9.5" height="9.5" fill="#5f2a8f"/><rect x="2998.8" y="190.2" width="6" height="6" fill="#b59dd6"/><rect x="3036.1" y="101.2" width="6" height="6" fill="#b59dd6"/><rect x="3036.1" y="131.1" width="6" height="6" fill="#b59dd6"/><rect x="3036.1" y="160.5" width="6" height="6" fill="#b59dd6"/><rect x="3034.4" y="188.4" width="9.5" height="9.5" fill="#5f2a8f"/><rect x="3067.7" y="99.4" width="9.5" height="9.5" fill="#5f2a8f"/><rect x="3067.7" y="129.3" width="9.5" height="9.5" fill="#5f2a8f"/><rect x="3067.7" y="158.8" width="9.5" height="9.5" fill="#5f2a8f"/><rect x="3067.7" y="188.4" width="9.5" height="9.5" fill="#5f2a8f"/><rect x="3089.4" y="146.5" width="6" height="6" fill="#b59dd6"/><path stroke="#231f20" stroke-width="3.2" fill="none" stroke-linejoin="miter" d="M3104.8 197.0L3104.8 99.0L3146.3 195.9L3187.9 99.0L3187.9 197.0"/><path stroke="#231f20" stroke-width="3.2" fill="none" d="M3278.8 127.3C3278.8 105.3 3257.7 99.0 3248.6 99.0C3230.5 99.0 3219.2 107.6 3219.6 123.4C3221.5 141.5 3248.6 146.1 3262.2 151.7C3282.6 159.7 3284.9 195.9 3248.6 197.5"/><path stroke="#231f20" stroke-width="3.2" fill="none" d="M3248.6 197.5C3226.0 197.5 3216.9 186.8 3216.9 170.5"/><rect x="100" y="2128.2" width="180.9" height="178.5" fill="#002147"/><g fill="none" stroke="#fff"><circle cx="228.9" cy="2175.8" r="36.6" stroke-width="1.5"/><circle cx="228.9" cy="2175.8" r="25.6" stroke-width="1.3"/></g><path id="oxr" fill="none" d="M214.8 2200.2A28.2 28.2 0 1 1 243.0 2200.2"/><text font-family="Liberation Sans" font-size="8.6" fill="#fff" letter-spacing="0.9"><textPath href="#oxr" startOffset="1">UNIVERSITY · OF · OXFORD</textPath></text><path fill="#fff" d="M215.4 2161.8L215.4 2155.8L218.2 2158.7L220.9 2154.8L223.7 2158.7L226.4 2155.8L226.4 2161.8Z"/><rect x="215.4" y="2162.6" width="11.0" height="1.6" fill="#fff"/><path fill="#fff" d="M231.4 2161.8L231.4 2155.8L234.2 2158.7L236.9 2154.8L239.7 2158.7L242.4 2155.8L242.4 2161.8Z"/><rect x="231.4" y="2162.6" width="11.0" height="1.6" fill="#fff"/><path fill="#fff" d="M223.4 2195.8L223.4 2189.8L226.2 2192.7L228.9 2188.8L231.7 2192.7L234.4 2189.8L234.4 2195.8Z"/><rect x="223.4" y="2196.6" width="11.0" height="1.6" fill="#fff"/><path fill="#fff" d="M212.9 2166.8h14.5v17h-14.5zM230.4 2166.8h14.5v17h-14.5z"/><path stroke="#002147" stroke-width="0.9" d="M215.9 2170.8h9M215.9 2174.8h9M215.9 2178.8h9M232.9 2170.8h9M232.9 2174.8h9M232.9 2178.8h9"/><path fill="#fff" d="M209.4 2167.8h2v15h-2zM246.4 2167.8h2v15h-2z"/><path fill="none" stroke="#fff" stroke-width="1.5" d="M224.9 2197.8C198.9 2191.8 206.9 2217.8 222.9 2209.8C234.9 2205.8 244.9 2207.8 252.9 2202.8"/><path fill="none" stroke="#fff" stroke-width="1.3" d="M216.9 2196.8C204.9 2197.8 210.9 2213.8 224.9 2206.8"/><path fill="#fff" d="M222.4 2212.8h13v6c0 4-3 6-6.5 8c-3.5-2-6.5-4-6.5-8z"/><path fill="#002147" d="M225.4 2214.8h7v4c0 2-2 3-3.5 4c-1.5-1-3.5-2-3.5-4z"/><path fill="#1d1d1b" d="M820.2 2171.3H926V2258C926 2278 900 2288 872.8 2298.6C845 2288 820.2 2278 820.2 2258Z"/><path fill="#e2231a" d="M821.3 2172.4H872.8V2222.4L821.3 2257.5Z"/><path fill="#5b93d3" d="M872.8 2172.4H924.9V2258.4L872.8 2222.4Z"/><g fill="#f2b705"><path d="M835.9 2175.7 L843.3 2173.9 L853.4 2174.8 L859.9 2178.5 L860.4 2185.9 L858.0 2190.5 L861.7 2195.1 L861.7 2202.5 L859.9 2208.0 L861.7 2211.7 L865.4 2215.4 L862.7 2219.1 L861.7 2224.7 L858.0 2228.4 L853.4 2227.4 L851.6 2222.8 L856.2 2220.1 L854.3 2215.4 L848.8 2213.6 L843.3 2215.4 L840.5 2220.1 L834.0 2222.8 L828.5 2220.1 L831.3 2215.4 L836.8 2213.6 L839.6 2209.9 L836.8 2205.3 L826.6 2206.2 L822.9 2203.4 L826.6 2199.7 L836.8 2199.7 L837.7 2195.1 L831.3 2190.5 L822.9 2186.8 L825.7 2182.2 L834.0 2184.9 L837.7 2183.1Z"/><path d="M859.9 2199.7 L865.4 2195.1 L863.6 2189.6 L866.4 2184.0 L870.1 2178.5 L871.0 2181.3 L868.2 2187.7 L869.1 2193.3 L865.4 2198.8 L861.7 2202.5Z"/><path d="M893.2 2175.7 L898.7 2174.8 L902.4 2177.6 L903.3 2183.1 L906.1 2187.7 L907.9 2179.4 L911.6 2177.6 L912.6 2182.2 L909.8 2187.7 L908.9 2195.1 L910.7 2200.7 L909.8 2208.0 L913.5 2211.7 L915.3 2217.3 L914.4 2224.7 L911.6 2230.2 L907.0 2233.0 L901.5 2233.0 L895.9 2230.2 L891.3 2224.7 L888.5 2217.3 L886.7 2209.9 L887.6 2202.5 L883.9 2198.8 L881.1 2195.1 L880.2 2184.0 L882.1 2176.6 L883.9 2183.1 L883.9 2193.3 L887.6 2195.1 L889.5 2187.7 L891.3 2183.1Z"/><path d="M913.5 2202.5 L916.3 2201.6 L919.0 2208.0 L922.3 2209.9 L919.0 2214.5 L916.3 2211.7Z"/></g><circle cx="909.3" cy="2219.1" r="2.2" fill="none" stroke="#5b93d3" stroke-width="1.2"/><path fill="#d99a0b" d="M842 2244h62v36h-62z"/><path fill="#fff" d="M846 2241.5c8-1 18-1 26 2v35c-8-2-18-2-26 0z M874 2243.5c8-3 18-3 26-2v35c-8-2-18-2-26 0z"/><path stroke="#222" stroke-width="0.8" d="M873 2243v36"/><g font-family="Liberation Serif" font-size="7" fill="#222"><text x="850" y="2256">PER</text><text x="879" y="2256">AD</text><text x="847" y="2269">ARDUA</text><text x="876" y="2269">ALTA</text></g><g stroke="#d99a0b" stroke-width="2.2"><path d="M829 2257h13M829 2268h13M904 2257h14M904 2268h14"/></g><rect x="1916.9" y="2164.2" width="141" height="141.5" fill="#2e2c5f"/><rect x="2057.9" y="2146" width="64" height="159.7" fill="#37d5ae"/><rect x="2121.9" y="2164.2" width="78" height="141.5" fill="#37d5ae"/><rect x="2121.9" y="2164.2" width="78" height="104.5" fill="#18998a"/><path fill="#fff" d="M1932.0 2179.9 L1948.9 2179.9 L1948.9 2213.2 C1948.9 2223.6 1971.8 2223.6 1971.8 2213.2 L1971.8 2179.9 L1987.7 2179.9 L1987.7 2218.4 C1983.2 2231.5 1936.1 2236.7 1932.0 2213.2 Z"/><path fill="#fff" d="M1987.7 2179.9 L2004.1 2179.9 L2004.1 2202.7 L2026.3 2179.9 L2043.0 2179.9 L2019.1 2207.3 L2043.0 2230.8 L2043.0 2234.7 L2026.3 2234.7 L2004.1 2211.9 L2004.1 2234.7 L1987.7 2234.7 Z"/><path fill="#fff" d="M1987.7 2218.4 L2004.1 2234.7 L1987.7 2234.7 Z"/><path fill="#fff" fill-rule="evenodd" d="M1932.0 2235.0 L1964.9 2235.0 C1993.6 2236.7 1993.6 2269.4 1974.0 2269.4 L1987.7 2286.3 L1987.7 2290.0 L1971.4 2290.0 L1955.7 2270.0 L1948.9 2270.0 L1948.9 2290.0 L1932.0 2290.0 Z M1948.9 2246.1 L1963.6 2246.1 C1975.3 2246.5 1975.3 2258.9 1963.6 2258.9 L1948.9 2258.9 Z"/><path fill="#fff" d="M1987.7 2235.0 L2043.0 2235.0 L2043.0 2246.1 L2023.7 2246.1 L2023.7 2278.8 L2043.0 2278.8 L2043.0 2290.0 L1987.7 2290.0 L1987.7 2278.8 L2007.0 2278.8 L2007.0 2246.1 L1987.7 2246.1 Z"/><path fill="#000" shape-rendering="crispEdges" d="M3081.00 2117.00h40.13v5.73h-40.13zM3138.33 2117.00h34.40v5.73h-34.40zM3178.46 2117.00h17.20v5.73h-17.20zM3207.13 2117.00h11.47v5.73h-11.47zM3230.06 2117.00h40.13v5.73h-40.13zM3081.00 2122.73h5.73v5.73h-5.73zM3115.40 2122.73h5.73v5.73h-5.73zM3149.80 2122.73h28.66v5.73h-28.66zM3184.19 2122.73h5.73v5.73h-5.73zM3201.39 2122.73h22.93v5.73h-22.93zM3230.06 2122.73h5.73v5.73h-5.73zM3264.46 2122.73h5.73v5.73h-5.73zM3081.00 2128.47h5.73v5.73h-5.73zM3092.47 2128.47h17.20v5.73h-17.20zM3115.40 2128.47h5.73v5.73h-5.73zM3132.60 2128.47h5.73v5.73h-5.73zM3144.06 2128.47h5.73v5.73h-5.73zM3155.53 2128.47h5.73v5.73h-5.73zM3166.99 2128.47h22.93v5.73h-22.93zM3195.66 2128.47h5.73v5.73h-5.73zM3212.86 2128.47h5.73v5.73h-5.73zM3230.06 2128.47h5.73v5.73h-5.73zM3241.52 2128.47h17.20v5.73h-17.20zM3264.46 2128.47h5.73v5.73h-5.73zM3081.00 2134.20h5.73v5.73h-5.73zM3092.47 2134.20h17.20v5.73h-17.20zM3115.40 2134.20h5.73v5.73h-5.73zM3132.60 2134.20h5.73v5.73h-5.73zM3149.80 2134.20h28.66v5.73h-28.66zM3184.19 2134.20h5.73v5.73h-5.73zM3207.13 2134.20h11.47v5.73h-11.47zM3230.06 2134.20h5.73v5.73h-5.73zM3241.52 2134.20h17.20v5.73h-17.20zM3264.46 2134.20h5.73v5.73h-5.73zM3081.00 2139.93h5.73v5.73h-5.73zM3092.47 2139.93h17.20v5.73h-17.20zM3115.40 2139.93h5.73v5.73h-5.73zM3138.33 2139.93h5.73v5.73h-5.73zM3155.53 2139.93h11.47v5.73h-11.47zM3184.19 2139.93h5.73v5.73h-5.73zM3212.86 2139.93h5.73v5.73h-5.73zM3230.06 2139.93h5.73v5.73h-5.73zM3241.52 2139.93h17.20v5.73h-17.20zM3264.46 2139.93h5.73v5.73h-5.73zM3081.00 2145.66h5.73v5.73h-5.73zM3115.40 2145.66h5.73v5.73h-5.73zM3126.86 2145.66h17.20v5.73h-17.20zM3149.80 2145.66h11.47v5.73h-11.47zM3166.99 2145.66h28.66v5.73h-28.66zM3230.06 2145.66h5.73v5.73h-5.73zM3264.46 2145.66h5.73v5.73h-5.73zM3081.00 2151.40h40.13v5.73h-40.13zM3126.86 2151.40h5.73v5.73h-5.73zM3138.33 2151.40h5.73v5.73h-5.73zM3149.80 2151.40h5.73v5.73h-5.73zM3161.26 2151.40h5.73v5.73h-5.73zM3172.73 2151.40h5.73v5.73h-5.73zM3184.19 2151.40h5.73v5.73h-5.73zM3195.66 2151.40h5.73v5.73h-5.73zM3207.13 2151.40h5.73v5.73h-5.73zM3218.59 2151.40h5.73v5.73h-5.73zM3230.06 2151.40h40.13v5.73h-40.13zM3132.60 2157.13h5.73v5.73h-5.73zM3166.99 2157.13h22.93v5.73h-22.93zM3195.66 2157.13h17.20v5.73h-17.20zM3081.00 2162.86h5.73v5.73h-5.73zM3098.20 2162.86h5.73v5.73h-5.73zM3109.66 2162.86h11.47v5.73h-11.47zM3126.86 2162.86h5.73v5.73h-5.73zM3138.33 2162.86h11.47v5.73h-11.47zM3155.53 2162.86h11.47v5.73h-11.47zM3189.93 2162.86h5.73v5.73h-5.73zM3201.39 2162.86h17.20v5.73h-17.20zM3224.32 2162.86h5.73v5.73h-5.73zM3235.79 2162.86h5.73v5.73h-5.73zM3081.00 2168.60h5.73v5.73h-5.73zM3092.47 2168.60h5.73v5.73h-5.73zM3103.93 2168.60h5.73v5.73h-5.73zM3121.13 2168.60h5.73v5.73h-5.73zM3149.80 2168.60h17.20v5.73h-17.20zM3172.73 2168.60h5.73v5.73h-5.73zM3195.66 2168.60h11.47v5.73h-11.47zM3218.59 2168.60h22.93v5.73h-22.93zM3258.72 2168.60h11.47v5.73h-11.47zM3109.66 2174.33h11.47v5.73h-11.47zM3126.86 2174.33h5.73v5.73h-5.73zM3138.33 2174.33h5.73v5.73h-5.73zM3155.53 2174.33h11.47v5.73h-11.47zM3172.73 2174.33h5.73v5.73h-5.73zM3184.19 2174.33h11.47v5.73h-11.47zM3201.39 2174.33h5.73v5.73h-5.73zM3218.59 2174.33h5.73v5.73h-5.73zM3235.79 2174.33h11.47v5.73h-11.47zM3252.99 2174.33h5.73v5.73h-5.73zM3264.46 2174.33h5.73v5.73h-5.73zM3092.47 2180.06h11.47v5.73h-11.47zM3121.13 2180.06h17.20v5.73h-17.20zM3144.06 2180.06h17.20v5.73h-17.20zM3166.99 2180.06h5.73v5.73h-5.73zM3184.19 2180.06h28.66v5.73h-28.66zM3230.06 2180.06h5.73v5.73h-5.73zM3241.52 2180.06h11.47v5.73h-11.47zM3258.72 2180.06h5.73v5.73h-5.73zM3081.00 2185.80h5.73v5.73h-5.73zM3092.47 2185.80h11.47v5.73h-11.47zM3109.66 2185.80h17.20v5.73h-17.20zM3132.60 2185.80h17.20v5.73h-17.20zM3161.26 2185.80h5.73v5.73h-5.73zM3172.73 2185.80h11.47v5.73h-11.47zM3195.66 2185.80h11.47v5.73h-11.47zM3212.86 2185.80h5.73v5.73h-5.73zM3224.32 2185.80h11.47v5.73h-11.47zM3241.52 2185.80h11.47v5.73h-11.47zM3258.72 2185.80h5.73v5.73h-5.73zM3081.00 2191.53h11.47v5.73h-11.47zM3098.20 2191.53h5.73v5.73h-5.73zM3126.86 2191.53h11.47v5.73h-11.47zM3149.80 2191.53h22.93v5.73h-22.93zM3178.46 2191.53h17.20v5.73h-17.20zM3218.59 2191.53h5.73v5.73h-5.73zM3230.06 2191.53h17.20v5.73h-17.20zM3258.72 2191.53h11.47v5.73h-11.47zM3081.00 2197.26h17.20v5.73h-17.20zM3103.93 2197.26h5.73v5.73h-5.73zM3115.40 2197.26h5.73v5.73h-5.73zM3138.33 2197.26h11.47v5.73h-11.47zM3161.26 2197.26h17.20v5.73h-17.20zM3184.19 2197.26h5.73v5.73h-5.73zM3195.66 2197.26h11.47v5.73h-11.47zM3212.86 2197.26h22.93v5.73h-22.93zM3241.52 2197.26h5.73v5.73h-5.73zM3252.99 2197.26h11.47v5.73h-11.47zM3086.73 2202.99h5.73v5.73h-5.73zM3103.93 2202.99h11.47v5.73h-11.47zM3121.13 2202.99h5.73v5.73h-5.73zM3144.06 2202.99h5.73v5.73h-5.73zM3172.73 2202.99h17.20v5.73h-17.20zM3201.39 2202.99h5.73v5.73h-5.73zM3212.86 2202.99h11.47v5.73h-11.47zM3230.06 2202.99h5.73v5.73h-5.73zM3241.52 2202.99h5.73v5.73h-5.73zM3258.72 2202.99h5.73v5.73h-5.73zM3092.47 2208.73h5.73v5.73h-5.73zM3115.40 2208.73h17.20v5.73h-17.20zM3155.53 2208.73h5.73v5.73h-5.73zM3166.99 2208.73h5.73v5.73h-5.73zM3178.46 2208.73h5.73v5.73h-5.73zM3189.93 2208.73h22.93v5.73h-22.93zM3218.59 2208.73h5.73v5.73h-5.73zM3230.06 2208.73h5.73v5.73h-5.73zM3241.52 2208.73h11.47v5.73h-11.47zM3258.72 2208.73h5.73v5.73h-5.73zM3086.73 2214.46h5.73v5.73h-5.73zM3103.93 2214.46h5.73v5.73h-5.73zM3121.13 2214.46h22.93v5.73h-22.93zM3155.53 2214.46h11.47v5.73h-11.47zM3172.73 2214.46h5.73v5.73h-5.73zM3201.39 2214.46h5.73v5.73h-5.73zM3212.86 2214.46h17.20v5.73h-17.20zM3235.79 2214.46h5.73v5.73h-5.73zM3247.26 2214.46h5.73v5.73h-5.73zM3258.72 2214.46h5.73v5.73h-5.73zM3081.00 2220.19h5.73v5.73h-5.73zM3092.47 2220.19h5.73v5.73h-5.73zM3103.93 2220.19h5.73v5.73h-5.73zM3115.40 2220.19h5.73v5.73h-5.73zM3144.06 2220.19h11.47v5.73h-11.47zM3161.26 2220.19h5.73v5.73h-5.73zM3184.19 2220.19h5.73v5.73h-5.73zM3218.59 2220.19h5.73v5.73h-5.73zM3230.06 2220.19h5.73v5.73h-5.73zM3252.99 2220.19h17.20v5.73h-17.20zM3081.00 2225.93h17.20v5.73h-17.20zM3144.06 2225.93h5.73v5.73h-5.73zM3155.53 2225.93h11.47v5.73h-11.47zM3178.46 2225.93h5.73v5.73h-5.73zM3189.93 2225.93h40.13v5.73h-40.13zM3235.79 2225.93h5.73v5.73h-5.73zM3258.72 2225.93h11.47v5.73h-11.47zM3081.00 2231.66h5.73v5.73h-5.73zM3098.20 2231.66h5.73v5.73h-5.73zM3109.66 2231.66h11.47v5.73h-11.47zM3126.86 2231.66h5.73v5.73h-5.73zM3144.06 2231.66h11.47v5.73h-11.47zM3161.26 2231.66h5.73v5.73h-5.73zM3172.73 2231.66h5.73v5.73h-5.73zM3212.86 2231.66h5.73v5.73h-5.73zM3224.32 2231.66h5.73v5.73h-5.73zM3258.72 2231.66h11.47v5.73h-11.47zM3086.73 2237.39h5.73v5.73h-5.73zM3098.20 2237.39h17.20v5.73h-17.20zM3149.80 2237.39h22.93v5.73h-22.93zM3178.46 2237.39h11.47v5.73h-11.47zM3195.66 2237.39h11.47v5.73h-11.47zM3218.59 2237.39h17.20v5.73h-17.20zM3258.72 2237.39h11.47v5.73h-11.47zM3081.00 2243.13h11.47v5.73h-11.47zM3103.93 2243.13h5.73v5.73h-5.73zM3115.40 2243.13h17.20v5.73h-17.20zM3138.33 2243.13h5.73v5.73h-5.73zM3149.80 2243.13h11.47v5.73h-11.47zM3178.46 2243.13h28.66v5.73h-28.66zM3230.06 2243.13h11.47v5.73h-11.47zM3247.26 2243.13h11.47v5.73h-11.47zM3264.46 2243.13h5.73v5.73h-5.73zM3086.73 2248.86h11.47v5.73h-11.47zM3109.66 2248.86h5.73v5.73h-5.73zM3121.13 2248.86h5.73v5.73h-5.73zM3138.33 2248.86h17.20v5.73h-17.20zM3161.26 2248.86h5.73v5.73h-5.73zM3184.19 2248.86h5.73v5.73h-5.73zM3201.39 2248.86h17.20v5.73h-17.20zM3235.79 2248.86h5.73v5.73h-5.73zM3247.26 2248.86h5.73v5.73h-5.73zM3258.72 2248.86h5.73v5.73h-5.73zM3081.00 2254.59h5.73v5.73h-5.73zM3092.47 2254.59h5.73v5.73h-5.73zM3103.93 2254.59h17.20v5.73h-17.20zM3126.86 2254.59h17.20v5.73h-17.20zM3149.80 2254.59h17.20v5.73h-17.20zM3178.46 2254.59h5.73v5.73h-5.73zM3189.93 2254.59h17.20v5.73h-17.20zM3218.59 2254.59h34.40v5.73h-34.40zM3126.86 2260.32h5.73v5.73h-5.73zM3144.06 2260.32h5.73v5.73h-5.73zM3161.26 2260.32h5.73v5.73h-5.73zM3178.46 2260.32h5.73v5.73h-5.73zM3189.93 2260.32h5.73v5.73h-5.73zM3207.13 2260.32h5.73v5.73h-5.73zM3218.59 2260.32h5.73v5.73h-5.73zM3241.52 2260.32h11.47v5.73h-11.47zM3264.46 2260.32h5.73v5.73h-5.73zM3081.00 2266.06h40.13v5.73h-40.13zM3132.60 2266.06h34.40v5.73h-34.40zM3172.73 2266.06h5.73v5.73h-5.73zM3184.19 2266.06h5.73v5.73h-5.73zM3195.66 2266.06h5.73v5.73h-5.73zM3207.13 2266.06h5.73v5.73h-5.73zM3218.59 2266.06h5.73v5.73h-5.73zM3230.06 2266.06h5.73v5.73h-5.73zM3241.52 2266.06h17.20v5.73h-17.20zM3081.00 2271.79h5.73v5.73h-5.73zM3115.40 2271.79h5.73v5.73h-5.73zM3126.86 2271.79h22.93v5.73h-22.93zM3161.26 2271.79h51.60v5.73h-51.60zM3218.59 2271.79h5.73v5.73h-5.73zM3241.52 2271.79h5.73v5.73h-5.73zM3264.46 2271.79h5.73v5.73h-5.73zM3081.00 2277.52h5.73v5.73h-5.73zM3092.47 2277.52h17.20v5.73h-17.20zM3115.40 2277.52h5.73v5.73h-5.73zM3132.60 2277.52h5.73v5.73h-5.73zM3172.73 2277.52h17.20v5.73h-17.20zM3195.66 2277.52h17.20v5.73h-17.20zM3218.59 2277.52h34.40v5.73h-34.40zM3258.72 2277.52h11.47v5.73h-11.47zM3081.00 2283.26h5.73v5.73h-5.73zM3092.47 2283.26h17.20v5.73h-17.20zM3115.40 2283.26h5.73v5.73h-5.73zM3126.86 2283.26h22.93v5.73h-22.93zM3155.53 2283.26h11.47v5.73h-11.47zM3184.19 2283.26h5.73v5.73h-5.73zM3212.86 2283.26h5.73v5.73h-5.73zM3230.06 2283.26h5.73v5.73h-5.73zM3241.52 2283.26h5.73v5.73h-5.73zM3081.00 2288.99h5.73v5.73h-5.73zM3092.47 2288.99h17.20v5.73h-17.20zM3115.40 2288.99h5.73v5.73h-5.73zM3132.60 2288.99h5.73v5.73h-5.73zM3149.80 2288.99h17.20v5.73h-17.20zM3172.73 2288.99h5.73v5.73h-5.73zM3201.39 2288.99h5.73v5.73h-5.73zM3241.52 2288.99h5.73v5.73h-5.73zM3264.46 2288.99h5.73v5.73h-5.73zM3081.00 2294.72h5.73v5.73h-5.73zM3115.40 2294.72h5.73v5.73h-5.73zM3172.73 2294.72h34.40v5.73h-34.40zM3218.59 2294.72h5.73v5.73h-5.73zM3081.00 2300.46h40.13v5.73h-40.13zM3126.86 2300.46h5.73v5.73h-5.73zM3138.33 2300.46h5.73v5.73h-5.73zM3149.80 2300.46h11.47v5.73h-11.47zM3172.73 2300.46h5.73v5.73h-5.73zM3189.93 2300.46h5.73v5.73h-5.73zM3201.39 2300.46h5.73v5.73h-5.73zM3218.59 2300.46h5.73v5.73h-5.73zM3230.06 2300.46h5.73v5.73h-5.73zM3241.52 2300.46h11.47v5.73h-11.47zM3258.72 2300.46h5.73v5.73h-5.73z"/><g fill="#231f20"><circle cx="153.8" cy="404.2" r="4.8"/><circle cx="153.8" cy="486.7" r="4.8"/><circle cx="153.8" cy="715.7" r="4.8"/><circle cx="153.8" cy="1647.4" r="4.8"/><circle cx="153.8" cy="1730.3" r="4.8"/><circle cx="153.8" cy="1883.7" r="4.8"/><circle cx="153.8" cy="1966.1" r="4.8"/><circle cx="153.8" cy="2008.2" r="4.8"/><circle cx="2311.0" cy="935.2" r="4.8"/><circle cx="2311.0" cy="1040.7" r="4.8"/><circle cx="2311.0" cy="1148.3" r="4.8"/><circle cx="2311.0" cy="1253.7" r="4.8"/><circle cx="2311.0" cy="1360.7" r="4.8"/><circle cx="2311.0" cy="1658.7" r="4.8"/><circle cx="2311.0" cy="1764.7" r="4.8"/><circle cx="2311.0" cy="1870.4" r="4.8"/><circle cx="2311.0" cy="1976.2" r="4.8"/></g></svg><div class="a" id="t1" style="left:99.5px;top:315.9px;font-size:48.0px;font-family:'Liberation Sans', sans-serif;font-weight:bold;color:#fff;transform-origin:left;transform:scaleX(0.9646);">Problem Setting</div><div class="a" id="t2" style="left:99.5px;top:1006.4px;font-size:48.0px;font-family:'Liberation Sans', sans-serif;font-weight:bold;color:#fff;transform-origin:left;transform:scaleX(0.9498);">Neural Abstraction Synthesis using CEGIS</div><div class="a" id="t3" style="left:1354.6px;top:315.4px;font-size:48.0px;font-family:'Liberation Sans', sans-serif;font-weight:bold;color:#fff;transform-origin:left;transform:scaleX(0.9775);">Definition: Neural Abstraction</div><div class="a" id="t4" style="left:2256.0px;top:315.4px;font-size:48.0px;font-family:'Liberation Sans', sans-serif;font-weight:bold;color:#fff;transform-origin:left;transform:scaleX(0.9620);">Casting Abstractions as Hybrid Automata</div><div class="a" id="t5" style="left:2256.0px;top:1567.0px;font-size:52.0px;font-family:'Liberation Serif', serif;color:#fff;letter-spacing:1.786px;">Conclusions</div><div class="a" id="t6" style="left:1338.0px;top:34.4px;font-size:84.0px;font-family:'Liberation Sans', sans-serif;font-weight:bold;color:#231f20;transform-origin:left;transform:scaleX(0.9106);">Neural Abstractions</div><div class="a" id="t7" style="left:1151.0px;top:169.6px;font-size:50.0px;font-family:'Liberation Serif', serif;letter-spacing:0.324px;">Alessandro Abate<span class="sp2">†</span>, <b>Alec Edwards</b><span class="sp2">†</span>, Mirco Giacobbe<span class="sp2">*</span></div><div class="a" id="t8" style="left:1382.0px;top:248.4px;font-size:27.0px;font-family:'Liberation Serif', serif;letter-spacing:2.091px;"><span class="sp2" style="font-style:normal">†</span><i>University of Oxford, </i><span class="sp2">*</span><i>University of Birmingham</i></div><div class="a" id="t9" style="left:184.0px;top:384.0px;font-size:34.0px;font-family:'Liberation Serif', serif;letter-spacing:1.083px;">We focus on dynamical systems modeled as coupled ODEs: <i>ẋ</i> =</div><div class="a" id="t10" style="left:184.0px;top:424.5px;font-size:34.0px;font-family:'Liberation Serif', serif;letter-spacing:2.385px;"><i>f</i>(<i>x</i>), <i>x</i> <svg class="elm" viewBox="0 0 10 12"><path d="M9 1.6H5.6A4.4 4.4 0 0 0 5.6 10.4H9M1.2 6H8.6" fill="none" stroke="currentColor" stroke-width="1.15"/></svg> <i>X</i> <svg class="elm" viewBox="0 0 10 12"><path d="M9 1.6H5.6A4.4 4.4 0 0 0 5.6 10.4H9" fill="none" stroke="currentColor" stroke-width="1.15"/></svg> R<span class="sp"><i>n</i></span>, <i>f</i>(<i>x</i>) is the concrete model</div><div class="a" id="t11" style="left:184.0px;top:466.5px;font-size:34.0px;font-family:'Liberation Serif', serif;letter-spacing:1.363px;">Safety verification: initial states <i>X</i><span class="sb">0</span>, bad states <i>X</i><span class="sb"><i>B</i></span>. Ensure that</div><div class="a" id="t12" style="left:184.0px;top:506.8px;font-size:34.0px;font-family:'Liberation Serif', serif;letter-spacing:1.625px;">no trajectory starting in <i>X</i><span class="sb">0</span> enters <i>X</i><span class="sb"><i>B</i></span></div><div class="a" id="t13" style="left:220.0px;top:558.5px;font-size:34.0px;font-family:'Liberation Serif', serif;">–</div><div class="a" id="t14" style="left:257.5px;top:558.5px;font-size:34.0px;font-family:'Liberation Serif', serif;letter-spacing:0.843px;">Unbounded Time: Lyapunov-like certificates</div><div class="a" id="t15" style="left:220.0px;top:601.5px;font-size:34.0px;font-family:'Liberation Serif', serif;">–</div><div class="a" id="t16" style="left:257.5px;top:601.5px;font-size:34.0px;font-family:'Liberation Serif', serif;letter-spacing:1.209px;"><b>Bounded Time</b>: robust integration, flowpipe propagation,</div><div class="a" id="t17" style="left:257.5px;top:642.5px;font-size:34.0px;font-family:'Liberation Serif', serif;letter-spacing:2.017px;"><b>abstraction</b></div><div class="a" id="t18" style="left:184.0px;top:695.5px;font-size:34.0px;font-family:'Liberation Serif', serif;letter-spacing:1.243px;">In general: nonlinearity is hard - especially non-Lipschitz con-</div><div class="a" id="t19" style="left:184.0px;top:735.5px;font-size:34.0px;font-family:'Liberation Serif', serif;letter-spacing:0.768px;">tinuous.</div><div class="a" id="t20" style="left:152.0px;top:833.5px;font-size:34.0px;font-family:'Liberation Serif', serif;letter-spacing:1.883px;">The concrete model</div><div class="a" id="t21" style="left:152.0px;top:872.5px;font-size:34.0px;font-family:'Liberation Serif', serif;letter-spacing:1.056px;">used in this poster:</div><div class="a" id="t22" style="left:600.5px;top:857.5px;font-size:34.0px;font-family:'Liberation Serif', serif;letter-spacing:3.925px;"><i>f</i>(<i>x</i>) =</div><div class="a" id="t23" style="left:735.5px;top:808.5px;font-size:34.0px;font-family:'Liberation Serif', serif;"><i>ẋ</i></div><div class="a" id="t24" style="left:798.0px;top:808.5px;font-size:34.0px;font-family:'Liberation Serif', serif;letter-spacing:3.004px;">= <i>x</i><span class="sp">2</span> + <i>y</i></div><div class="a" id="t25" style="left:735.5px;top:857.5px;font-size:34.0px;font-family:'Liberation Serif', serif;"><i>ẏ</i></div><div class="a" id="t26" style="left:798.0px;top:857.5px;font-size:34.0px;font-family:'Liberation Serif', serif;letter-spacing:3.130px;">= <span class="cbrt"><span class="idx">3</span>√<span class="ovl"><i>x</i><span class="sp">2</span></span></span> − <i>x</i>,</div><div class="a" id="t27" style="left:735.5px;top:904.5px;font-size:34.0px;font-family:'Liberation Serif', serif;"><i>X</i></div><div class="a" id="t28" style="left:798.0px;top:904.5px;font-size:34.0px;font-family:'Liberation Serif', serif;letter-spacing:0.914px;">:= [−1, 1]<span class="sp"><i>n</i></span></div><div class="a" id="t29" style="left:100.7px;top:1077.0px;font-size:34.0px;font-family:'Liberation Serif', serif;letter-spacing:1.033px;">Counterexample Guided Inductive Synthesis (CEGIS) is an inductive</div><div class="a" id="t30" style="left:100.7px;top:1116.8px;font-size:34.0px;font-family:'Liberation Serif', serif;letter-spacing:1.255px;">synthesis algorithm that iteratively refines a candidate solution until</div><div class="a" id="t31" style="left:100.7px;top:1156.5px;font-size:34.0px;font-family:'Liberation Serif', serif;letter-spacing:0.630px;">it satisfies a given specification.</div><div class="a" id="t32" style="left:351.0px;top:1224.2px;font-size:26.0px;font-family:'Liberation Serif', serif;letter-spacing:1.708px;">Candidate <i>N</i>, bound <i>ϵ</i></div><div class="a" id="t33" style="left:275.6px;top:1340.2px;font-size:26.0px;font-family:'Liberation Serif', serif;transform:translateX(-50%);"><b>Learner</b></div><div class="a" id="t34" style="left:134.0px;top:1371.2px;font-size:26.0px;font-family:'Liberation Serif', serif;letter-spacing:2.414px;">min <span style="font-size:1.25em;vertical-align:-0.1em">∑</span><span class="sb"><i>s</i><svg class="elm" viewBox="0 0 10 12"><path d="M9 1.6H5.6A4.4 4.4 0 0 0 5.6 10.4H9M1.2 6H8.6" fill="none" stroke="currentColor" stroke-width="1.15"/></svg><i>S</i></span> ||<i>f</i>(<i>s</i>) − <i>N</i>(<i>s</i>)||</div><div class="a" id="t35" style="left:645.5px;top:1340.2px;font-size:26.0px;font-family:'Liberation Serif', serif;transform:translateX(-50%);"><b>Certifier</b></div><div class="a" id="t36" style="left:485.5px;top:1371.2px;font-size:26.0px;font-family:'Liberation Serif', serif;letter-spacing:2.441px;"><span class="mir">E</span><i>x</i> <svg class="elm" viewBox="0 0 10 12"><path d="M9 1.6H5.6A4.4 4.4 0 0 0 5.6 10.4H9M1.2 6H8.6" fill="none" stroke="currentColor" stroke-width="1.15"/></svg> <i>X</i> : ||<i>f</i>(<i>x</i>) − <i>N</i>(<i>x</i>)|| &gt; <i>ϵ</i></div><div class="a" id="t37" style="left:939.0px;top:1326.2px;font-size:26.0px;font-family:'Liberation Serif', serif;transform:translateX(-50%);">Neural</div><div class="a" id="t38" style="left:939.0px;top:1356.9px;font-size:26.0px;font-family:'Liberation Serif', serif;transform:translateX(-50%);">abstraction</div><div class="a" id="t39" style="left:939.0px;top:1389.2px;font-size:26.0px;font-family:'Liberation Serif', serif;transform:translateX(-50%);"><i>A</i> = (<i>N</i>, <i>ϵ</i>)</div><div class="a" id="t40" style="left:364.7px;top:1468.2px;font-size:26.0px;font-family:'Liberation Serif', serif;letter-spacing:0.961px;">Counterexample <i>cex</i></div><div class="a" id="t41" style="left:100.7px;top:1560.1px;font-size:34.0px;font-family:'Liberation Serif', serif;letter-spacing:1.508px;"><b>Learner</b></div><div class="a" id="t42" style="left:184.0px;top:1627.2px;font-size:34.0px;font-family:'Liberation Serif', serif;letter-spacing:1.139px;">A neural network trained using gradient descent over a data set</div><div class="a" id="t43" style="left:184.0px;top:1667.0px;font-size:34.0px;font-family:'Liberation Serif', serif;letter-spacing:1.443px;"><i>S</i>, sampled over the domain <i>X</i></div><div class="a" id="t44" style="left:184.0px;top:1710.1px;font-size:34.0px;font-family:'Liberation Serif', serif;letter-spacing:0.994px;">Minimise the 2-norm error between net and concrete dynamics</div><div class="a" id="t45" style="left:100.7px;top:1796.5px;font-size:34.0px;font-family:'Liberation Serif', serif;letter-spacing:1.566px;"><b>Certifier</b></div><div class="a" id="t46" style="left:184.0px;top:1863.5px;font-size:34.0px;font-family:'Liberation Serif', serif;letter-spacing:0.998px;">SMT-solver that checks soundly if an error bound holds using</div><div class="a" id="t47" style="left:184.0px;top:1902.5px;font-size:34.0px;font-family:'Liberation Serif', serif;letter-spacing:0.492px;">symbolic reasoning</div><div class="a" id="t48" style="left:184.0px;top:1945.9px;font-size:34.0px;font-family:'Liberation Serif', serif;letter-spacing:1.530px;">Estimate the error bound <i>ϵ</i> using data set <i>S</i></div><div class="a" id="t49" style="left:184.0px;top:1988.0px;font-size:34.0px;font-family:'Liberation Serif', serif;letter-spacing:1.289px;">If bound invalid, add counterexample to data set and return to</div><div class="a" id="t50" style="left:184.0px;top:2028.3px;font-size:34.0px;font-family:'Liberation Serif', serif;letter-spacing:1.081px;"><i>learner</i>. If valid, return abstraction</div><div class="a" id="t51" style="left:1179.2px;top:384.7px;font-size:34.0px;font-family:'Liberation Serif', serif;letter-spacing:2.154px;">A neural abstraction <i>A</i> is a neural network <i>N</i>(<i>x</i>) interpreted as an</div><div class="a" id="t52" style="left:1179.2px;top:425.2px;font-size:34.0px;font-family:'Liberation Serif', serif;letter-spacing:1.645px;">ODE and some error bound <i>ϵ</i>, relative to a concrete model <i>f</i>(<i>x</i>) and</div><div class="a" id="t53" style="left:1179.2px;top:463.8px;font-size:34.0px;font-family:'Liberation Serif', serif;letter-spacing:1.402px;">domain of interest <i>X</i>, such that:</div><div class="a" id="t54" style="left:1479.0px;top:538.1px;font-size:34.0px;font-family:'Liberation Serif', serif;letter-spacing:3.639px;"><span class="rot">A</span><i>x</i> <svg class="elm" viewBox="0 0 10 12"><path d="M9 1.6H5.6A4.4 4.4 0 0 0 5.6 10.4H9M1.2 6H8.6" fill="none" stroke="currentColor" stroke-width="1.15"/></svg> <i>X</i>: <svg class="nrm" viewBox="0 0 4 20" preserveAspectRatio="none"><path d="M1 0V20M3 0V20" stroke="currentColor" stroke-width="0.85"/></svg><i>f</i>(<i>x</i>) − <i>N</i>(<i>x</i>)<svg class="nrm" viewBox="0 0 4 20" preserveAspectRatio="none"><path d="M1 0V20M3 0V20" stroke="currentColor" stroke-width="0.85"/></svg> ≤ <i>ϵ</i>.</div><div class="a" id="t55" style="left:2151.0px;top:538.1px;font-size:34.0px;font-family:'Liberation Serif', serif;letter-spacing:-0.128px;">(1)</div><div class="a" id="t56" style="left:1179.2px;top:610.5px;font-size:34.0px;font-family:'Liberation Serif', serif;letter-spacing:1.088px;">A neural abstraction has dynamics given by:</div><div class="a" id="t57" style="left:1434.6px;top:682.5px;font-size:34.0px;font-family:'Liberation Serif', serif;letter-spacing:2.778px;"><i>ẋ</i> = <i>N</i>(<i>x</i>) + <i>d</i>,&nbsp;&nbsp;&nbsp;&nbsp;<svg class="nrm" viewBox="0 0 4 20" preserveAspectRatio="none"><path d="M1 0V20M3 0V20" stroke="currentColor" stroke-width="0.85"/></svg><i>d</i><svg class="nrm" viewBox="0 0 4 20" preserveAspectRatio="none"><path d="M1 0V20M3 0V20" stroke="currentColor" stroke-width="0.85"/></svg> ≤ <i>ϵ</i>,&nbsp;&nbsp;&nbsp;&nbsp;<i>x</i> <svg class="elm" viewBox="0 0 10 12"><path d="M9 1.6H5.6A4.4 4.4 0 0 0 5.6 10.4H9M1.2 6H8.6" fill="none" stroke="currentColor" stroke-width="1.15"/></svg> <i>X</i>.</div><div class="a" id="t58" style="left:1179.2px;top:756.3px;font-size:34.0px;font-family:'Liberation Serif', serif;letter-spacing:0.812px;">We interpret <i>d</i> as bounded non-determinism. Neural abstractions over-</div><div class="a" id="t59" style="left:1179.2px;top:796.8px;font-size:34.0px;font-family:'Liberation Serif', serif;letter-spacing:1.063px;">approximate the concrete dynamics <i>f</i>(<i>x</i>). If <i>A</i> is <i>safe</i>, then <i>f</i>(<i>x</i>) is <i>safe</i>.</div><div class="a" id="t60" style="left:1269.0px;top:900.9px;font-size:24.0px;font-family:'Liberation Serif', serif;letter-spacing:1.503px;">Concrete nonlinear system</div><div class="a" id="t61" style="left:1643.0px;top:1061.9px;font-size:24.0px;font-family:'Liberation Serif', serif;letter-spacing:1.602px;">Abstraction</div><div class="a" id="t62" style="left:1658.0px;top:1090.9px;font-size:24.0px;font-family:'Liberation Serif', serif;letter-spacing:1.373px;">synthesis</div><div class="a" id="t63" style="left:1888.0px;top:950.4px;font-size:24.0px;font-family:'Liberation Serif', serif;letter-spacing:1.671px;">Neural abstraction</div><div class="a" id="t64" style="left:1966.0px;top:1008.5px;font-size:24.0px;font-family:'Liberation Serif', serif;letter-spacing:1.448px;">ReLU</div><div class="a" id="t65" style="left:2032.0px;top:1287.9px;font-size:24.0px;font-family:'Liberation Serif', serif;letter-spacing:1.232px;">Model</div><div class="a" id="t66" style="left:2007.0px;top:1318.9px;font-size:24.0px;font-family:'Liberation Serif', serif;letter-spacing:1.569px;">translation</div><div class="a" id="t67" style="left:1700.6px;top:1529.6px;font-size:24.0px;font-family:'Liberation Serif', serif;letter-spacing:0.918px;">Safety</div><div class="a" id="t68" style="left:1674.0px;top:1559.9px;font-size:24.0px;font-family:'Liberation Serif', serif;letter-spacing:0.943px;">verification</div><div class="a" id="t69" style="left:1288.0px;top:1805.9px;font-size:24.0px;font-family:'Liberation Serif', serif;letter-spacing:1.457px;">Flowpipe propagation</div><div class="a" id="t70" style="left:1842.0px;top:1776.9px;font-size:24.0px;font-family:'Liberation Serif', serif;letter-spacing:1.780px;">Abstract hybrid automaton</div><div class="a" id="t71" style="left:1179.4px;top:1863.0px;font-size:30.5px;font-family:'Liberation Serif', serif;letter-spacing:1.735px;"><b>Figure 1:</b>&nbsp; Overview of the workflow for safety verification using neural</div><div class="a" id="t72" style="left:1179.4px;top:1899.9px;font-size:30.5px;font-family:'Liberation Serif', serif;letter-spacing:2.164px;">abstractions. First, we train a ReLU network to approximate a dynami-</div><div class="a" id="t73" style="left:1179.4px;top:1936.8px;font-size:30.5px;font-family:'Liberation Serif', serif;letter-spacing:1.832px;">cal model that is not locally Lipschitz continuous and bound the error to</div><div class="a" id="t74" style="left:1179.4px;top:1973.8px;font-size:30.5px;font-family:'Liberation Serif', serif;letter-spacing:1.874px;">construct a formal abstraction. We then cast this as an equivalent hybrid</div><div class="a" id="t75" style="left:1179.4px;top:2010.7px;font-size:30.5px;font-family:'Liberation Serif', serif;letter-spacing:1.047px;">automaton with affine dynamics, before performing safety verification using</div><div class="a" id="t76" style="left:1179.4px;top:2045.3px;font-size:30.5px;font-family:'Liberation Serif', serif;letter-spacing:1.179px;">SpaceEx.</div><div class="a" id="t77" style="left:2259.0px;top:807.5px;font-size:30.5px;font-family:'Liberation Serif', serif;letter-spacing:1.797px;"><b>Figure 2:</b>&nbsp; A Hybrid Automaton induced by a polyhedral state space par-</div><div class="a" id="t78" style="left:2259.0px;top:844.0px;font-size:30.5px;font-family:'Liberation Serif', serif;letter-spacing:1.203px;">titioning</div><div class="a" id="t79" style="left:2341.5px;top:915.0px;font-size:34.0px;font-family:'Liberation Serif', serif;letter-spacing:0.462px;">Consider ReLU networks: each ReLU is associated with two half-</div><div class="a" id="t80" style="left:2341.5px;top:955.0px;font-size:34.0px;font-family:'Liberation Serif', serif;letter-spacing:0.383px;">spaces: ‘on’ and ‘off’</div><div class="a" id="t81" style="left:2341.5px;top:1020.5px;font-size:34.0px;font-family:'Liberation Serif', serif;letter-spacing:0.477px;">Each neuron configuration gives an intersection of halfspaces&nbsp; <svg class="impl" viewBox="0 0 60 20" width="44" height="15"><path d="M2 6H50M2 14H50M42 0L56 10L42 20" fill="none" stroke="#231f20" stroke-width="2"/></svg></div><div class="a" id="t82" style="left:2341.5px;top:1060.5px;font-size:34.0px;font-family:'Liberation Serif', serif;letter-spacing:1.043px;">polyhedral partitioning</div><div class="a" id="t83" style="left:2341.5px;top:1128.1px;font-size:34.0px;font-family:'Liberation Serif', serif;letter-spacing:1.303px;">We can interpret the partitioned domain as a hybrid automaton</div><div class="a" id="t84" style="left:2341.5px;top:1167.5px;font-size:34.0px;font-family:'Liberation Serif', serif;letter-spacing:0.688px;">with affine dynamics</div><div class="a" id="t85" style="left:2341.5px;top:1233.5px;font-size:34.0px;font-family:'Liberation Serif', serif;letter-spacing:0.535px;">We can perform this cast efficiently (see paper) to utilise state-of-</div><div class="a" id="t86" style="left:2341.5px;top:1273.5px;font-size:34.0px;font-family:'Liberation Serif', serif;letter-spacing:0.702px;">the-art tools for safety verification of hybrid automata: SpaceEx<span class="sp">1</span></div><div class="a" id="t87" style="left:2341.5px;top:1340.5px;font-size:34.0px;font-family:'Liberation Serif', serif;letter-spacing:1.004px;">SpaceEx is specialised at flowpipe propagation for hybrid mod-</div><div class="a" id="t88" style="left:2341.5px;top:1379.5px;font-size:34.0px;font-family:'Liberation Serif', serif;letter-spacing:0.531px;">els with affine flows and non-determinism, enabling safety verifi-</div><div class="a" id="t89" style="left:2341.5px;top:1419.5px;font-size:34.0px;font-family:'Liberation Serif', serif;letter-spacing:0.905px;">caiton of the concrete model</div><div class="a" id="t90" style="left:2311.0px;top:1478.4px;font-size:27.0px;font-family:'Liberation Serif', serif;letter-spacing:1.547px;"><span class="sp">1</span>Frehse, et al.: SpaceEx: scalable verification of hybrid systems. CAV 2011</div><div class="a" id="t91" style="left:2341.5px;top:1638.5px;font-size:34.0px;font-family:'Liberation Serif', serif;letter-spacing:0.819px;">Neural abstractions are neural ODEs plus a bounded disturbance</div><div class="a" id="t92" style="left:2341.5px;top:1678.5px;font-size:34.0px;font-family:'Liberation Serif', serif;letter-spacing:0.851px;">representing additive non-determinism</div><div class="a" id="t93" style="left:2341.5px;top:1744.5px;font-size:34.0px;font-family:'Liberation Serif', serif;letter-spacing:1.323px;">They be used to verify safety of nonlinear systems, even if the</div><div class="a" id="t94" style="left:2341.5px;top:1784.5px;font-size:34.0px;font-family:'Liberation Serif', serif;letter-spacing:0.829px;">dynamics are not locally Lipschitz continuous</div><div class="a" id="t95" style="left:2341.5px;top:1850.2px;font-size:34.0px;font-family:'Liberation Serif', serif;letter-spacing:1.617px;">Please read our paper <i>Neural Abstractions</i> for further details,</div><div class="a" id="t96" style="left:2341.5px;top:1890.1px;font-size:34.0px;font-family:'Liberation Serif', serif;letter-spacing:0.993px;">proofs and experimental results</div><div class="a" id="t97" style="left:2341.5px;top:1956.0px;font-size:34.0px;font-family:'Liberation Serif', serif;letter-spacing:0.510px;">Contact: <i>alec.edwards@cs.ox.ac.uk</i></div><div class="a" id="t98" style="left:2445.0px;top:398.2px;font-size:26.0px;font-family:'Liberation Serif', serif;"><i>y</i></div><div class="a" id="t99" style="left:2597.0px;top:555.2px;font-size:26.0px;font-family:'Liberation Serif', serif;"><i>x</i></div><div class="a" id="t100" style="left:2416.0px;top:483.9px;font-size:30.0px;font-family:'Liberation Serif', serif;transform:translateX(-50%);"><i>X</i><span class="sb">1</span></div><div class="a" id="t101" style="left:2361.0px;top:635.9px;font-size:30.0px;font-family:'Liberation Serif', serif;transform:translateX(-50%);"><i>X</i><span class="sb">2</span></div><div class="a" id="t102" style="left:2540.0px;top:620.9px;font-size:30.0px;font-family:'Liberation Serif', serif;transform:translateX(-50%);"><i>X</i><span class="sb">3</span></div><div class="a" id="t103" style="left:2875.4px;top:436.6px;font-size:26.0px;font-family:'Liberation Serif', serif;letter-spacing:3.258px;"><i>ẋ</i> = <i>f</i><span class="sb">1</span>(<i>x</i>)</div><div class="a" id="t104" style="left:2892.0px;top:468.2px;font-size:26.0px;font-family:'Liberation Serif', serif;letter-spacing:3.492px;"><i>x</i> <svg class="elm" viewBox="0 0 10 12"><path d="M9 1.6H5.6A4.4 4.4 0 0 0 5.6 10.4H9M1.2 6H8.6" fill="none" stroke="currentColor" stroke-width="1.15"/></svg> <i>X</i><span class="sb">1</span></div><div class="a" id="t105" style="left:2718.0px;top:607.8px;font-size:26.0px;font-family:'Liberation Serif', serif;letter-spacing:3.195px;"><i>ẋ</i> = <i>f</i><span class="sb">2</span>(<i>x</i>)</div><div class="a" id="t106" style="left:2734.0px;top:639.8px;font-size:26.0px;font-family:'Liberation Serif', serif;letter-spacing:3.867px;"><i>x</i> <svg class="elm" viewBox="0 0 10 12"><path d="M9 1.6H5.6A4.4 4.4 0 0 0 5.6 10.4H9M1.2 6H8.6" fill="none" stroke="currentColor" stroke-width="1.15"/></svg> <i>X</i><span class="sb">2</span></div><div class="a" id="t107" style="left:3034.0px;top:607.8px;font-size:26.0px;font-family:'Liberation Serif', serif;letter-spacing:3.133px;"><i>ẋ</i> = <i>f</i><span class="sb">3</span>(<i>x</i>)</div><div class="a" id="t108" style="left:3050.8px;top:639.8px;font-size:26.0px;font-family:'Liberation Serif', serif;letter-spacing:3.542px;"><i>x</i> <svg class="elm" viewBox="0 0 10 12"><path d="M9 1.6H5.6A4.4 4.4 0 0 0 5.6 10.4H9M1.2 6H8.6" fill="none" stroke="currentColor" stroke-width="1.15"/></svg> <i>X</i><span class="sb">3</span></div><div class="a" id="t109" style="left:2756.0px;top:428.2px;font-size:26.0px;font-family:'Liberation Serif', serif;letter-spacing:3.117px;"><i>x</i> <svg class="elm" viewBox="0 0 10 12"><path d="M9 1.6H5.6A4.4 4.4 0 0 0 5.6 10.4H9M1.2 6H8.6" fill="none" stroke="currentColor" stroke-width="1.15"/></svg> <i>X</i><span class="sb">1</span></div><div class="a" id="t110" style="left:3112.0px;top:517.5px;font-size:26.0px;font-family:'Liberation Serif', serif;letter-spacing:3.117px;"><i>x</i> <svg class="elm" viewBox="0 0 10 12"><path d="M9 1.6H5.6A4.4 4.4 0 0 0 5.6 10.4H9M1.2 6H8.6" fill="none" stroke="currentColor" stroke-width="1.15"/></svg> <i>X</i><span class="sb">3</span></div><div class="a" id="t111" style="left:2872.0px;top:555.2px;font-size:26.0px;font-family:'Liberation Serif', serif;letter-spacing:3.542px;"><i>x</i> <svg class="elm" viewBox="0 0 10 12"><path d="M9 1.6H5.6A4.4 4.4 0 0 0 5.6 10.4H9M1.2 6H8.6" fill="none" stroke="currentColor" stroke-width="1.15"/></svg> <i>X</i><span class="sb">2</span></div><div class="a" id="t112" style="left:2936.5px;top:691.5px;font-size:26.0px;font-family:'Liberation Serif', serif;letter-spacing:3.492px;"><i>x</i> <svg class="elm" viewBox="0 0 10 12"><path d="M9 1.6H5.6A4.4 4.4 0 0 0 5.6 10.4H9M1.2 6H8.6" fill="none" stroke="currentColor" stroke-width="1.15"/></svg> <i>X</i><span class="sb">3</span></div><div class="a" id="t113" style="left:162.0px;top:134.9px;font-size:28.5px;font-family:'Liberation Sans', sans-serif;color:#2b2d33;transform-origin:left;transform:scaleX(0.8941);">NEURAL INFORMATION</div><div class="a" id="t114" style="left:162.0px;top:161.9px;font-size:28.5px;font-family:'Liberation Sans', sans-serif;color:#2b2d33;transform-origin:left;transform:scaleX(0.8529);">PROCESSING SYSTEMS</div><div class="a" id="t115" style="left:2960.0px;top:202.2px;font-size:21.0px;font-family:'Liberation Sans', sans-serif;color:#505050;transform-origin:left;transform:scaleX(0.7480);">EPSRC Centre for Doctoral Training in</div><div class="a" id="t116" style="left:2960.0px;top:223.2px;font-size:21.0px;font-family:'Liberation Sans', sans-serif;color:#505050;transform-origin:left;transform:scaleX(0.7701);">Autonomous Intelligent Machines &amp; Systems</div><div class="a" id="t117" style="left:117.2px;top:2242.3px;font-size:16.5px;font-family:'Liberation Sans', sans-serif;color:#fff;transform-origin:left;transform:scaleX(0.9515);">UNIVERSITY OF</div><div class="a" id="t118" style="left:116.0px;top:2259.6px;font-size:35.5px;font-family:'Liberation Serif', serif;color:#fff;letter-spacing:0.943px;">OXFORD</div><div class="a" id="t119" style="left:975.0px;top:2162.9px;font-size:55.0px;font-family:'Liberation Serif', serif;color:#1a1a1a;letter-spacing:0.446px;">UNIVERSITY</div><div class="a" id="t120" style="left:1311.0px;top:2170.9px;font-size:30.0px;font-family:'Liberation Serif', serif;font-style:italic;color:#1a1a1a;transform-origin:left;transform:scaleX(1.3250);">OF</div><div class="a" id="t121" style="left:975.0px;top:2216.9px;font-size:55.0px;font-family:'Liberation Serif', serif;color:#1a1a1a;letter-spacing:2.701px;">BIRMINGHAM</div><div class="a" id="t122" style="left:2230.0px;top:2173.3px;font-size:41.0px;font-family:'Liberation Sans', sans-serif;font-weight:bold;color:#2e2c5f;transform-origin:left;transform:scaleX(0.9206);">Engineering and</div><div class="a" id="t123" style="left:2230.0px;top:2214.3px;font-size:41.0px;font-family:'Liberation Sans', sans-serif;font-weight:bold;color:#2e2c5f;transform-origin:left;transform:scaleX(0.9140);">Physical Sciences</div><div class="a" id="t124" style="left:2230.0px;top:2255.3px;font-size:41.0px;font-family:'Liberation Sans', sans-serif;font-weight:bold;color:#2e2c5f;transform-origin:left;transform:scaleX(0.9095);">Research Council</div></body></html>
